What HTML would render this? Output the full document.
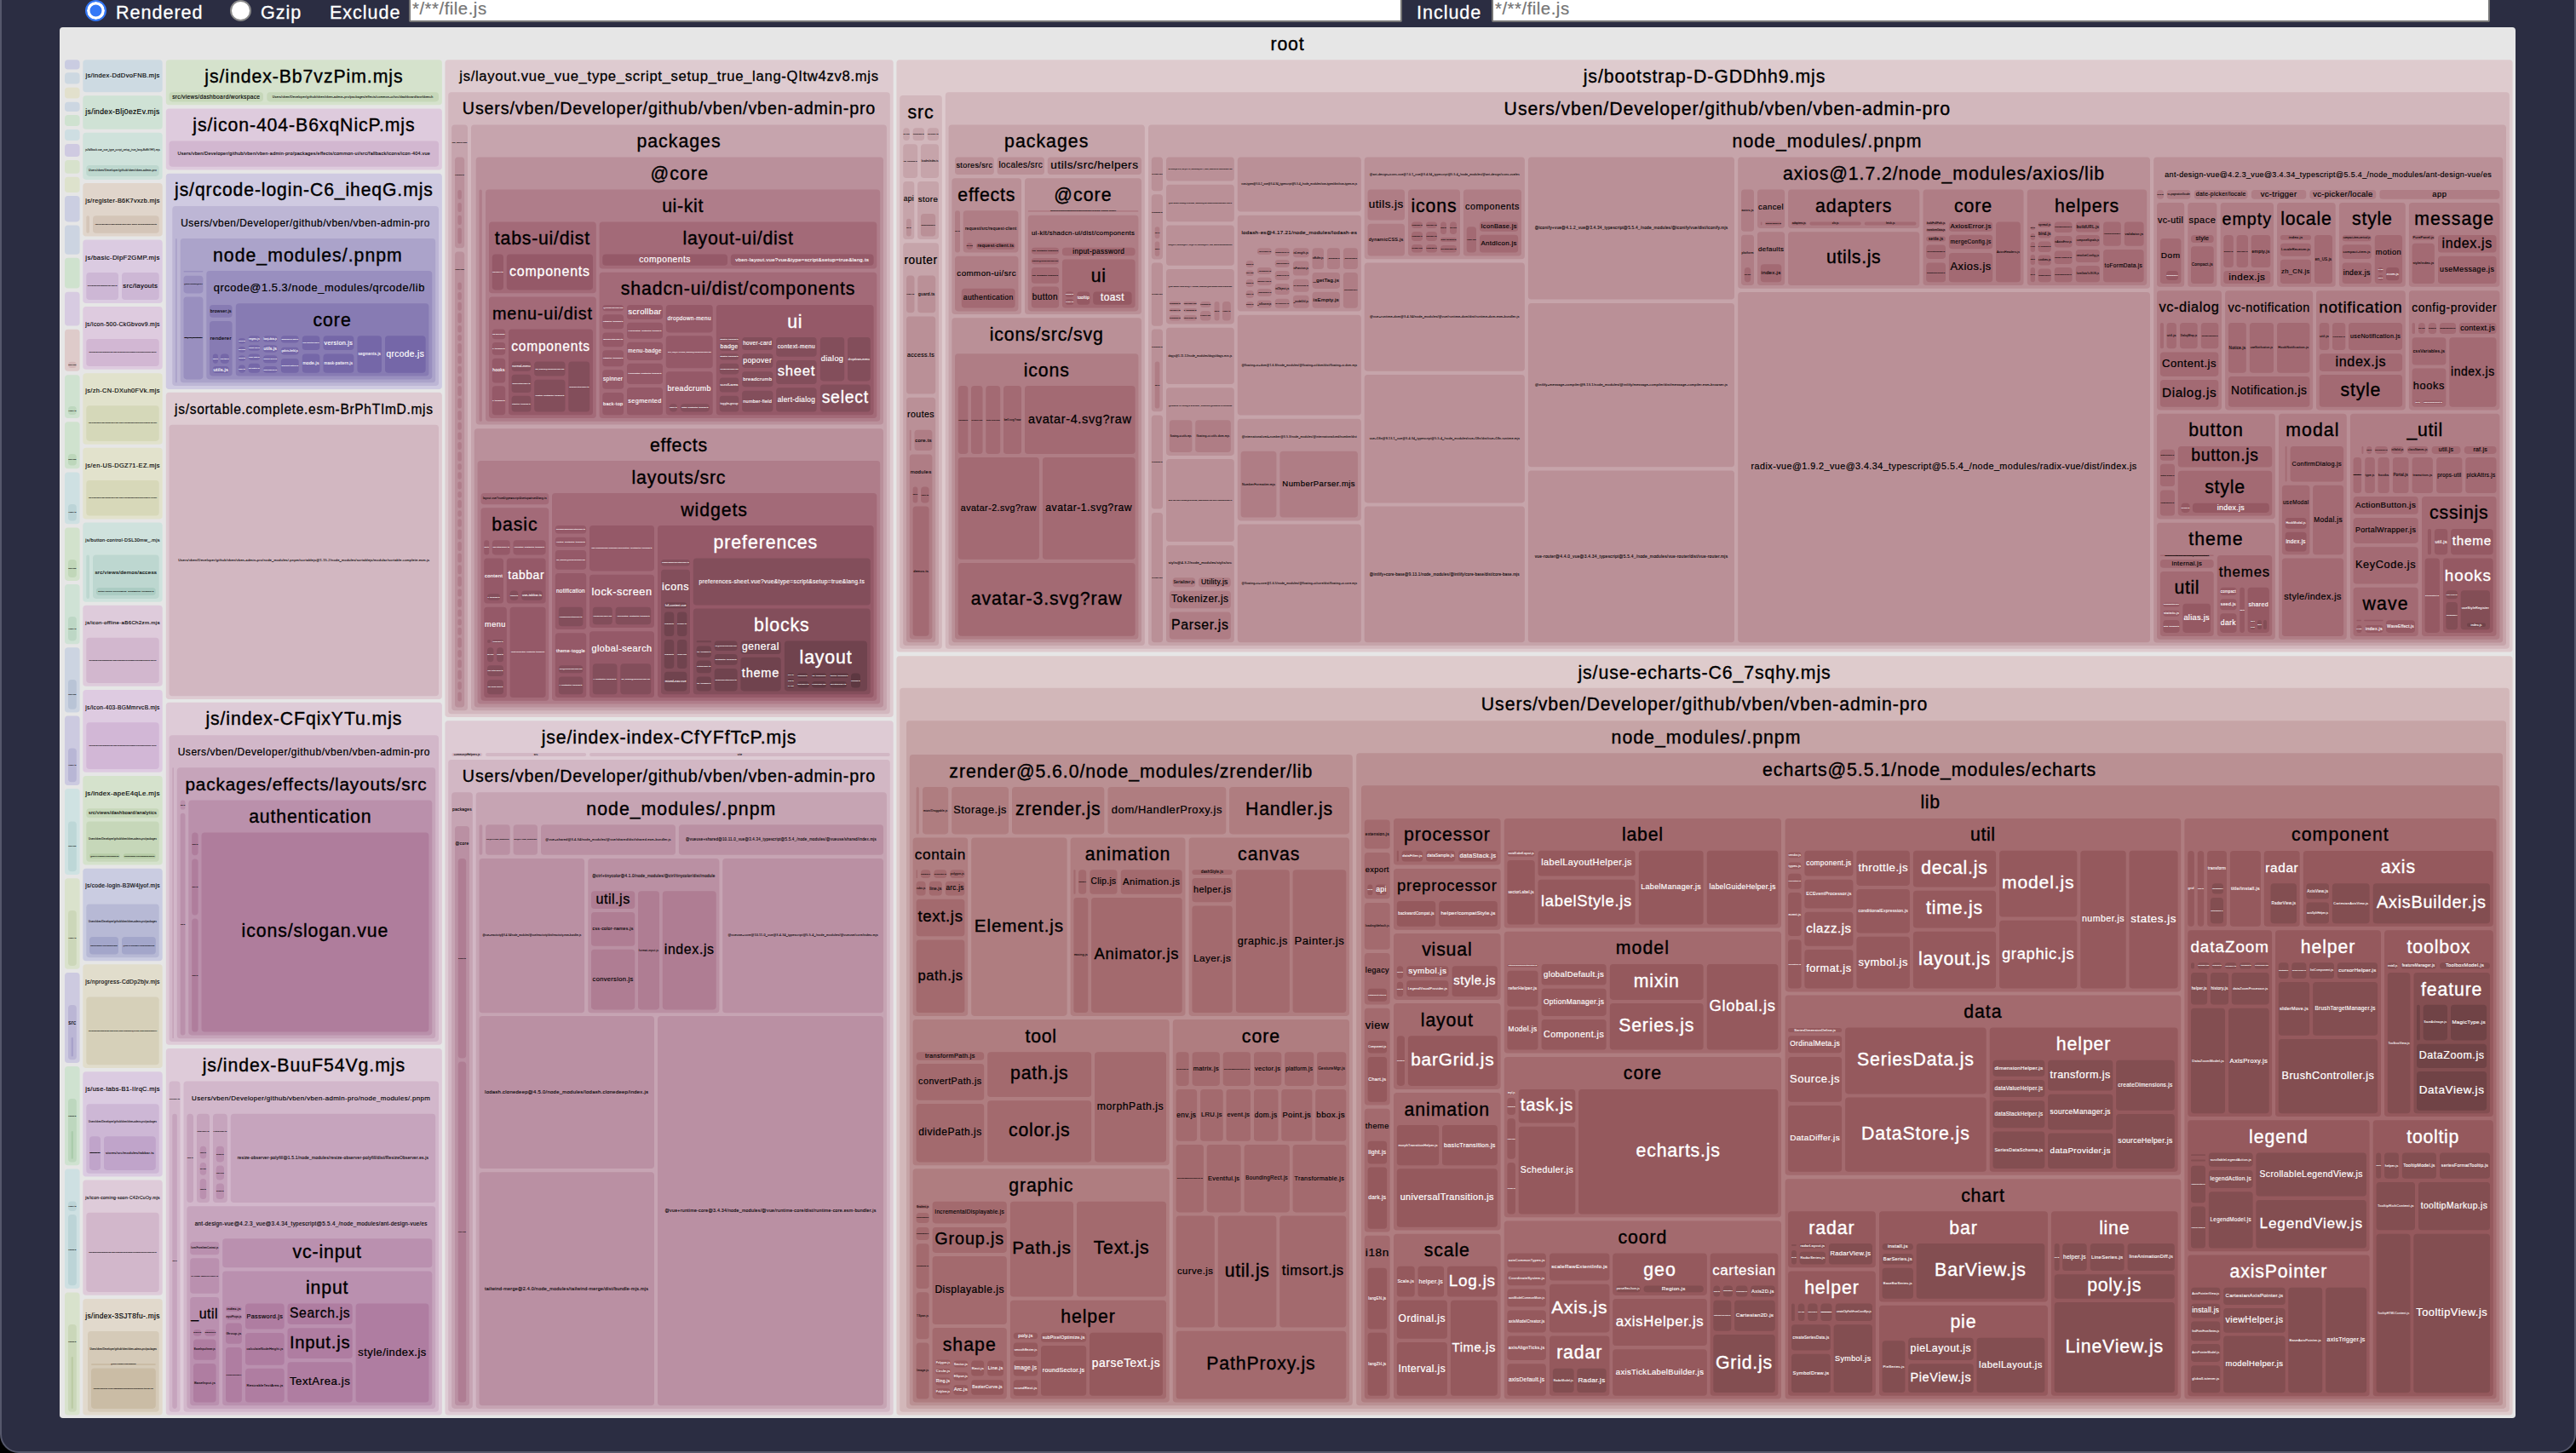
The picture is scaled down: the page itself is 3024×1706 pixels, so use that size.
<!DOCTYPE html>
<html lang="en"><head><meta charset="utf-8"><title>Rollup Visualizer</title>
<style>
html,body{margin:0;padding:0;background:#000;width:3024px;height:1706px;overflow:hidden}
body{position:relative;font-family:"Liberation Sans",sans-serif}
.win{position:absolute;left:0;top:-40px;width:3024px;height:1746px;box-sizing:border-box;border:2px solid #55576b;border-radius:22px;background:#2b2d42}
.hdr{position:absolute;left:0;top:0;width:3024px;height:32px;color:#fff;font-size:21.6px;letter-spacing:.95px;-webkit-text-stroke:.3px #fff}
.hdr span{position:absolute;top:2px;line-height:25px;white-space:nowrap}
.radio{position:absolute;top:0;width:25px;height:25px;border-radius:50%;box-sizing:border-box}
.r1{left:100px;background:#3478f6;border:2px solid #3478f6;box-shadow:inset 0 0 0 3.5px #fff}
.r2{left:270px;background:#fff;border:2px solid #8a8a8a}
.inp{position:absolute;top:-4px;height:30px;box-sizing:border-box;background:#fff;border:2px solid #767676;border-radius:2px;color:#757575;font-size:20.4px;line-height:25px;padding-left:2px;letter-spacing:.5px;-webkit-text-stroke:.2px #757575}
svg{position:absolute;left:0;top:0}
text{stroke-width:.018em;stroke:#000;font-family:"Liberation Sans",sans-serif;text-anchor:middle;dominant-baseline:middle;fill:#000}
text.w{fill:#fff;stroke:#fff}
</style></head><body>
<div class="win"></div>
<div class="hdr">
<div class="radio r1"></div><span style="left:136px">Rendered</span>
<div class="radio r2"></div><span style="left:306px">Gzip</span>
<span style="left:387px">Exclude</span><div class="inp" style="left:480px;width:1166px">*/**/file.js</div>
<span style="left:1663px">Include</span><div class="inp" style="left:1751px;width:1172px">*/**/file.js</div>
</div>
<svg width="3024" height="1706" viewBox="0 0 3024 1706">
<rect x="70" y="32" width="2883" height="1633" rx="3.8" fill="#e6e6e6"/>
<text x="1511.5" y="52.9" font-size="21.28" letter-spacing="0.83">root</text>
<rect x="76" y="70.2" width="17.6" height="11.3" rx="3.8" fill="#cacce1"/>
<text style="stroke-width:0.24px" x="84.8" y="75.8" font-size="0.49" letter-spacing="0.02">js/preferences.vue_vue_type_script_setup_true_lang-CkD92LmP.mjs</text>
<rect x="76" y="85.3" width="17.6" height="13.2" rx="3.8" fill="#cdd8e1"/>
<text style="stroke-width:0.24px" x="84.8" y="91.9" font-size="0.48" letter-spacing="0.02">js/authentication.vue_vue_type_script_setup_true_lang-Dq8sK2Lw.mjs</text>
<rect x="76" y="102.7" width="17.6" height="12.9" rx="3.8" fill="#e2e0cc"/>
<text style="stroke-width:0.24px" x="84.8" y="109.2" font-size="0.55" letter-spacing="0.02">js/index.vue_vue_type_script_setup_true_lang-B1xZq0aM.mjs</text>
<rect x="76" y="119.7" width="17.6" height="11.3" rx="3.8" fill="#ccd6e1"/>
<text style="stroke-width:0.24px" x="84.8" y="125.3" font-size="0.49" letter-spacing="0.02">js/preferences.vue_vue_type_script_setup_true_lang-CkD92LmP.mjs</text>
<rect x="76" y="134.9" width="17.6" height="13.1" rx="3.8" fill="#cfe2d0"/>
<text style="stroke-width:0.24px" x="84.8" y="141.4" font-size="0.48" letter-spacing="0.02">js/authentication.vue_vue_type_script_setup_true_lang-Dq8sK2Lw.mjs</text>
<rect x="76" y="152" width="17.6" height="13" rx="3.8" fill="#cedee2"/>
<text style="stroke-width:0.24px" x="84.8" y="158.5" font-size="0.55" letter-spacing="0.02">js/index.vue_vue_type_script_setup_true_lang-B1xZq0aM.mjs</text>
<rect x="76" y="169" width="17.6" height="15" rx="3.8" fill="#cfcae1"/>
<text style="stroke-width:0.24px" x="84.8" y="176.5" font-size="0.49" letter-spacing="0.02">js/preferences.vue_vue_type_script_setup_true_lang-CkD92LmP.mjs</text>
<rect x="76" y="188" width="17.6" height="15.7" rx="3.8" fill="#d7e2cc"/>
<text style="stroke-width:0.24px" x="84.8" y="195.8" font-size="0.48" letter-spacing="0.02">js/authentication.vue_vue_type_script_setup_true_lang-Dq8sK2Lw.mjs</text>
<rect x="76" y="207.8" width="17.6" height="18.2" rx="3.8" fill="#dde2cc"/>
<text style="stroke-width:0.24px" x="84.8" y="216.9" font-size="0.55" letter-spacing="0.02">js/index.vue_vue_type_script_setup_true_lang-B1xZq0aM.mjs</text>
<rect x="76" y="230" width="17.6" height="30.4" rx="3.8" fill="#cbcee1"/>
<text style="stroke-width:0.24px" x="84.8" y="245.2" font-size="0.49" letter-spacing="0.02">js/preferences.vue_vue_type_script_setup_true_lang-CkD92LmP.mjs</text>
<rect x="76" y="264.5" width="17.6" height="34.2" rx="3.8" fill="#ccd4e1"/>
<text style="stroke-width:0.24px" x="84.8" y="281.6" font-size="0.48" letter-spacing="0.02">js/authentication.vue_vue_type_script_setup_true_lang-Dq8sK2Lw.mjs</text>
<rect x="76" y="302.8" width="17.6" height="35.8" rx="3.8" fill="#cfe2ce"/>
<text style="stroke-width:0.24px" x="84.8" y="320.7" font-size="0.55" letter-spacing="0.02">js/index.vue_vue_type_script_setup_true_lang-B1xZq0aM.mjs</text>
<rect x="76" y="342.7" width="17.6" height="39.9" rx="3.8" fill="#d7cbe1"/>
<text style="stroke-width:0.24px" x="84.8" y="362.6" font-size="0.49" letter-spacing="0.02">js/preferences.vue_vue_type_script_setup_true_lang-CkD92LmP.mjs</text>
<rect x="76" y="386.8" width="17.6" height="49" rx="3.8" fill="#decbca"/>
<text style="stroke-width:0.24px" x="84.8" y="407.7" font-size="0.48" letter-spacing="0.02">js/authentication.vue_vue_type_script_setup_true_lang-Dq8sK2Lw.mjs</text>
<rect x="80" y="424.8" width="9.8" height="7.1" rx="3.5" fill="#d2b7b7"/>
<text style="stroke-width:0.07px" x="84.9" y="428.4" font-size="1.99" letter-spacing="0.08">index.mjs</text>
<rect x="76" y="440.2" width="17.6" height="50.9" rx="3.8" fill="#cfe2d0"/>
<text style="stroke-width:0.24px" x="84.8" y="461.1" font-size="0.55" letter-spacing="0.02">js/index.vue_vue_type_script_setup_true_lang-B1xZq0aM.mjs</text>
<rect x="80" y="477" width="9.8" height="10" rx="3.8" fill="#bdd7be"/>
<text style="stroke-width:0.07px" x="84.9" y="482" font-size="2.26" letter-spacing="0.08">/index.ts</text>
<rect x="76" y="495.2" width="17.6" height="55.1" rx="3.8" fill="#cfe2ce"/>
<text style="stroke-width:0.24px" x="84.8" y="516.1" font-size="0.49" letter-spacing="0.02">js/preferences.vue_vue_type_script_setup_true_lang-CkD92LmP.mjs</text>
<rect x="80" y="533" width="9.8" height="13.5" rx="3.8" fill="#bdd7bb"/>
<text style="stroke-width:0.07px" x="84.9" y="539.8" font-size="1.99" letter-spacing="0.08">index.mjs</text>
<rect x="76" y="554.4" width="17.6" height="60.9" rx="3.8" fill="#cee0e2"/>
<text style="stroke-width:0.24px" x="84.8" y="575.3" font-size="0.48" letter-spacing="0.02">js/authentication.vue_vue_type_script_setup_true_lang-Dq8sK2Lw.mjs</text>
<rect x="80" y="592" width="9.8" height="19.5" rx="3.8" fill="#bcd4d7"/>
<text style="stroke-width:0.07px" x="84.9" y="601.8" font-size="2.26" letter-spacing="0.08">/index.ts</text>
<rect x="76" y="619.4" width="17.6" height="62.5" rx="3.8" fill="#d2e2cc"/>
<text style="stroke-width:0.24px" x="84.8" y="640.3" font-size="0.55" letter-spacing="0.02">js/index.vue_vue_type_script_setup_true_lang-B1xZq0aM.mjs</text>
<rect x="80" y="657" width="9.8" height="21" rx="3.8" fill="#c1d7b9"/>
<text style="stroke-width:0.07px" x="84.9" y="667.5" font-size="1.99" letter-spacing="0.08">index.mjs</text>
<rect x="76" y="686" width="17.6" height="70.2" rx="3.8" fill="#cfe2d5"/>
<text style="stroke-width:0.24px" x="84.8" y="706.9" font-size="0.49" letter-spacing="0.02">js/preferences.vue_vue_type_script_setup_true_lang-CkD92LmP.mjs</text>
<rect x="80" y="724" width="9.8" height="28.4" rx="3.8" fill="#bdd7c5"/>
<text style="stroke-width:0.07px" x="84.9" y="738.2" font-size="2.26" letter-spacing="0.08">/index.ts</text>
<rect x="76" y="760.3" width="17.6" height="76.3" rx="3.8" fill="#ccd4e1"/>
<text style="stroke-width:0.24px" x="84.8" y="781.2" font-size="0.48" letter-spacing="0.02">js/authentication.vue_vue_type_script_setup_true_lang-Dq8sK2Lw.mjs</text>
<rect x="80" y="798" width="9.8" height="34.8" rx="3.8" fill="#b9c4d6"/>
<text style="stroke-width:0.07px" x="84.9" y="815.4" font-size="1.99" letter-spacing="0.08">index.mjs</text>
<rect x="76" y="840.5" width="17.6" height="81.5" rx="3.8" fill="#cccae0"/>
<text style="stroke-width:0.24px" x="84.8" y="861.4" font-size="0.55" letter-spacing="0.02">js/index.vue_vue_type_script_setup_true_lang-B1xZq0aM.mjs</text>
<rect x="80" y="878.5" width="9.8" height="39.7" rx="3.8" fill="#b8b6d5"/>
<text style="stroke-width:0.07px" x="84.9" y="898.4" font-size="2.26" letter-spacing="0.08">/index.ts</text>
<rect x="76" y="926" width="17.6" height="101" rx="3.8" fill="#cfe2e2"/>
<text style="stroke-width:0.24px" x="84.8" y="946.9" font-size="0.49" letter-spacing="0.02">js/preferences.vue_vue_type_script_setup_true_lang-CkD92LmP.mjs</text>
<rect x="80" y="964.4" width="9.8" height="58.8" rx="3.8" fill="#bdd7d7"/>
<text style="stroke-width:0.07px" x="84.9" y="993.8" font-size="1.99" letter-spacing="0.08">index.mjs</text>
<rect x="76" y="1031.2" width="17.6" height="106.6" rx="3.8" fill="#dae2cc"/>
<text style="stroke-width:0.24px" x="84.8" y="1052.1" font-size="0.48" letter-spacing="0.02">js/authentication.vue_vue_type_script_setup_true_lang-Dq8sK2Lw.mjs</text>
<rect x="80" y="1069" width="9.8" height="65" rx="3.8" fill="#ccd7b9"/>
<text style="stroke-width:0.07px" x="84.9" y="1101.5" font-size="2.26" letter-spacing="0.08">/index.ts</text>
<rect x="76" y="1142" width="17.6" height="106" rx="3.8" fill="#cdcae0"/>
<text style="stroke-width:0.24px" x="84.8" y="1162.9" font-size="0.55" letter-spacing="0.02">js/index.vue_vue_type_script_setup_true_lang-B1xZq0aM.mjs</text>
<rect x="80" y="1180" width="9.8" height="64.2" rx="3.8" fill="#bbb6d5"/>
<text x="84.9" y="1200.9" font-size="6.32" letter-spacing="0.25">src</text>
<rect x="83.6" y="1218" width="2.4" height="22.5" rx="1.2" fill="#a8a2ca"/>
<rect x="76" y="1252" width="17.6" height="116.3" rx="3.8" fill="#cfe2d0"/>
<text style="stroke-width:0.24px" x="84.8" y="1272.9" font-size="0.49" letter-spacing="0.02">js/preferences.vue_vue_type_script_setup_true_lang-CkD92LmP.mjs</text>
<rect x="80" y="1290" width="9.8" height="74.5" rx="3.8" fill="#bdd7be"/>
<text style="stroke-width:0.07px" x="84.9" y="1310.9" font-size="2.02" letter-spacing="0.08">e&amp;lang.ts</text>
<rect x="83.6" y="1328" width="2.4" height="32.7" rx="1.2" fill="#abccac"/>
<rect x="76" y="1372.4" width="17.6" height="140.6" rx="3.8" fill="#cee0e2"/>
<text style="stroke-width:0.24px" x="84.8" y="1393.3" font-size="0.48" letter-spacing="0.02">js/authentication.vue_vue_type_script_setup_true_lang-Dq8sK2Lw.mjs</text>
<rect x="80" y="1410.4" width="9.8" height="11.6" rx="3.8" fill="#bcd4d7"/>
<text style="stroke-width:0.07px" x="84.9" y="1416.2" font-size="2.26" letter-spacing="0.08">/index.ts</text>
<rect x="80" y="1426" width="9.8" height="83.2" rx="3.8" fill="#bcd4d7"/>
<text style="stroke-width:0.07px" x="84.9" y="1467.6" font-size="2.02" letter-spacing="0.08">e&amp;lang.ts</text>
<rect x="76" y="1517.4" width="17.6" height="144.1" rx="3.8" fill="#d8e2cc"/>
<text style="stroke-width:0.24px" x="84.8" y="1538.3" font-size="0.55" letter-spacing="0.02">js/index.vue_vue_type_script_setup_true_lang-B1xZq0aM.mjs</text>
<rect x="80" y="1555" width="9.8" height="102.7" rx="3.8" fill="#cad7b9"/>
<text style="stroke-width:0.07px" x="84.9" y="1575.9" font-size="2.02" letter-spacing="0.08">e&amp;lang.ts</text>
<rect x="83.6" y="1593" width="2.4" height="60.9" rx="1.2" fill="#bccca6"/>
<rect x="97.3" y="70.2" width="93.4" height="38" rx="3.8" fill="#cddae2"/>
<text x="144" y="89.2" font-size="7.56" letter-spacing="0.34">js/index-DdDvoFNB.mjs</text>
<rect x="97.3" y="112.3" width="93.4" height="39.4" rx="3.8" fill="#cfe2d5"/>
<text x="144" y="132" font-size="8.57" letter-spacing="0.34">js/index-Blj0ezEv.mjs</text>
<rect x="97.3" y="155.8" width="93.4" height="55.1" rx="3.8" fill="#cfe2db"/>
<text style="stroke-width:0.07px" x="144" y="176.7" font-size="2.83" letter-spacing="0.12">js/fallback.vue_vue_type_script_setup_true_lang-BxBhYHYj.mjs</text>
<rect x="101.3" y="194" width="85.4" height="12.9" rx="3.8" fill="#bdd7ce"/>
<text x="144" y="200.4" font-size="3.24" letter-spacing="0.14">Users/vben/Developer/github/vben/vben-admin-pro</text>
<rect x="97.3" y="215" width="93.4" height="62.5" rx="3.8" fill="#e0d5cb"/>
<text x="144" y="235.9" font-size="7.3" letter-spacing="0.30">js/register-B6K7vxzb.mjs</text>
<rect x="101.3" y="253.3" width="3.7" height="20.4" rx="1.9" fill="#d4c5b8"/>
<rect x="109" y="253.3" width="77.7" height="20.4" rx="3.8" fill="#d4c5b8"/>
<text style="stroke-width:0.07px" x="147.8" y="263.5" font-size="2.2" letter-spacing="0.09">Users/vben/Developer/github/vben/vben-admin-pro/packages/effects</text>
<rect x="97.3" y="281.6" width="93.4" height="74.4" rx="3.8" fill="#dbcbe1"/>
<text x="144" y="302.5" font-size="7.78" letter-spacing="0.34">js/basic-DlpF2GMP.mjs</text>
<rect x="101.3" y="320" width="37.7" height="32" rx="3.8" fill="#cdb7d5"/>
<text style="stroke-width:0.07px" x="120.2" y="336" font-size="1.43" letter-spacing="0.06">Users/vben/Developer/github/vben/vben-admin-pro</text>
<rect x="143" y="320" width="43.7" height="32" rx="3.8" fill="#cdb7d5"/>
<text x="164.8" y="336" font-size="7.86" letter-spacing="0.31">src/layouts</text>
<rect x="97.3" y="360" width="93.4" height="73.8" rx="3.8" fill="#decbdf"/>
<text x="144" y="380.9" font-size="6.88" letter-spacing="0.30">js/icon-500-CkGbvov9.mjs</text>
<rect x="101.3" y="398" width="85.4" height="32" rx="3.8" fill="#d2b7d3"/>
<text style="stroke-width:0.07px" x="144" y="414" font-size="1.48" letter-spacing="0.06">Users/vben/Developer/github/vben/vben-admin-pro/packages/effects/common-ui/src/fallback/icons/icon-500.vue</text>
<rect x="97.3" y="438.3" width="93.4" height="83.4" rx="3.8" fill="#e1e2cc"/>
<text x="144" y="459.2" font-size="7.41" letter-spacing="0.34">js/zh-CN-DXuh0FVk.mjs</text>
<rect x="101.3" y="476.2" width="85.4" height="41.7" rx="3.8" fill="#d5d8b9"/>
<text style="stroke-width:0.07px" x="144" y="497" font-size="1.83" letter-spacing="0.08">Users/vben/Developer/github/vben/vben-admin-pro/packages/locales/src/langs/zh-CN.json</text>
<rect x="97.3" y="525.8" width="93.4" height="83.7" rx="3.8" fill="#e2e2cc"/>
<text x="144" y="546.7" font-size="7.41" letter-spacing="0.34">js/en-US-DGZ71-EZ.mjs</text>
<rect x="101.3" y="564" width="85.4" height="41.6" rx="3.8" fill="#d7d8b9"/>
<text style="stroke-width:0.07px" x="144" y="584.8" font-size="1.83" letter-spacing="0.08">Users/vben/Developer/github/vben/vben-admin-pro/packages/locales/src/langs/en-US.json</text>
<rect x="97.3" y="613.6" width="93.4" height="93.1" rx="3.8" fill="#cfe2dd"/>
<text x="144" y="634.5" font-size="5.56" letter-spacing="0.24">js/button-control-DSL30mw_.mjs</text>
<rect x="101.3" y="651.6" width="3.7" height="51.3" rx="1.9" fill="#bdd7d0"/>
<rect x="109" y="651.6" width="77.7" height="51.3" rx="3.8" fill="#bdd7d0"/>
<text x="147.8" y="672.5" font-size="6.2" letter-spacing="0.27">src/views/demos/access</text>
<rect x="112.9" y="690" width="69.9" height="9" rx="3.8" fill="#abccc3"/>
<text style="stroke-width:0.07px" x="147.9" y="694.5" font-size="2.43" letter-spacing="0.10">button-control.vue?vue&amp;type=script&amp;setup=true&amp;lang.ts</text>
<rect x="97.3" y="710.8" width="93.4" height="95" rx="3.8" fill="#decbdb"/>
<text x="144" y="731.7" font-size="6.21" letter-spacing="0.26">js/icon-offline-aB6Ch2zm.mjs</text>
<rect x="101.3" y="748.8" width="85.4" height="53.2" rx="3.8" fill="#d2b7ce"/>
<text style="stroke-width:0.07px" x="144" y="775.4" font-size="1.45" letter-spacing="0.06">Users/vben/Developer/github/vben/vben-admin-pro/packages/effects/common-ui/src/fallback/icons/icon-offline.vue</text>
<rect x="97.3" y="810" width="93.4" height="96.8" rx="3.8" fill="#decbe1"/>
<text x="144" y="830.9" font-size="6.63" letter-spacing="0.30">js/icon-403-BGMmrvcB.mjs</text>
<rect x="101.3" y="848.2" width="85.4" height="54.8" rx="3.8" fill="#d2b7d6"/>
<text style="stroke-width:0.07px" x="144" y="875.6" font-size="1.48" letter-spacing="0.06">Users/vben/Developer/github/vben/vben-admin-pro/packages/effects/common-ui/src/fallback/icons/icon-403.vue</text>
<rect x="97.3" y="911" width="93.4" height="104.6" rx="3.8" fill="#d5e2cc"/>
<text x="144" y="931.9" font-size="7.94" letter-spacing="0.34">js/index-apeE4qLe.mjs</text>
<rect x="101.3" y="949.2" width="85.4" height="11" rx="3.8" fill="#c6d7b9"/>
<text x="144" y="954.7" font-size="5.53" letter-spacing="0.23">src/views/dashboard/analytics</text>
<rect x="101.3" y="964.4" width="85.4" height="47.4" rx="3.8" fill="#c6d7b9"/>
<text style="stroke-width:0.07px" x="144" y="985.3" font-size="2.7" letter-spacing="0.12">Users/vben/Developer/github/vben/vben-admin-pro/packages</text>
<rect x="105" y="1002.3" width="35.7" height="5.7" rx="2.9" fill="#b6cca6"/>
<text style="stroke-width:0.07px" x="122.8" y="1005.1" font-size="1.75" letter-spacing="0.07">@core/ui-kit/shadcn-ui/dist/components</text>
<rect x="144.8" y="1002.3" width="38" height="5.7" rx="2.9" fill="#b6cca6"/>
<text style="stroke-width:0.07px" x="163.8" y="1005.1" font-size="1.75" letter-spacing="0.07">effects/common-ui/src/dashboard/analysis</text>
<rect x="97.3" y="1019.7" width="93.4" height="108.5" rx="3.8" fill="#cacce1"/>
<text x="144" y="1040.6" font-size="6.66" letter-spacing="0.28">js/code-login-B3W4jyof.mjs</text>
<rect x="101.3" y="1061.5" width="85.4" height="62.8" rx="3.8" fill="#b7b9d5"/>
<text style="stroke-width:0.07px" x="144" y="1082.4" font-size="2.7" letter-spacing="0.12">Users/vben/Developer/github/vben/vben-admin-pro/packages</text>
<rect x="105" y="1100" width="34" height="20.5" rx="3.8" fill="#a3a6ca"/>
<text style="stroke-width:0.07px" x="122" y="1110.2" font-size="1.8" letter-spacing="0.07">effects/common-ui/src/authentication</text>
<rect x="143" y="1100" width="39.8" height="20.5" rx="3.8" fill="#a3a6ca"/>
<text style="stroke-width:0.07px" x="162.9" y="1110.2" font-size="1.95" letter-spacing="0.08">@core/ui-kit/shadcn-ui/dist/components</text>
<rect x="97.3" y="1132.3" width="93.4" height="121.7" rx="3.8" fill="#e1ddcc"/>
<text x="144" y="1153.2" font-size="6.73" letter-spacing="0.29">js/nprogress-CdDp2bjv.mjs</text>
<rect x="101.3" y="1170.4" width="85.4" height="79.8" rx="3.8" fill="#d6d0b9"/>
<text style="stroke-width:0.07px" x="144" y="1210.3" font-size="1.27" letter-spacing="0.06">Users/vben/Developer/github/vben/vben-admin-pro/node_modules/.pnpm/nprogress@0.2.0/node_modules/nprogress/nprogress.js</text>
<rect x="97.3" y="1258.2" width="93.4" height="123.3" rx="3.8" fill="#dbcbe1"/>
<text x="144" y="1279.1" font-size="7.49" letter-spacing="0.30">js/use-tabs-B1-IIrqC.mjs</text>
<rect x="101.3" y="1296.2" width="85.4" height="81.5" rx="3.8" fill="#cdb7d5"/>
<text style="stroke-width:0.07px" x="144" y="1317.1" font-size="2.7" letter-spacing="0.12">Users/vben/Developer/github/vben/vben-admin-pro/packages</text>
<rect x="105" y="1334.2" width="13" height="39.7" rx="3.8" fill="#c0a4ca"/>
<text style="stroke-width:0.24px" x="111.5" y="1354.1" font-size="0.88" letter-spacing="0.03">effects/hooks/src/use-tabs.ts</text>
<rect x="122" y="1334.2" width="60.8" height="39.7" rx="3.8" fill="#c0a4ca"/>
<text x="152.4" y="1354.1" font-size="4.18" letter-spacing="0.17">stores/src/modules/tabbar.ts</text>
<rect x="97.3" y="1385.6" width="93.4" height="135.1" rx="3.8" fill="#decbd9"/>
<text x="144" y="1406.5" font-size="5.11" letter-spacing="0.23">js/icon-coming-soon-C42rCuOy.mjs</text>
<rect x="101.3" y="1423.7" width="85.4" height="93.3" rx="3.8" fill="#d2b7cb"/>
<text style="stroke-width:0.07px" x="144" y="1470.3" font-size="1.37" letter-spacing="0.06">Users/vben/Developer/github/vben/vben-admin-pro/packages/effects/common-ui/src/fallback/icons/icon-coming-soon.vue</text>
<rect x="97.3" y="1524.9" width="93.4" height="136.6" rx="3.8" fill="#e1d9cc"/>
<text x="144" y="1545.8" font-size="8.35" letter-spacing="0.34">js/index-3SJT8fu-.mjs</text>
<rect x="103" y="1562.9" width="83.7" height="94.8" rx="3.8" fill="#d5cab8"/>
<text style="stroke-width:0.07px" x="144.8" y="1583.8" font-size="2.65" letter-spacing="0.12">Users/vben/Developer/github/vben/vben-admin-pro/packages</text>
<rect x="107" y="1601" width="75.8" height="2" rx="1" fill="#cabca5"/>
<text style="stroke-width:0.07px" x="144.9" y="1602" font-size="1.56" letter-spacing="0.06">@core/ui-kit/shadcn-ui/dist/components</text>
<rect x="107" y="1606.6" width="75.8" height="47.3" rx="3.8" fill="#cabca5"/>
<text style="stroke-width:0.07px" x="144.9" y="1630.2" font-size="2.17" letter-spacing="0.09">effects/common-ui/src/dashboard/workbench/workbench-trends.vue</text>
<rect x="194.8" y="70.2" width="324.1" height="53.1" rx="3.8" fill="#d5e2cc"/>
<text x="356.9" y="91.1" font-size="21.28" letter-spacing="0.92">js/index-Bb7vzPim.mjs</text>
<rect x="198.5" y="108.3" width="110.5" height="11.1" rx="3.8" fill="#c6d7b9"/>
<text x="253.8" y="113.8" font-size="6.7" letter-spacing="0.29">src/views/dashboard/workspace</text>
<rect x="313.3" y="108.3" width="201.7" height="11.1" rx="3.8" fill="#c6d7b9"/>
<text x="414.1" y="113.8" font-size="3.66" letter-spacing="0.16">Users/vben/Developer/github/vben/vben-admin-pro/packages/effects/common-ui/src/dashboard/workbench</text>
<rect x="194.8" y="127.4" width="324.1" height="72.2" rx="3.8" fill="#decbdd"/>
<text x="356.9" y="148.3" font-size="21.28" letter-spacing="0.90">js/icon-404-B6xqNicP.mjs</text>
<rect x="198.5" y="165.4" width="316.5" height="30.4" rx="3.8" fill="#d2b7d0"/>
<text x="356.8" y="180.6" font-size="5.5" letter-spacing="0.23">Users/vben/Developer/github/vben/vben-admin-pro/packages/effects/common-ui/src/fallback/icons/icon-404.vue</text>
<rect x="194.8" y="203.7" width="324.1" height="253.3" rx="3.8" fill="#cfcae1"/>
<text x="356.9" y="224.6" font-size="21.15" letter-spacing="0.90">js/qrcode-login-C6_iheqG.mjs</text>
<rect x="202.3" y="241.9" width="312.7" height="211.1" rx="3.8" fill="#bdb6d5"/>
<text x="358.6" y="262.8" font-size="11.88" letter-spacing="0.51">Users/vben/Developer/github/vben/vben-admin-pro</text>
<rect x="205.9" y="280" width="1.9" height="169.2" rx="1" fill="#aba3ca"/>
<rect x="211.7" y="280" width="299.5" height="169.2" rx="3.8" fill="#aba3ca"/>
<text x="361.4" y="300.9" font-size="21.28" letter-spacing="1.02">node_modules/.pnpm</text>
<rect x="215.5" y="318" width="22.9" height="1.5" rx="0.8" fill="#998fbf"/>
<text style="stroke-width:0.24px" x="226.9" y="318.8" font-size="0.39" letter-spacing="0.02">packages/effects/layouts/src/widgets/preferences/blocks/layout/content.vue?vue&amp;type=script&amp;setup=true&amp;lang.ts</text>
<rect x="215.5" y="323.8" width="22.9" height="20.6" rx="3.8" fill="#998fbf"/>
<text style="stroke-width:0.07px" x="226.9" y="334.1" font-size="1.38" letter-spacing="0.06">@vueuse+integrations@10.11.0</text>
<rect x="215.5" y="348.5" width="22.9" height="96.9" rx="3.8" fill="#998fbf"/>
<text style="stroke-width:0.24px" x="226.9" y="396.9" font-size="0.87" letter-spacing="0.03">dijkstrajs@1.0.3/node_modules/dijkstrajs/dijkstra.js</text>
<rect x="242.3" y="318" width="265" height="127.4" rx="3.8" fill="#998fbf"/>
<text x="374.8" y="338.9" font-size="12.83" letter-spacing="0.57">qrcode@1.5.3/node_modules/qrcode/lib</text>
<rect x="246" y="358" width="26.6" height="14.8" rx="3.8" fill="#877bb3"/>
<text x="259.3" y="365.4" font-size="5.08" letter-spacing="0.21">browser.js</text>
<rect x="246" y="377" width="26.6" height="64.6" rx="3.8" fill="#877bb3"/>
<text x="259.3" y="397.9" font-size="6.05" letter-spacing="0.26">renderer</text>
<rect x="249.8" y="415.5" width="6.2" height="11.2" rx="3.1" fill="#7567a8"/>
<text class="w" style="stroke-width:0.07px" x="252.9" y="421.1" font-size="1.96" letter-spacing="0.08">ang.ts</text>
<rect x="258.8" y="415.5" width="10" height="11.2" rx="3.8" fill="#7567a8"/>
<text class="w" style="stroke-width:0.07px" x="263.8" y="421.1" font-size="2.01" letter-spacing="0.08">svg-tag.js</text>
<rect x="249.8" y="430" width="19" height="8" rx="3.8" fill="#7567a8"/>
<text class="w" x="259.3" y="434" font-size="5.88" letter-spacing="0.18">utils.js</text>
<rect x="276.8" y="356.2" width="226.6" height="85.4" rx="3.8" fill="#877bb3"/>
<text x="390.1" y="377.1" font-size="21.28" letter-spacing="0.93">core</text>
<rect x="280" y="397" width="8" height="6.5" rx="3.2" fill="#7567a8"/>
<text class="w" style="stroke-width:0.07px" x="284" y="400.2" font-size="2.33" letter-spacing="0.09">lang.ts</text>
<rect x="280" y="407" width="8" height="6.7" rx="3.3" fill="#7567a8"/>
<text class="w" style="stroke-width:0.07px" x="284" y="410.4" font-size="2" letter-spacing="0.09">dex.mjs</text>
<rect x="280" y="417.5" width="8" height="6.5" rx="3.2" fill="#7567a8"/>
<text class="w" style="stroke-width:0.07px" x="284" y="420.8" font-size="2.33" letter-spacing="0.09">lang.ts</text>
<rect x="280" y="428.5" width="8" height="9.2" rx="3.8" fill="#7567a8"/>
<text class="w" style="stroke-width:0.07px" x="284" y="433.1" font-size="2.13" letter-spacing="0.09">ndex.ts</text>
<rect x="291.6" y="394.3" width="13.6" height="7.3" rx="3.7" fill="#7567a8"/>
<text class="w" x="298.4" y="398" font-size="3.34" letter-spacing="0.13">regex.js</text>
<rect x="291.6" y="405.3" width="13.6" height="6.5" rx="3.2" fill="#7567a8"/>
<text class="w" style="stroke-width:0.07px" x="298.4" y="408.6" font-size="2.02" letter-spacing="0.08">format-info.js</text>
<rect x="291.6" y="415.5" width="13.6" height="7.5" rx="3.8" fill="#7567a8"/>
<text class="w" style="stroke-width:0.07px" x="298.4" y="419.2" font-size="2.19" letter-spacing="0.08">kanji-data.js</text>
<rect x="291.6" y="426.7" width="13.6" height="11" rx="3.8" fill="#7567a8"/>
<text class="w" style="stroke-width:0.07px" x="298.4" y="432.2" font-size="2.29" letter-spacing="0.08">bit-matrix.js</text>
<rect x="309" y="394.3" width="16.6" height="7.3" rx="3.7" fill="#7567a8"/>
<text class="w" style="stroke-width:0.07px" x="317.3" y="398" font-size="2.67" letter-spacing="0.10">kanji-data.js</text>
<rect x="309" y="405.3" width="16.6" height="8.4" rx="3.8" fill="#7567a8"/>
<text class="w" x="317.3" y="409.5" font-size="5.14" letter-spacing="0.16">utils.js</text>
<rect x="309" y="417.2" width="16.6" height="9.1" rx="3.8" fill="#7567a8"/>
<text class="w" style="stroke-width:0.07px" x="317.3" y="421.8" font-size="2.47" letter-spacing="0.09">galois-field.js</text>
<rect x="309" y="430" width="16.6" height="7.7" rx="3.8" fill="#7567a8"/>
<text class="w" style="stroke-width:0.07px" x="317.3" y="433.9" font-size="2.47" letter-spacing="0.10">polynomial.js</text>
<rect x="329.8" y="394.3" width="20.9" height="8.2" rx="3.8" fill="#7567a8"/>
<text class="w" style="stroke-width:0.07px" x="340.2" y="398.4" font-size="1.94" letter-spacing="0.08">alphanumeric-data.js</text>
<rect x="329.8" y="407.7" width="20.9" height="8.8" rx="3.8" fill="#7567a8"/>
<text class="w" style="stroke-width:0.07px" x="340.2" y="412.1" font-size="3.11" letter-spacing="0.11">galois-field.js</text>
<rect x="329.8" y="421" width="20.9" height="16.7" rx="3.8" fill="#7567a8"/>
<text class="w" style="stroke-width:0.07px" x="340.2" y="429.4" font-size="2.05" letter-spacing="0.08">alignment-pattern.js</text>
<rect x="354.8" y="394.3" width="20.6" height="16.7" rx="3.8" fill="#7567a8"/>
<text class="w" style="stroke-width:0.07px" x="365.1" y="402.6" font-size="1.71" letter-spacing="0.07">error-correction-code.js</text>
<rect x="354.8" y="415.5" width="20.6" height="22.2" rx="3.8" fill="#7567a8"/>
<text class="w" x="365.1" y="426.6" font-size="5.06" letter-spacing="0.23">mode.js</text>
<rect x="379.5" y="394.3" width="35.9" height="16.7" rx="3.8" fill="#7567a8"/>
<text class="w" x="397.4" y="402.6" font-size="7.31" letter-spacing="0.28">version.js</text>
<rect x="379.5" y="415.5" width="35.9" height="22.2" rx="3.8" fill="#7567a8"/>
<text class="w" x="397.4" y="426.6" font-size="4.51" letter-spacing="0.19">mask-pattern.js</text>
<rect x="419.5" y="394.3" width="28.5" height="43.4" rx="3.8" fill="#7567a8"/>
<text class="w" x="433.8" y="416" font-size="4.59" letter-spacing="0.20">segments.js</text>
<rect x="452" y="394.3" width="47.6" height="43.4" rx="3.8" fill="#7567a8"/>
<text class="w" x="475.8" y="416" font-size="10.08" letter-spacing="0.41">qrcode.js</text>
<rect x="194.8" y="460.8" width="324.1" height="360.2" rx="3.8" fill="#decbd2"/>
<text x="356.9" y="481.7" font-size="15.57" letter-spacing="0.68">js/sortable.complete.esm-BrPhTImD.mjs</text>
<rect x="198.5" y="498.8" width="316.5" height="318.5" rx="3.8" fill="#d2b7c1"/>
<text x="356.8" y="658" font-size="4.03" letter-spacing="0.17">Users/vben/Developer/github/vben/vben-admin-pro/node_modules/.pnpm/sortablejs@1.15.2/node_modules/sortablejs/modular/sortable.complete.esm.js</text>
<rect x="194.8" y="824.8" width="324.1" height="402" rx="3.8" fill="#decbd7"/>
<text x="356.9" y="845.7" font-size="21.28" letter-spacing="0.91">js/index-CFqixYTu.mjs</text>
<rect x="198.5" y="863.3" width="316.5" height="359.7" rx="3.8" fill="#d2b7c9"/>
<text x="356.8" y="884.2" font-size="12.03" letter-spacing="0.52">Users/vben/Developer/github/vben/vben-admin-pro</text>
<rect x="202.3" y="901.3" width="1.7" height="317.9" rx="0.8" fill="#c6a4ba"/>
<rect x="207.8" y="901.3" width="303.4" height="317.9" rx="3.8" fill="#c6a4ba"/>
<text x="359.5" y="922.2" font-size="20.79" letter-spacing="0.84">packages/effects/layouts/src</text>
<rect x="211.7" y="939.5" width="5.8" height="11.1" rx="2.9" fill="#ba90ab"/>
<text style="stroke-width:0.07px" x="214.6" y="945" font-size="1.87" letter-spacing="0.07">dex.ts</text>
<rect x="211.7" y="954.7" width="5.8" height="260.7" rx="2.9" fill="#ba90ab"/>
<text style="stroke-width:0.07px" x="214.6" y="1085.1" font-size="1.83" letter-spacing="0.07">ang.ts</text>
<rect x="221.3" y="939.5" width="286" height="275.9" rx="3.8" fill="#ba90ab"/>
<text x="364.3" y="960.4" font-size="21.28" letter-spacing="0.85">authentication</text>
<rect x="225.2" y="977.6" width="7.4" height="26.7" rx="3.7" fill="#af7d9c"/>
<text style="stroke-width:0.07px" x="228.9" y="991" font-size="2.16" letter-spacing="0.08">lang.ts</text>
<rect x="225.2" y="1008.4" width="7.4" height="66.1" rx="3.7" fill="#af7d9c"/>
<text style="stroke-width:0.07px" x="228.9" y="1041.5" font-size="1.97" letter-spacing="0.08">ndex.ts</text>
<rect x="225.2" y="1078.6" width="7.4" height="133" rx="3.7" fill="#af7d9c"/>
<text style="stroke-width:0.07px" x="228.9" y="1145.1" font-size="2.16" letter-spacing="0.08">lang.ts</text>
<rect x="236.5" y="977.6" width="266.9" height="234" rx="3.8" fill="#af7d9c"/>
<text x="369.9" y="1094.6" font-size="21.28" letter-spacing="0.89">icons/slogan.vue</text>
<rect x="194.8" y="1231.1" width="324.1" height="430.4" rx="3.8" fill="#decbd9"/>
<text x="356.9" y="1252" font-size="21.28" letter-spacing="0.94">js/index-BuuF54Vg.mjs</text>
<rect x="198.5" y="1269.5" width="13" height="388.2" rx="3.8" fill="#d2b7cb"/>
<text style="stroke-width:0.07px" x="205" y="1290.4" font-size="2.39" letter-spacing="0.08">ils/index.ts</text>
<rect x="202.3" y="1307.7" width="5.5" height="346.2" rx="2.8" fill="#c6a4bd"/>
<text style="stroke-width:0.07px" x="205.1" y="1480.8" font-size="1.74" letter-spacing="0.07">ang.ts</text>
<rect x="215.5" y="1269.5" width="299.5" height="388.2" rx="3.8" fill="#d2b7cb"/>
<text x="365.2" y="1290.4" font-size="7.92" letter-spacing="0.35">Users/vben/Developer/github/vben/vben-admin-pro/node_modules/.pnpm</text>
<rect x="219.4" y="1307.7" width="7.6" height="104.3" rx="3.8" fill="#c6a4bd"/>
<text style="stroke-width:0.07px" x="223.2" y="1359.8" font-size="2.22" letter-spacing="0.08">lang.ts</text>
<rect x="231" y="1307.7" width="15" height="104.3" rx="3.8" fill="#c6a4bd"/>
<text style="stroke-width:0.07px" x="238.5" y="1328.6" font-size="2.34" letter-spacing="0.08">utils/index.ts</text>
<rect x="234.7" y="1345.8" width="7.5" height="14.8" rx="3.8" fill="#ba90af"/>
<text style="stroke-width:0.07px" x="238.4" y="1353.2" font-size="2.19" letter-spacing="0.08">lang.ts</text>
<rect x="234.7" y="1365" width="7.5" height="14.8" rx="3.8" fill="#ba90af"/>
<text style="stroke-width:0.07px" x="238.4" y="1372.4" font-size="1.87" letter-spacing="0.08">dex.mjs</text>
<rect x="234.7" y="1383.9" width="7.5" height="24.1" rx="3.8" fill="#ba90af"/>
<text style="stroke-width:0.07px" x="238.4" y="1396" font-size="2.19" letter-spacing="0.08">lang.ts</text>
<rect x="250" y="1307.7" width="16.8" height="104.3" rx="3.8" fill="#c6a4bd"/>
<text style="stroke-width:0.07px" x="258.4" y="1328.6" font-size="2.3" letter-spacing="0.08">c/utils/index.ts</text>
<rect x="253.7" y="1345.8" width="9.3" height="18.6" rx="3.8" fill="#ba90af"/>
<text style="stroke-width:0.07px" x="258.4" y="1355.1" font-size="2.21" letter-spacing="0.09">&amp;lang.ts</text>
<rect x="253.7" y="1368.6" width="9.3" height="16.8" rx="3.8" fill="#ba90af"/>
<text style="stroke-width:0.07px" x="258.4" y="1377" font-size="2" letter-spacing="0.09">ndex.mjs</text>
<rect x="253.7" y="1389.5" width="9.3" height="18.5" rx="3.8" fill="#ba90af"/>
<text style="stroke-width:0.07px" x="258.4" y="1398.8" font-size="2.21" letter-spacing="0.09">&amp;lang.ts</text>
<rect x="270.8" y="1307.7" width="240.4" height="104.3" rx="3.8" fill="#c6a4bd"/>
<text x="391" y="1359.8" font-size="4.93" letter-spacing="0.20">resize-observer-polyfill@1.5.1/node_modules/resize-observer-polyfill/dist/ResizeObserver.es.js</text>
<rect x="219.4" y="1416.2" width="291.8" height="237.7" rx="3.8" fill="#c6a4bd"/>
<text x="365.3" y="1437.1" font-size="6.35" letter-spacing="0.28">ant-design-vue@4.2.3_vue@3.4.34_typescript@5.5.4_/node_modules/ant-design-vue/es</text>
<rect x="223.2" y="1458" width="34.1" height="15.2" rx="3.8" fill="#ba90af"/>
<text style="stroke-width:0.07px" x="240.2" y="1465.6" font-size="2.66" letter-spacing="0.11">form/FormItemContext.js</text>
<rect x="223.2" y="1477.2" width="34.1" height="41.6" rx="3.8" fill="#ba90af"/>
<text style="stroke-width:0.07px" x="240.2" y="1498" font-size="2.46" letter-spacing="0.10">vc-resize-observer/index.js</text>
<rect x="223.2" y="1523" width="34.1" height="127.2" rx="3.8" fill="#ba90af"/>
<text x="240.2" y="1543.9" font-size="15.98" letter-spacing="0.53">_util</text>
<rect x="227" y="1561" width="9.4" height="7.8" rx="3.8" fill="#af7da1"/>
<text style="stroke-width:0.07px" x="231.7" y="1564.9" font-size="2.24" letter-spacing="0.09">&amp;lang.ts</text>
<rect x="240.3" y="1561" width="13.3" height="7.8" rx="3.8" fill="#af7da1"/>
<text style="stroke-width:0.07px" x="246.9" y="1564.9" font-size="2.04" letter-spacing="0.07">statusUtils.js</text>
<rect x="227" y="1572.6" width="26.6" height="24.2" rx="3.8" fill="#af7da1"/>
<text style="stroke-width:0.07px" x="240.3" y="1584.7" font-size="2.96" letter-spacing="0.12">BaseInputInner.js</text>
<rect x="227" y="1601" width="26.6" height="45.5" rx="3.8" fill="#af7da1"/>
<text x="240.3" y="1623.8" font-size="4.15" letter-spacing="0.17">BaseInput.js</text>
<rect x="261.2" y="1454.3" width="246.1" height="34" rx="3.8" fill="#ba90af"/>
<text x="384.2" y="1471.3" font-size="21.28" letter-spacing="0.84">vc-input</text>
<rect x="261.2" y="1492.5" width="246.1" height="157.7" rx="3.8" fill="#ba90af"/>
<text x="384.2" y="1513.4" font-size="21.28" letter-spacing="0.83">input</text>
<rect x="265" y="1534.2" width="18.9" height="5.6" rx="2.8" fill="#af7da1"/>
<text x="274.4" y="1537" font-size="4.38" letter-spacing="0.17">index.js</text>
<rect x="265" y="1543.8" width="18.9" height="5.6" rx="2.8" fill="#af7da1"/>
<text style="stroke-width:0.07px" x="274.4" y="1546.6" font-size="2.81" letter-spacing="0.11">inputProps.js</text>
<rect x="265" y="1553.6" width="18.9" height="24.1" rx="3.8" fill="#af7da1"/>
<text x="274.4" y="1565.7" font-size="4.3" letter-spacing="0.18">Group.js</text>
<rect x="265" y="1582" width="18.9" height="64.5" rx="3.8" fill="#af7da1"/>
<text style="stroke-width:0.07px" x="274.4" y="1614.2" font-size="1.47" letter-spacing="0.06">ClearableLabeledInput.js</text>
<rect x="288" y="1530.6" width="45.7" height="30" rx="3.8" fill="#af7da1"/>
<text x="310.9" y="1545.6" font-size="7.29" letter-spacing="0.32">Password.js</text>
<rect x="288" y="1564.9" width="45.7" height="37.8" rx="3.8" fill="#af7da1"/>
<text x="310.9" y="1583.8" font-size="3.84" letter-spacing="0.16">calculateNodeHeight.js</text>
<rect x="288" y="1606.8" width="45.7" height="39.7" rx="3.8" fill="#af7da1"/>
<text x="310.9" y="1626.7" font-size="4.21" letter-spacing="0.18">ResizableTextArea.js</text>
<rect x="337.5" y="1530.6" width="76.2" height="24.3" rx="3.8" fill="#af7da1"/>
<text x="375.6" y="1542.8" font-size="15.71" letter-spacing="0.66">Search.js</text>
<rect x="337.5" y="1559.2" width="76.2" height="35.9" rx="3.8" fill="#af7da1"/>
<text x="375.6" y="1577.2" font-size="20.32" letter-spacing="0.74">Input.js</text>
<rect x="337.5" y="1599.3" width="76.2" height="47.2" rx="3.8" fill="#af7da1"/>
<text x="375.6" y="1622.9" font-size="13.24" letter-spacing="0.54">TextArea.js</text>
<rect x="417.6" y="1530.6" width="85.8" height="115.9" rx="3.8" fill="#af7da1"/>
<text x="460.5" y="1588.5" font-size="12.88" letter-spacing="0.47">style/index.js</text>
<rect x="522.4" y="70.2" width="526.3" height="771.8" rx="3.8" fill="#decbd0"/>
<text x="785.5" y="91.1" font-size="16.64" letter-spacing="0.70">js/layout.vue_vue_type_script_setup_true_lang-QItw4zv8.mjs</text>
<rect x="526.2" y="108.2" width="518.6" height="730" rx="3.8" fill="#d2b7be"/>
<text x="785.5" y="129.1" font-size="19.7" letter-spacing="0.85">Users/vben/Developer/github/vben/vben-admin-pro</text>
<rect x="530.2" y="146.4" width="18.8" height="687.9" rx="3.8" fill="#c6a4ad"/>
<text style="stroke-width:0.07px" x="539.6" y="167.3" font-size="1.68" letter-spacing="0.08">node_modules/.pnpm</text>
<rect x="534" y="184.5" width="11.2" height="106.7" rx="3.8" fill="#ba909b"/>
<text style="stroke-width:0.07px" x="539.6" y="205.4" font-size="2.04" letter-spacing="0.09">ue&amp;lang.ts</text>
<rect x="537.4" y="223" width="4.4" height="11" rx="2.2" fill="#af7d8a"/>
<rect x="537.4" y="237.9" width="4.4" height="11.1" rx="2.2" fill="#af7d8a"/>
<rect x="537.4" y="252.7" width="4.4" height="11.2" rx="2.2" fill="#af7d8a"/>
<rect x="537.4" y="267.6" width="4.4" height="18.6" rx="2.2" fill="#af7d8a"/>
<rect x="534" y="295.4" width="11.2" height="535.1" rx="3.8" fill="#ba909b"/>
<text style="stroke-width:0.07px" x="539.6" y="316.3" font-size="2.14" letter-spacing="0.09">/index.mjs</text>
<rect x="537.4" y="331.5" width="4.4" height="9" rx="2.2" fill="#af7d8a"/>
<rect x="537.4" y="343.1" width="4.4" height="9" rx="2.2" fill="#af7d8a"/>
<rect x="537.4" y="354.7" width="4.4" height="10" rx="2.2" fill="#af7d8a"/>
<rect x="537.4" y="367.3" width="4.4" height="12" rx="2.2" fill="#af7d8a"/>
<rect x="537.4" y="381.9" width="4.4" height="8.5" rx="2.2" fill="#af7d8a"/>
<rect x="537.4" y="393" width="4.4" height="7.5" rx="2.2" fill="#af7d8a"/>
<rect x="537.4" y="403.1" width="4.4" height="12" rx="2.2" fill="#af7d8a"/>
<rect x="537.4" y="417.7" width="4.4" height="9.5" rx="2.2" fill="#af7d8a"/>
<rect x="537.4" y="429.8" width="4.4" height="9" rx="2.2" fill="#af7d8a"/>
<rect x="537.4" y="441.4" width="4.4" height="9" rx="2.2" fill="#af7d8a"/>
<rect x="537.4" y="453" width="4.4" height="12" rx="2.2" fill="#af7d8a"/>
<rect x="537.4" y="467.6" width="4.4" height="12" rx="2.2" fill="#af7d8a"/>
<rect x="537.4" y="482.2" width="4.4" height="11" rx="2.2" fill="#af7d8a"/>
<rect x="537.4" y="495.8" width="4.4" height="9" rx="2.2" fill="#af7d8a"/>
<rect x="537.4" y="507.4" width="4.4" height="9" rx="2.2" fill="#af7d8a"/>
<rect x="537.4" y="519" width="4.4" height="9" rx="2.2" fill="#af7d8a"/>
<rect x="537.4" y="530.6" width="4.4" height="11" rx="2.2" fill="#af7d8a"/>
<rect x="537.4" y="544.2" width="4.4" height="7.5" rx="2.2" fill="#af7d8a"/>
<rect x="537.4" y="554.3" width="4.4" height="8.5" rx="2.2" fill="#af7d8a"/>
<rect x="537.4" y="565.4" width="4.4" height="9" rx="2.2" fill="#af7d8a"/>
<rect x="537.4" y="577" width="4.4" height="7.5" rx="2.2" fill="#af7d8a"/>
<rect x="537.4" y="587.1" width="4.4" height="9.5" rx="2.2" fill="#af7d8a"/>
<rect x="537.4" y="599.2" width="4.4" height="7.5" rx="2.2" fill="#af7d8a"/>
<rect x="537.4" y="609.3" width="4.4" height="9.5" rx="2.2" fill="#af7d8a"/>
<rect x="537.4" y="621.4" width="4.4" height="12" rx="2.2" fill="#af7d8a"/>
<rect x="537.4" y="636" width="4.4" height="11" rx="2.2" fill="#af7d8a"/>
<rect x="537.4" y="649.6" width="4.4" height="11" rx="2.2" fill="#af7d8a"/>
<rect x="537.4" y="663.2" width="4.4" height="11" rx="2.2" fill="#af7d8a"/>
<rect x="537.4" y="676.8" width="4.4" height="12" rx="2.2" fill="#af7d8a"/>
<rect x="537.4" y="691.4" width="4.4" height="9" rx="2.2" fill="#af7d8a"/>
<rect x="537.4" y="703" width="4.4" height="10" rx="2.2" fill="#af7d8a"/>
<rect x="537.4" y="715.6" width="4.4" height="8.5" rx="2.2" fill="#af7d8a"/>
<rect x="537.4" y="726.7" width="4.4" height="7.5" rx="2.2" fill="#af7d8a"/>
<rect x="537.4" y="736.8" width="4.4" height="9" rx="2.2" fill="#af7d8a"/>
<rect x="537.4" y="748.4" width="4.4" height="12" rx="2.2" fill="#af7d8a"/>
<rect x="537.4" y="763" width="4.4" height="9" rx="2.2" fill="#af7d8a"/>
<rect x="537.4" y="774.6" width="4.4" height="9.5" rx="2.2" fill="#af7d8a"/>
<rect x="537.4" y="786.7" width="4.4" height="11" rx="2.2" fill="#af7d8a"/>
<rect x="537.4" y="800.3" width="4.4" height="9.5" rx="2.2" fill="#af7d8a"/>
<rect x="537.4" y="812.4" width="4.4" height="11" rx="2.2" fill="#af7d8a"/>
<rect x="553" y="146.4" width="487.9" height="687.9" rx="3.8" fill="#c6a4ad"/>
<text x="797" y="167.3" font-size="21.28" letter-spacing="1.02">packages</text>
<rect x="558.7" y="184.5" width="478.3" height="314.1" rx="3.8" fill="#ba909b"/>
<text x="797.9" y="205.4" font-size="21.28" letter-spacing="1.13">@core</text>
<rect x="562.5" y="222.6" width="3.3" height="272.2" rx="1.6" fill="#af7d8a"/>
<rect x="570" y="222.6" width="463.2" height="272.2" rx="3.8" fill="#af7d8a"/>
<text x="801.6" y="243.5" font-size="21.28" letter-spacing="0.67">ui-kit</text>
<rect x="574" y="260.6" width="125.8" height="83.6" rx="3.8" fill="#a36a78"/>
<text x="636.9" y="281.5" font-size="21.28" letter-spacing="0.77">tabs-ui/dist</text>
<rect x="577.8" y="298.6" width="13.2" height="41.8" rx="3.8" fill="#955968"/>
<text class="w" style="stroke-width:0.07px" x="584.4" y="319.5" font-size="2.43" letter-spacing="0.09">ils/index.ts</text>
<rect x="594.8" y="298.6" width="101.2" height="41.8" rx="3.8" fill="#955968"/>
<text class="w" x="645.4" y="319.5" font-size="15.97" letter-spacing="0.78">components</text>
<rect x="703.6" y="260.6" width="325.7" height="55" rx="3.8" fill="#a36a78"/>
<text x="866.5" y="281.5" font-size="21.28" letter-spacing="0.77">layout-ui/dist</text>
<rect x="707.3" y="298.6" width="146.7" height="13.1" rx="3.8" fill="#955968"/>
<text class="w" x="780.6" y="305.1" font-size="10.24" letter-spacing="0.50">components</text>
<rect x="857.8" y="298.6" width="167.8" height="13.1" rx="3.8" fill="#955968"/>
<text class="w" x="941.7" y="305.1" font-size="6.06" letter-spacing="0.26">vben-layout.vue?vue&amp;type=script&amp;setup=true&amp;lang.ts</text>
<rect x="574" y="348.4" width="125.8" height="142.6" rx="3.8" fill="#a36a78"/>
<text x="636.9" y="369.3" font-size="19.85" letter-spacing="0.81">menu-ui/dist</text>
<rect x="577.8" y="386.5" width="15.4" height="11.7" rx="3.8" fill="#955968"/>
<text class="w" style="stroke-width:0.07px" x="585.5" y="392.4" font-size="1.58" letter-spacing="0.07">sub-menu-provider</text>
<rect x="577.8" y="402" width="15.4" height="14.8" rx="3.8" fill="#955968"/>
<text class="w" style="stroke-width:0.07px" x="585.5" y="409.4" font-size="2.04" letter-spacing="0.09">p=true&amp;lang.ts</text>
<rect x="577.8" y="420.8" width="15.4" height="28.7" rx="3.8" fill="#955968"/>
<text class="w" x="585.5" y="435.1" font-size="4.96" letter-spacing="0.24">hooks</text>
<rect x="577.8" y="453.3" width="15.4" height="34" rx="3.8" fill="#955968"/>
<text class="w" style="stroke-width:0.07px" x="585.5" y="470.3" font-size="2.04" letter-spacing="0.09">p=true&amp;lang.ts</text>
<rect x="597" y="386.5" width="99" height="100.8" rx="3.8" fill="#955968"/>
<text class="w" x="646.5" y="407.4" font-size="15.62" letter-spacing="0.77">components</text>
<rect x="600.6" y="424.6" width="22.8" height="11.2" rx="3.8" fill="#834e5b"/>
<text class="w" x="612" y="430.2" font-size="3.33" letter-spacing="0.16">normal-menu</text>
<rect x="600.6" y="439.8" width="22.8" height="21.2" rx="3.8" fill="#834e5b"/>
<text class="w" style="stroke-width:0.07px" x="612" y="450.4" font-size="2.3" letter-spacing="0.08">ed/src/utils/index.ts</text>
<rect x="600.6" y="464.8" width="22.8" height="18.7" rx="3.8" fill="#834e5b"/>
<text class="w" style="stroke-width:0.07px" x="612" y="474.1" font-size="1.99" letter-spacing="0.08">pt&amp;setup=true&amp;lang.ts</text>
<rect x="627.2" y="424.6" width="36.3" height="16.9" rx="3.8" fill="#834e5b"/>
<text class="w" style="stroke-width:0.07px" x="645.4" y="433.1" font-size="1.81" letter-spacing="0.08">ode_modules/@vueuse/core/index.mjs</text>
<rect x="627.2" y="445.7" width="36.3" height="37.8" rx="3.8" fill="#834e5b"/>
<text class="w" style="stroke-width:0.07px" x="645.4" y="464.6" font-size="1.93" letter-spacing="0.08">vue&amp;type=script&amp;setup=true&amp;lang.ts</text>
<rect x="667.3" y="424.6" width="24.9" height="58.9" rx="3.8" fill="#834e5b"/>
<text class="w" style="stroke-width:0.07px" x="679.8" y="454.1" font-size="2.28" letter-spacing="0.08">ared/src/utils/index.ts</text>
<rect x="703.6" y="319.8" width="325.7" height="171.2" rx="3.8" fill="#a36a78"/>
<text x="866.5" y="340.7" font-size="21.28" letter-spacing="0.91">shadcn-ui/dist/components</text>
<rect x="707.3" y="358" width="24.8" height="7.2" rx="3.6" fill="#955968"/>
<text class="w" style="stroke-width:0.07px" x="719.7" y="361.6" font-size="1.9" letter-spacing="0.08">/@vueuse/core/index.mjs</text>
<rect x="707.3" y="369.2" width="24.8" height="17" rx="3.8" fill="#955968"/>
<text class="w" style="stroke-width:0.07px" x="719.7" y="377.7" font-size="2.05" letter-spacing="0.08">ript&amp;setup=true&amp;lang.ts</text>
<rect x="707.3" y="390.4" width="24.8" height="16.9" rx="3.8" fill="#955968"/>
<text class="w" style="stroke-width:0.07px" x="719.7" y="398.9" font-size="2.27" letter-spacing="0.08">ared/src/utils/index.ts</text>
<rect x="707.3" y="411.3" width="24.8" height="19" rx="3.8" fill="#955968"/>
<text class="w" style="stroke-width:0.07px" x="719.7" y="420.8" font-size="2.05" letter-spacing="0.08">ript&amp;setup=true&amp;lang.ts</text>
<rect x="707.3" y="434.2" width="24.8" height="22.6" rx="3.8" fill="#955968"/>
<text class="w" x="719.7" y="445.5" font-size="6.5" letter-spacing="0.27">spinner</text>
<rect x="707.3" y="461" width="24.8" height="26.3" rx="3.8" fill="#955968"/>
<text class="w" x="719.7" y="474.1" font-size="5.56" letter-spacing="0.24">back-top</text>
<rect x="736" y="358" width="42" height="17" rx="3.8" fill="#955968"/>
<text class="w" x="757" y="366.5" font-size="9.55" letter-spacing="0.36">scrollbar</text>
<rect x="736" y="378.8" width="42" height="19" rx="3.8" fill="#955968"/>
<text class="w" style="stroke-width:0.07px" x="757" y="388.3" font-size="1.88" letter-spacing="0.08">n.vue?vue&amp;type=script&amp;setup=true&amp;lang.ts</text>
<rect x="736" y="401.8" width="42" height="21.2" rx="3.8" fill="#955968"/>
<text class="w" x="757" y="412.4" font-size="6.43" letter-spacing="0.32">menu-badge</text>
<rect x="736" y="426.8" width="42" height="24.2" rx="3.8" fill="#955968"/>
<text class="w" style="stroke-width:0.07px" x="757" y="438.9" font-size="1.91" letter-spacing="0.08">t.vue?vue&amp;type=script&amp;setup=true&amp;lang.ts</text>
<rect x="736" y="454.9" width="42" height="32.4" rx="3.8" fill="#955968"/>
<text class="w" x="757" y="471.1" font-size="7.3" letter-spacing="0.36">segmented</text>
<rect x="781.8" y="358" width="54.9" height="32.4" rx="3.8" fill="#955968"/>
<text class="w" x="809.2" y="374.2" font-size="6.53" letter-spacing="0.33">dropdown-menu</text>
<rect x="781.8" y="394.2" width="54.9" height="38" rx="3.8" fill="#955968"/>
<text class="w" style="stroke-width:0.07px" x="809.2" y="413.2" font-size="1.8" letter-spacing="0.08">.11.0_vue@3.4.34/node_modules/@vueuse/core/index.mjs</text>
<rect x="781.8" y="436.2" width="54.9" height="51.1" rx="3.8" fill="#955968"/>
<text class="w" x="809.2" y="457.1" font-size="8.84" letter-spacing="0.42">breadcrumb</text>
<rect x="785.8" y="474.2" width="9.2" height="9.2" rx="3.8" fill="#834e5b"/>
<text class="w" style="stroke-width:0.07px" x="790.4" y="478.8" font-size="2.29" letter-spacing="0.09">index.ts</text>
<rect x="799" y="474.2" width="33.8" height="9.2" rx="3.8" fill="#834e5b"/>
<text class="w" style="stroke-width:0.07px" x="815.9" y="478.8" font-size="1.92" letter-spacing="0.08">e&amp;type=script&amp;setup=true&amp;lang.ts</text>
<rect x="840.8" y="358" width="184.8" height="129.3" rx="3.8" fill="#955968"/>
<text class="w" x="933.2" y="378.9" font-size="21.28" letter-spacing="0.75">ui</text>
<rect x="844.7" y="396" width="22.6" height="4" rx="2" fill="#834e5b"/>
<text class="w" style="stroke-width:0.07px" x="856" y="398" font-size="1.97" letter-spacing="0.08">pt&amp;setup=true&amp;lang.ts</text>
<rect x="844.7" y="401.5" width="22.6" height="10.5" rx="3.8" fill="#834e5b"/>
<text class="w" x="856" y="406.8" font-size="6.99" letter-spacing="0.35">badge</text>
<rect x="844.7" y="415.2" width="22.6" height="7.3" rx="3.7" fill="#834e5b"/>
<text class="w" style="stroke-width:0.07px" x="856" y="418.9" font-size="1.97" letter-spacing="0.08">pt&amp;setup=true&amp;lang.ts</text>
<rect x="844.7" y="426.8" width="22.6" height="12.6" rx="3.8" fill="#834e5b"/>
<text class="w" style="stroke-width:0.07px" x="856" y="433.1" font-size="1.95" letter-spacing="0.08">vueuse/core/index.mjs</text>
<rect x="844.7" y="443.6" width="22.6" height="16.9" rx="3.8" fill="#834e5b"/>
<text class="w" x="856" y="452.1" font-size="4.16" letter-spacing="0.16">scroll-area</text>
<rect x="844.7" y="464.8" width="22.6" height="18.7" rx="3.8" fill="#834e5b"/>
<text class="w" x="856" y="474.1" font-size="3.46" letter-spacing="0.15">toggle-group</text>
<rect x="871.1" y="396" width="36.3" height="15" rx="3.8" fill="#834e5b"/>
<text class="w" x="889.2" y="403.5" font-size="6.53" letter-spacing="0.28">hover-card</text>
<rect x="871.1" y="415.2" width="36.3" height="16.8" rx="3.8" fill="#834e5b"/>
<text class="w" x="889.2" y="423.6" font-size="8.63" letter-spacing="0.40">popover</text>
<rect x="871.1" y="436.2" width="36.3" height="18" rx="3.8" fill="#834e5b"/>
<text class="w" x="889.2" y="445.2" font-size="5.85" letter-spacing="0.28">breadcrumb</text>
<rect x="871.1" y="458.8" width="36.3" height="24.7" rx="3.8" fill="#834e5b"/>
<text class="w" x="889.2" y="471.1" font-size="5.61" letter-spacing="0.23">number-field</text>
<rect x="911.2" y="396" width="47.4" height="22.8" rx="3.8" fill="#834e5b"/>
<text class="w" x="934.9" y="407.4" font-size="6.73" letter-spacing="0.31">context-menu</text>
<rect x="911.2" y="423" width="47.4" height="28" rx="3.8" fill="#834e5b"/>
<text class="w" x="934.9" y="437" font-size="16.66" letter-spacing="0.73">sheet</text>
<rect x="911.2" y="455.2" width="47.4" height="28.3" rx="3.8" fill="#834e5b"/>
<text class="w" x="934.9" y="469.4" font-size="8.24" letter-spacing="0.31">alert-dialog</text>
<rect x="962.8" y="396" width="28.4" height="51.4" rx="3.8" fill="#834e5b"/>
<text class="w" x="977" y="421.7" font-size="9.15" letter-spacing="0.37">dialog</text>
<rect x="995" y="396" width="26.8" height="51.4" rx="3.8" fill="#834e5b"/>
<text class="w" style="stroke-width:0.07px" x="1008.4" y="421.7" font-size="3.19" letter-spacing="0.16">dropdown-menu</text>
<rect x="962.8" y="451.6" width="59" height="31.9" rx="3.8" fill="#834e5b"/>
<text class="w" x="992.3" y="467.6" font-size="19.41" letter-spacing="0.76">select</text>
<rect x="556.8" y="503.2" width="480.2" height="327.3" rx="3.8" fill="#ba909b"/>
<text x="796.9" y="524.1" font-size="21.28" letter-spacing="0.80">effects</text>
<rect x="560.6" y="541" width="472.6" height="285.6" rx="3.8" fill="#af7d8a"/>
<text x="796.9" y="561.9" font-size="21.28" letter-spacing="0.83">layouts/src</text>
<rect x="564.5" y="579" width="79.8" height="13.3" rx="3.8" fill="#a36a78"/>
<text x="604.4" y="585.6" font-size="3.22" letter-spacing="0.14">layout.vue?vue&amp;type=script&amp;setup=true&amp;lang.ts</text>
<rect x="564.5" y="596.3" width="79.8" height="226.5" rx="3.8" fill="#a36a78"/>
<text x="604.4" y="617.2" font-size="21.28" letter-spacing="0.89">basic</text>
<rect x="568.2" y="634.3" width="6" height="17.1" rx="3" fill="#955968"/>
<text class="w" style="stroke-width:0.07px" x="571.2" y="642.8" font-size="1.89" letter-spacing="0.08">ang.ts</text>
<rect x="577.8" y="634.3" width="20.9" height="17.1" rx="3.8" fill="#955968"/>
<text class="w" style="stroke-width:0.07px" x="588.2" y="642.8" font-size="2.43" letter-spacing="0.09">/src/utils/index.ts</text>
<rect x="602.5" y="634.3" width="38.1" height="17.1" rx="3.8" fill="#955968"/>
<text class="w" style="stroke-width:0.07px" x="621.5" y="642.8" font-size="1.89" letter-spacing="0.08">e?vue&amp;type=script&amp;setup=true&amp;lang.ts</text>
<rect x="568.2" y="655.5" width="22.8" height="53" rx="3.8" fill="#955968"/>
<text class="w" x="579.6" y="676.4" font-size="5.97" letter-spacing="0.25">content</text>
<rect x="572" y="697.3" width="15.2" height="7.4" rx="3.7" fill="#834e5b"/>
<text class="w" style="stroke-width:0.07px" x="579.6" y="701" font-size="2.02" letter-spacing="0.08">p=true&amp;lang.ts</text>
<rect x="594.8" y="655.5" width="45.8" height="53" rx="3.8" fill="#955968"/>
<text class="w" x="617.7" y="676.4" font-size="13.88" letter-spacing="0.59">tabbar</text>
<rect x="598.6" y="693.5" width="9.7" height="11.2" rx="3.8" fill="#834e5b"/>
<text class="w" style="stroke-width:0.07px" x="603.5" y="699.1" font-size="2" letter-spacing="0.08">e&amp;lang.ts</text>
<rect x="612.2" y="693.5" width="24.6" height="11.2" rx="3.8" fill="#834e5b"/>
<text class="w" x="624.5" y="699.1" font-size="3.66" letter-spacing="0.15">use-tabbar.ts</text>
<rect x="568.2" y="712.7" width="26.6" height="106.3" rx="3.8" fill="#955968"/>
<text class="w" x="581.5" y="733.6" font-size="9.14" letter-spacing="0.51">menu</text>
<rect x="572" y="751" width="4" height="4" rx="2" fill="#834e5b"/>
<rect x="578" y="751" width="13" height="4" rx="2" fill="#834e5b"/>
<text class="w" style="stroke-width:0.07px" x="584.5" y="753" font-size="2.09" letter-spacing="0.08">true&amp;lang.ts</text>
<rect x="572" y="760.2" width="7.4" height="17" rx="3.7" fill="#834e5b"/>
<text class="w" style="stroke-width:0.07px" x="575.7" y="768.7" font-size="1.85" letter-spacing="0.08">dex.mjs</text>
<rect x="583.2" y="760.2" width="7.8" height="17" rx="3.8" fill="#834e5b"/>
<text class="w" style="stroke-width:0.07px" x="587.1" y="768.7" font-size="2.28" letter-spacing="0.09">lang.ts</text>
<rect x="572" y="781.3" width="19" height="12.7" rx="3.8" fill="#834e5b"/>
<text class="w" style="stroke-width:0.07px" x="581.5" y="787.6" font-size="2.03" letter-spacing="0.09">use-extra-menu.ts</text>
<rect x="572" y="798.2" width="19" height="17" rx="3.8" fill="#834e5b"/>
<text class="w" style="stroke-width:0.07px" x="581.5" y="806.7" font-size="1.92" letter-spacing="0.09">use-mixed-menu.ts</text>
<rect x="598.6" y="712.7" width="42" height="106.3" rx="3.8" fill="#955968"/>
<text class="w" style="stroke-width:0.07px" x="619.6" y="765.9" font-size="1.7" letter-spacing="0.07">layout.vue?vue&amp;type=script&amp;setup=true&amp;lang.ts</text>
<rect x="648" y="579" width="381.3" height="243.8" rx="3.8" fill="#a36a78"/>
<text x="838.6" y="599.9" font-size="21.28" letter-spacing="0.93">widgets</text>
<rect x="651.8" y="617" width="36.4" height="9.5" rx="3.8" fill="#955968"/>
<text class="w" style="stroke-width:0.07px" x="670" y="621.8" font-size="2.14" letter-spacing="0.08">ore/base/shared/src/utils/index.ts</text>
<rect x="651.8" y="630.8" width="36.4" height="11.2" rx="3.8" fill="#955968"/>
<text class="w" style="stroke-width:0.07px" x="670" y="636.4" font-size="1.93" letter-spacing="0.08">vue&amp;type=script&amp;setup=true&amp;lang.ts</text>
<rect x="651.8" y="646" width="36.4" height="22.8" rx="3.8" fill="#955968"/>
<text class="w" style="stroke-width:0.07px" x="670" y="657.4" font-size="1.81" letter-spacing="0.08">ode_modules/@vueuse/core/index.mjs</text>
<rect x="651.8" y="673" width="36.4" height="66" rx="3.8" fill="#955968"/>
<text class="w" x="670" y="693.9" font-size="6.54" letter-spacing="0.23">notification</text>
<rect x="655.8" y="712.7" width="28.6" height="22.5" rx="3.8" fill="#834e5b"/>
<text class="w" style="stroke-width:0.07px" x="670.1" y="724" font-size="2.18" letter-spacing="0.08">e/shared/src/utils/index.ts</text>
<rect x="651.8" y="743.2" width="36.4" height="75.8" rx="3.8" fill="#955968"/>
<text class="w" x="670" y="764.1" font-size="5.36" letter-spacing="0.23">theme-toggle</text>
<rect x="655.8" y="781.2" width="28.6" height="9" rx="3.8" fill="#834e5b"/>
<text class="w" style="stroke-width:0.07px" x="670.1" y="785.7" font-size="1.88" letter-spacing="0.08">ules/@vueuse/core/index.mjs</text>
<rect x="655.8" y="794.4" width="28.6" height="20.8" rx="3.8" fill="#834e5b"/>
<text class="w" style="stroke-width:0.07px" x="670.1" y="804.8" font-size="1.96" letter-spacing="0.08">e=script&amp;setup=true&amp;lang.ts</text>
<rect x="692" y="617" width="76" height="53.4" rx="3.8" fill="#955968"/>
<text class="w" style="stroke-width:0.07px" x="730" y="643.7" font-size="2.03" letter-spacing="0.09">user-dropdown/user-dropdown.vue?vue&amp;type=script&amp;setup=true&amp;lang.ts</text>
<rect x="692" y="674.7" width="76" height="62.3" rx="3.8" fill="#955968"/>
<text class="w" x="730" y="695.6" font-size="12.78" letter-spacing="0.53">lock-screen</text>
<rect x="695.8" y="712.7" width="23" height="20.5" rx="3.8" fill="#834e5b"/>
<text class="w" style="stroke-width:0.07px" x="707.3" y="723" font-size="1.99" letter-spacing="0.08">vueuse/core/index.mjs</text>
<rect x="722.6" y="712.7" width="41.6" height="20.5" rx="3.8" fill="#834e5b"/>
<text class="w" style="stroke-width:0.07px" x="743.4" y="723" font-size="1.92" letter-spacing="0.08">.vue?vue&amp;type=script&amp;setup=true&amp;lang.ts</text>
<rect x="692" y="741.2" width="76" height="77.8" rx="3.8" fill="#955968"/>
<text class="w" x="730" y="762.1" font-size="10.88" letter-spacing="0.45">global-search</text>
<rect x="695.8" y="779.2" width="28.7" height="36" rx="3.8" fill="#834e5b"/>
<text class="w" style="stroke-width:0.07px" x="710.1" y="797.2" font-size="1.96" letter-spacing="0.08">e=script&amp;setup=true&amp;lang.ts</text>
<rect x="728.3" y="779.2" width="35.9" height="36" rx="3.8" fill="#834e5b"/>
<text class="w" style="stroke-width:0.07px" x="746.2" y="797.2" font-size="1.79" letter-spacing="0.08">ode_modules/@vueuse/core/index.mjs</text>
<rect x="772" y="617" width="253.6" height="202" rx="3.8" fill="#955968"/>
<text class="w" x="898.8" y="637.9" font-size="21.28" letter-spacing="0.92">preferences</text>
<rect x="776" y="657" width="34" height="7.5" rx="3.8" fill="#834e5b"/>
<text class="w" style="stroke-width:0.07px" x="793" y="660.8" font-size="2.13" letter-spacing="0.08">e/base/shared/src/utils/index.ts</text>
<rect x="776" y="668.8" width="34" height="146.4" rx="3.8" fill="#834e5b"/>
<text class="w" x="793" y="689.7" font-size="12.52" letter-spacing="0.53">icons</text>
<rect x="779.8" y="707.2" width="26.6" height="7" rx="3.5" fill="#70434e"/>
<text class="w" x="793.1" y="710.7" font-size="3.37" letter-spacing="0.13">full-content.vue</text>
<rect x="779.8" y="718.4" width="11.4" height="28.6" rx="3.8" fill="#70434e"/>
<text class="w" style="stroke-width:0.07px" x="785.5" y="732.7" font-size="2.07" letter-spacing="0.09">ue&amp;lang.ts</text>
<rect x="795" y="718.4" width="11.4" height="28.6" rx="3.8" fill="#70434e"/>
<text class="w" style="stroke-width:0.07px" x="800.7" y="732.7" font-size="2.32" letter-spacing="0.09">s/index.ts</text>
<rect x="779.8" y="751.1" width="11.4" height="33.9" rx="3.8" fill="#70434e"/>
<text class="w" style="stroke-width:0.07px" x="785.5" y="768" font-size="2.07" letter-spacing="0.09">ue&amp;lang.ts</text>
<rect x="795" y="751.1" width="11.4" height="33.9" rx="3.8" fill="#70434e"/>
<text class="w" style="stroke-width:0.07px" x="800.7" y="768" font-size="2.18" letter-spacing="0.09">/index.mjs</text>
<rect x="779.8" y="788.8" width="26.6" height="22.6" rx="3.8" fill="#70434e"/>
<text class="w" x="793.1" y="800.1" font-size="3.56" letter-spacing="0.16">mixed-nav.vue</text>
<rect x="813.8" y="655.5" width="208" height="55.1" rx="3.8" fill="#834e5b"/>
<text class="w" x="917.8" y="683" font-size="6.7" letter-spacing="0.29">preferences-sheet.vue?vue&amp;type=script&amp;setup=true&amp;lang.ts</text>
<rect x="813.8" y="714.6" width="208" height="100.6" rx="3.8" fill="#834e5b"/>
<text class="w" x="917.8" y="735.5" font-size="21.28" letter-spacing="0.90">blocks</text>
<rect x="817.6" y="752.2" width="17.4" height="2.1" rx="1" fill="#70434e"/>
<text class="w" style="stroke-width:0.24px" x="826.3" y="753.2" font-size="0.33" letter-spacing="0.02">node_modules/.pnpm/@vueuse+core@10.11.0_vue@3.4.34/node_modules/@vueuse/core/index.mjs</text>
<rect x="817.6" y="758.5" width="17.4" height="13.3" rx="3.8" fill="#70434e"/>
<text class="w" style="stroke-width:0.07px" x="826.3" y="765.1" font-size="2.05" letter-spacing="0.08">tup=true&amp;lang.ts</text>
<rect x="817.6" y="775.4" width="17.4" height="14.8" rx="3.8" fill="#70434e"/>
<text class="w" style="stroke-width:0.07px" x="826.3" y="782.8" font-size="2.38" letter-spacing="0.08">c/utils/index.ts</text>
<rect x="817.6" y="794.4" width="17.4" height="17" rx="3.8" fill="#70434e"/>
<text class="w" style="stroke-width:0.07px" x="826.3" y="802.9" font-size="2.05" letter-spacing="0.08">tup=true&amp;lang.ts</text>
<rect x="838.7" y="752.6" width="26.9" height="11.3" rx="3.8" fill="#70434e"/>
<text class="w" style="stroke-width:0.07px" x="852.2" y="758.2" font-size="1.88" letter-spacing="0.08">es/@vueuse/core/index.mjs</text>
<rect x="838.7" y="768" width="26.9" height="12.7" rx="3.8" fill="#70434e"/>
<text class="w" style="stroke-width:0.07px" x="852.2" y="774.4" font-size="2.02" letter-spacing="0.08">script&amp;setup=true&amp;lang.ts</text>
<rect x="838.7" y="784.9" width="26.9" height="26.5" rx="3.8" fill="#70434e"/>
<text class="w" style="stroke-width:0.07px" x="852.2" y="798.1" font-size="2.21" letter-spacing="0.08">shared/src/utils/index.ts</text>
<rect x="869.4" y="752.6" width="47.3" height="15.4" rx="3.8" fill="#70434e"/>
<text class="w" x="893" y="760.3" font-size="12.04" letter-spacing="0.52">general</text>
<rect x="869.4" y="771.8" width="47.3" height="39.6" rx="3.8" fill="#70434e"/>
<text class="w" x="893" y="791.6" font-size="14.63" letter-spacing="0.73">theme</text>
<rect x="920.9" y="752.6" width="97.1" height="58.8" rx="3.8" fill="#70434e"/>
<text class="w" x="969.5" y="773.5" font-size="21.28" letter-spacing="0.85">layout</text>
<rect x="924.8" y="790.6" width="7.2" height="3.4" rx="1.7" fill="#5d3841"/>
<text class="w" style="stroke-width:0.07px" x="928.4" y="792.3" font-size="2.32" letter-spacing="0.09">dex.ts</text>
<rect x="924.8" y="797" width="7.2" height="4" rx="2" fill="#5d3841"/>
<text class="w" style="stroke-width:0.07px" x="928.4" y="799" font-size="2.27" letter-spacing="0.09">ang.ts</text>
<rect x="924.8" y="804" width="7.2" height="3.5" rx="1.8" fill="#5d3841"/>
<text class="w" style="stroke-width:0.07px" x="928.4" y="805.8" font-size="2.14" letter-spacing="0.09">ex.mjs</text>
<rect x="936" y="790.6" width="12" height="5.4" rx="2.7" fill="#5d3841"/>
<text class="w" style="stroke-width:0.07px" x="942" y="793.3" font-size="2.04" letter-spacing="0.08">rue&amp;lang.ts</text>
<rect x="936" y="800" width="14" height="7.5" rx="3.8" fill="#5d3841"/>
<text class="w" style="stroke-width:0.07px" x="943" y="803.8" font-size="2.43" letter-spacing="0.08">tils/index.ts</text>
<rect x="953" y="790.6" width="17" height="5.4" rx="2.7" fill="#5d3841"/>
<text class="w" style="stroke-width:0.07px" x="961.5" y="793.3" font-size="2" letter-spacing="0.08">tup=true&amp;lang.ts</text>
<rect x="953" y="800" width="17" height="7.5" rx="3.8" fill="#5d3841"/>
<text class="w" style="stroke-width:0.07px" x="961.5" y="803.8" font-size="2.01" letter-spacing="0.08">e/core/index.mjs</text>
<rect x="974" y="790.6" width="22" height="5.4" rx="2.7" fill="#5d3841"/>
<text class="w" style="stroke-width:0.07px" x="985" y="793.3" font-size="2.03" letter-spacing="0.09">t&amp;setup=true&amp;lang.ts</text>
<rect x="974" y="800" width="20" height="7.5" rx="3.8" fill="#5d3841"/>
<text class="w" style="stroke-width:0.07px" x="984" y="803.8" font-size="2.33" letter-spacing="0.08">/src/utils/index.ts</text>
<rect x="999" y="790.6" width="11" height="16.9" rx="3.8" fill="#5d3841"/>
<text class="w" style="stroke-width:0.07px" x="1004.5" y="799" font-size="2" letter-spacing="0.09">ue&amp;lang.ts</text>
<rect x="522.4" y="846.2" width="526.3" height="815.3" rx="3.8" fill="#decbd4"/>
<text x="785.5" y="867.1" font-size="21.28" letter-spacing="0.88">jse/index-index-CfYFfTcP.mjs</text>
<rect x="530.2" y="884" width="36.1" height="4" rx="2" fill="#d2b7c4"/>
<text style="stroke-width:0.07px" x="548.2" y="886" font-size="3.13" letter-spacing="0.14">commonjsHelpers.js</text>
<rect x="570" y="884" width="118.2" height="4" rx="2" fill="#d2b7c4"/>
<text style="stroke-width:0.07px" x="629.1" y="886" font-size="3.13" letter-spacing="0.13">src</text>
<rect x="692" y="884" width="352.8" height="4" rx="2" fill="#d2b7c4"/>
<text style="stroke-width:0.07px" x="868.4" y="886" font-size="3.13" letter-spacing="0.11">vite</text>
<rect x="526.2" y="892" width="518.6" height="765.7" rx="3.8" fill="#d2b7c4"/>
<text x="785.5" y="912.9" font-size="19.7" letter-spacing="0.85">Users/vben/Developer/github/vben/vben-admin-pro</text>
<rect x="530.2" y="930.2" width="24.6" height="723.7" rx="3.8" fill="#c6a4b3"/>
<text x="542.5" y="951.1" font-size="4.94" letter-spacing="0.24">packages</text>
<rect x="534" y="969.9" width="17" height="680.3" rx="3.8" fill="#ba90a3"/>
<text x="542.5" y="990.8" font-size="4.94" letter-spacing="0.26">@core</text>
<rect x="537.8" y="1007.9" width="9.4" height="234.6" rx="3.8" fill="#af7d93"/>
<text style="stroke-width:0.07px" x="542.5" y="1125.2" font-size="2.24" letter-spacing="0.09">&amp;lang.ts</text>
<rect x="537.8" y="1246.4" width="9.4" height="400.1" rx="3.8" fill="#af7d93"/>
<text style="stroke-width:0.07px" x="542.5" y="1446.5" font-size="2.02" letter-spacing="0.09">ndex.mjs</text>
<rect x="558.7" y="930.2" width="482.2" height="723.7" rx="3.8" fill="#c6a4b3"/>
<text x="799.8" y="951.1" font-size="21.28" letter-spacing="1.02">node_modules/.pnpm</text>
<rect x="562.5" y="968.2" width="3.8" height="35.5" rx="1.9" fill="#ba90a3"/>
<rect x="570.1" y="968.2" width="28.6" height="35.5" rx="3.8" fill="#ba90a3"/>
<text style="stroke-width:0.07px" x="584.4" y="986" font-size="1.78" letter-spacing="0.08">clsx@2.1.1/node_modules/clsx</text>
<rect x="602.6" y="968.2" width="28.4" height="35.5" rx="3.8" fill="#ba90a3"/>
<text style="stroke-width:0.07px" x="616.8" y="986" font-size="1.71" letter-spacing="0.08">defu@6.1.4/node_modules/defu</text>
<rect x="635" y="968.2" width="158" height="35.5" rx="3.8" fill="#ba90a3"/>
<text x="714" y="986" font-size="3.87" letter-spacing="0.17">@vue+shared@3.4.34/node_modules/@vue/shared/dist/shared.esm-bundler.js</text>
<rect x="796.9" y="968.2" width="240.1" height="35.5" rx="3.8" fill="#ba90a3"/>
<text x="917" y="986" font-size="4.49" letter-spacing="0.21">@vueuse+shared@10.11.0_vue@3.4.34_typescript@5.5.4_/node_modules/@vueuse/shared/index.mjs</text>
<rect x="562.5" y="1007.9" width="123.6" height="181.3" rx="3.8" fill="#ba90a3"/>
<text style="stroke-width:0.07px" x="624.3" y="1098.5" font-size="2.82" letter-spacing="0.12">@vue+reactivity@3.4.34/node_modules/@vue/reactivity/dist/reactivity.esm-bundler.js</text>
<rect x="690.3" y="1007.9" width="154.1" height="181.3" rx="3.8" fill="#ba90a3"/>
<text x="767.3" y="1028.8" font-size="4.61" letter-spacing="0.19">@ctrl+tinycolor@4.1.0/node_modules/@ctrl/tinycolor/dist/module</text>
<rect x="694" y="1046.2" width="51.3" height="20.8" rx="3.8" fill="#af7d93"/>
<text x="719.6" y="1056.6" font-size="16.26" letter-spacing="0.48">util.js</text>
<rect x="694" y="1070.9" width="51.3" height="39.8" rx="3.8" fill="#af7d93"/>
<text x="719.6" y="1090.8" font-size="5.29" letter-spacing="0.22">css-color-names.js</text>
<rect x="694" y="1114.7" width="51.3" height="70.7" rx="3.8" fill="#af7d93"/>
<text x="719.6" y="1150.1" font-size="7.56" letter-spacing="0.31">conversion.js</text>
<rect x="749" y="1046.2" width="25" height="139.2" rx="3.8" fill="#af7d93"/>
<text x="761.5" y="1115.8" font-size="3.39" letter-spacing="0.13">format-input.js</text>
<rect x="777.8" y="1046.2" width="62.9" height="139.2" rx="3.8" fill="#af7d93"/>
<text x="809.2" y="1115.8" font-size="15.95" letter-spacing="0.61">index.js</text>
<rect x="848.2" y="1007.9" width="188.8" height="181.3" rx="3.8" fill="#ba90a3"/>
<text x="942.6" y="1098.5" font-size="3.71" letter-spacing="0.17">@vueuse+core@10.11.0_vue@3.4.34_typescript@5.5.4_/node_modules/@vueuse/core/index.mjs</text>
<rect x="562.5" y="1193" width="205.5" height="179" rx="3.8" fill="#ba90a3"/>
<text x="665.2" y="1282.5" font-size="5.95" letter-spacing="0.26">lodash.clonedeep@4.5.0/node_modules/lodash.clonedeep/index.js</text>
<rect x="562.5" y="1376.2" width="205.5" height="274" rx="3.8" fill="#ba90a3"/>
<text x="665.2" y="1513.2" font-size="5.49" letter-spacing="0.23">tailwind-merge@2.4.0/node_modules/tailwind-merge/dist/bundle-mjs.mjs</text>
<rect x="772" y="1193" width="265" height="457.2" rx="3.8" fill="#ba90a3"/>
<text x="904.5" y="1421.6" font-size="5.33" letter-spacing="0.23">@vue+runtime-core@3.4.34/node_modules/@vue/runtime-core/dist/runtime-core.esm-bundler.js</text>
<rect x="1052.4" y="70.2" width="1897.2" height="695.4" rx="3.8" fill="#decbce"/>
<text x="2001" y="91.1" font-size="21.28" letter-spacing="0.94">js/bootstrap-D-GDDhh9.mjs</text>
<rect x="1056.2" y="112" width="49.6" height="649.8" rx="3.8" fill="#d2b7bc"/>
<text x="1081" y="132.9" font-size="21.28" letter-spacing="0.85">src</text>
<rect x="1060.2" y="150.2" width="7.6" height="14.8" rx="3.8" fill="#c6a4aa"/>
<text style="stroke-width:0.07px" x="1064" y="157.6" font-size="1.9" letter-spacing="0.08">dex.mjs</text>
<rect x="1071.6" y="150.2" width="13.5" height="14.8" rx="3.8" fill="#c6a4aa"/>
<text style="stroke-width:0.07px" x="1078.3" y="157.6" font-size="2.17" letter-spacing="0.09">true&amp;lang.ts</text>
<rect x="1088.7" y="150.2" width="13.3" height="14.8" rx="3.8" fill="#c6a4aa"/>
<text style="stroke-width:0.07px" x="1095.3" y="157.6" font-size="2.45" letter-spacing="0.09">ils/index.ts</text>
<rect x="1060.2" y="169.2" width="16.9" height="39.8" rx="3.8" fill="#c6a4aa"/>
<text style="stroke-width:0.07px" x="1068.7" y="189.1" font-size="1.99" letter-spacing="0.08">tup=true&amp;lang.ts</text>
<rect x="1080.9" y="169.2" width="21.1" height="39.8" rx="3.8" fill="#c6a4aa"/>
<text style="stroke-width:0.07px" x="1091.5" y="189.1" font-size="2.65" letter-spacing="0.10">locales/index.ts</text>
<rect x="1060.2" y="213.1" width="13.1" height="68" rx="3.8" fill="#c6a4aa"/>
<text x="1066.8" y="234" font-size="8.44" letter-spacing="0.34">api</text>
<rect x="1064" y="256.8" width="5.7" height="20.7" rx="2.9" fill="#ba9097"/>
<text style="stroke-width:0.07px" x="1066.8" y="267.1" font-size="1.84" letter-spacing="0.07">dex.ts</text>
<rect x="1077.1" y="213.1" width="24.9" height="68" rx="3.8" fill="#c6a4aa"/>
<text x="1089.5" y="234" font-size="9.63" letter-spacing="0.39">store</text>
<rect x="1080.9" y="251.1" width="17.3" height="26.4" rx="3.8" fill="#ba9097"/>
<text style="stroke-width:0.07px" x="1089.6" y="264.3" font-size="1.81" letter-spacing="0.08">modules/access.ts</text>
<rect x="1060.2" y="285.3" width="41.8" height="472.7" rx="3.8" fill="#c6a4aa"/>
<text x="1081.1" y="306.2" font-size="13.75" letter-spacing="0.54">router</text>
<rect x="1064" y="323.5" width="9.5" height="43.7" rx="3.8" fill="#ba9097"/>
<text style="stroke-width:0.07px" x="1068.8" y="345.4" font-size="2.37" letter-spacing="0.09">index.ts</text>
<rect x="1077.3" y="323.5" width="20.9" height="43.7" rx="3.8" fill="#ba9097"/>
<text x="1087.8" y="345.4" font-size="4.97" letter-spacing="0.20">guard.ts</text>
<rect x="1064" y="371.4" width="34.2" height="91.2" rx="3.8" fill="#ba9097"/>
<text x="1081.1" y="417" font-size="7.05" letter-spacing="0.29">access.ts</text>
<rect x="1064" y="466.8" width="34.2" height="287.5" rx="3.8" fill="#ba9097"/>
<text x="1081.1" y="487.7" font-size="10.58" letter-spacing="0.44">routes</text>
<rect x="1067.8" y="504.8" width="1.8" height="24.3" rx="0.9" fill="#af7d85"/>
<rect x="1073.5" y="504.8" width="20.9" height="24.3" rx="3.8" fill="#af7d85"/>
<text x="1084" y="517" font-size="5.99" letter-spacing="0.23">core.ts</text>
<rect x="1067.8" y="533.4" width="26.6" height="217.1" rx="3.8" fill="#af7d85"/>
<text x="1081.1" y="554.3" font-size="6.05" letter-spacing="0.29">modules</text>
<rect x="1071.6" y="571.5" width="5.7" height="19" rx="2.9" fill="#a36a73"/>
<text style="stroke-width:0.07px" x="1074.4" y="581" font-size="1.8" letter-spacing="0.07">ang.ts</text>
<rect x="1081.1" y="571.5" width="9.5" height="19" rx="3.8" fill="#a36a73"/>
<text style="stroke-width:0.07px" x="1085.8" y="581" font-size="2.53" letter-spacing="0.10">vben.ts</text>
<rect x="1071.6" y="594.5" width="19" height="152.3" rx="3.8" fill="#a36a73"/>
<text x="1081.1" y="670.6" font-size="4.03" letter-spacing="0.18">demos.ts</text>
<rect x="1109.8" y="108.2" width="1836" height="653.6" rx="3.8" fill="#d2b7bc"/>
<text x="2027.8" y="129.1" font-size="21.28" letter-spacing="0.92">Users/vben/Developer/github/vben/vben-admin-pro</text>
<rect x="1113.6" y="146.4" width="230.2" height="611.6" rx="3.8" fill="#c6a4aa"/>
<text x="1228.7" y="167.3" font-size="21.28" letter-spacing="1.02">packages</text>
<rect x="1121" y="184.5" width="45.8" height="20.6" rx="3.8" fill="#ba9097"/>
<text x="1143.9" y="194.8" font-size="9.08" letter-spacing="0.35">stores/src</text>
<rect x="1170.7" y="184.5" width="55.3" height="20.6" rx="3.8" fill="#ba9097"/>
<text x="1198.3" y="194.8" font-size="10.06" letter-spacing="0.39">locales/src</text>
<rect x="1229.8" y="184.5" width="110.2" height="20.6" rx="3.8" fill="#ba9097"/>
<text x="1284.9" y="194.8" font-size="13.64" letter-spacing="0.50">utils/src/helpers</text>
<rect x="1117.4" y="209.3" width="81.6" height="159.7" rx="3.8" fill="#ba9097"/>
<text x="1158.2" y="230.2" font-size="21.28" letter-spacing="0.80">effects</text>
<rect x="1121" y="247.3" width="6" height="49.2" rx="3" fill="#af7d85"/>
<text style="stroke-width:0.07px" x="1124" y="271.9" font-size="1.93" letter-spacing="0.08">dex.ts</text>
<rect x="1130.7" y="247.3" width="64.7" height="49.2" rx="3.8" fill="#af7d85"/>
<text x="1163.1" y="268.2" font-size="4.95" letter-spacing="0.19">request/src/request-client</text>
<rect x="1134.5" y="285" width="7.5" height="7.8" rx="3.8" fill="#a36a73"/>
<text style="stroke-width:0.07px" x="1138.2" y="288.9" font-size="1.87" letter-spacing="0.08">dex.mjs</text>
<rect x="1146" y="285" width="45.6" height="7.8" rx="3.8" fill="#a36a73"/>
<text x="1168.8" y="288.9" font-size="5.55" letter-spacing="0.21">request-client.ts</text>
<rect x="1121" y="300.7" width="74.4" height="64.7" rx="3.8" fill="#af7d85"/>
<text x="1158.2" y="321.6" font-size="9.75" letter-spacing="0.44">common-ui/src</text>
<rect x="1128.8" y="338.8" width="62.8" height="22.8" rx="3.8" fill="#a36a73"/>
<text x="1160.2" y="350.2" font-size="8.67" letter-spacing="0.35">authentication</text>
<rect x="1203" y="209.3" width="137" height="159.7" rx="3.8" fill="#ba9097"/>
<text x="1271.5" y="230.2" font-size="21.28" letter-spacing="1.13">@core</text>
<rect x="1206.8" y="247" width="129.6" height="1.8" rx="0.9" fill="#af7d85"/>
<text style="stroke-width:0.07px" x="1271.6" y="247.9" font-size="1.41" letter-spacing="0.06">packages/effects/layouts/src/widgets/preferences/blocks/layout/content.vue?vue&amp;type=script&amp;setup=true&amp;lang.ts</text>
<rect x="1206.8" y="252.8" width="129.6" height="112.6" rx="3.8" fill="#af7d85"/>
<text x="1271.6" y="273.7" font-size="7.8" letter-spacing="0.31">ui-kit/shadcn-ui/dist/components</text>
<rect x="1210.8" y="290.8" width="32.3" height="7.8" rx="3.8" fill="#a36a73"/>
<text style="stroke-width:0.07px" x="1226.9" y="294.7" font-size="2" letter-spacing="0.08">type=script&amp;setup=true&amp;lang.ts</text>
<rect x="1210.8" y="302.9" width="32.3" height="7.3" rx="3.7" fill="#a36a73"/>
<text style="stroke-width:0.07px" x="1226.9" y="306.5" font-size="1.85" letter-spacing="0.08">modules/@vueuse/core/index.mjs</text>
<rect x="1210.8" y="314" width="32.3" height="18.8" rx="3.8" fill="#a36a73"/>
<text style="stroke-width:0.07px" x="1226.9" y="323.4" font-size="2" letter-spacing="0.08">type=script&amp;setup=true&amp;lang.ts</text>
<rect x="1210.8" y="336.6" width="32.3" height="25" rx="3.8" fill="#a36a73"/>
<text x="1226.9" y="349.1" font-size="9.99" letter-spacing="0.42">button</text>
<rect x="1246.9" y="290.8" width="85.7" height="9.5" rx="3.8" fill="#a36a73"/>
<text x="1289.8" y="295.6" font-size="8.25" letter-spacing="0.36">input-password</text>
<rect x="1246.9" y="304.5" width="85.7" height="57.1" rx="3.8" fill="#a36a73"/>
<text x="1289.8" y="325.4" font-size="21.28" letter-spacing="0.75">ui</text>
<rect x="1250.7" y="342.6" width="9.7" height="6.4" rx="3.2" fill="#955963"/>
<text class="w" style="stroke-width:0.07px" x="1255.6" y="345.8" font-size="2" letter-spacing="0.08">e&amp;lang.ts</text>
<rect x="1250.7" y="351" width="9.7" height="6.8" rx="3.4" fill="#955963"/>
<text class="w" style="stroke-width:0.07px" x="1255.6" y="354.4" font-size="2.24" letter-spacing="0.08">/index.ts</text>
<rect x="1264.2" y="342.6" width="15.2" height="15.2" rx="3.8" fill="#955963"/>
<text class="w" x="1271.8" y="350.2" font-size="4.9" letter-spacing="0.17">tooltip</text>
<rect x="1283.2" y="342.6" width="45.4" height="15.2" rx="3.8" fill="#955963"/>
<text class="w" x="1305.9" y="350.2" font-size="11.88" letter-spacing="0.46">toast</text>
<rect x="1117.4" y="373.3" width="222.6" height="381" rx="3.8" fill="#ba9097"/>
<text x="1228.7" y="394.2" font-size="21.28" letter-spacing="0.85">icons/src/svg</text>
<rect x="1121" y="415.2" width="215.4" height="335.3" rx="3.8" fill="#af7d85"/>
<text x="1228.7" y="436.1" font-size="21.28" letter-spacing="0.89">icons</text>
<rect x="1124.8" y="453.1" width="11.6" height="79.9" rx="3.8" fill="#a36a73"/>
<text style="stroke-width:0.07px" x="1130.6" y="493.1" font-size="1.97" letter-spacing="0.08">rue&amp;lang.ts</text>
<rect x="1140" y="453.1" width="13.5" height="79.9" rx="3.8" fill="#a36a73"/>
<text style="stroke-width:0.07px" x="1146.8" y="493.1" font-size="2.15" letter-spacing="0.09">re/index.mjs</text>
<rect x="1157.3" y="453.1" width="16.9" height="79.9" rx="3.8" fill="#a36a73"/>
<text style="stroke-width:0.07px" x="1165.8" y="493.1" font-size="2.33" letter-spacing="0.09">turtle.svg?raw</text>
<rect x="1178" y="453.1" width="21" height="79.9" rx="3.8" fill="#a36a73"/>
<text x="1188.5" y="493.1" font-size="3.25" letter-spacing="0.14">bell.svg?raw</text>
<rect x="1203" y="453.1" width="129.6" height="79.9" rx="3.8" fill="#a36a73"/>
<text x="1267.8" y="493.1" font-size="14.52" letter-spacing="0.63">avatar-4.svg?raw</text>
<rect x="1124.8" y="537" width="95.1" height="119.8" rx="3.8" fill="#a36a73"/>
<text x="1172.3" y="596.9" font-size="10.66" letter-spacing="0.46">avatar-2.svg?raw</text>
<rect x="1223.9" y="537" width="108.7" height="119.8" rx="3.8" fill="#a36a73"/>
<text x="1278.2" y="596.9" font-size="12.18" letter-spacing="0.53">avatar-1.svg?raw</text>
<rect x="1124.8" y="661" width="207.8" height="85.8" rx="3.8" fill="#a36a73"/>
<text x="1228.7" y="703.9" font-size="21.28" letter-spacing="0.92">avatar-3.svg?raw</text>
<rect x="1348" y="146.4" width="1594" height="611.6" rx="3.8" fill="#c6a4aa"/>
<text x="2145" y="167.3" font-size="21.28" letter-spacing="1.02">node_modules/.pnpm</text>
<rect x="1351.8" y="184.5" width="13.2" height="39.8" rx="3.8" fill="#ba9097"/>
<text style="stroke-width:0.07px" x="1358.4" y="204.4" font-size="2.1" letter-spacing="0.09">re/index.mjs</text>
<rect x="1351.8" y="228.3" width="13.2" height="76.2" rx="3.8" fill="#ba9097"/>
<text style="stroke-width:0.07px" x="1358.4" y="249.2" font-size="2.13" letter-spacing="0.09">true&amp;lang.ts</text>
<rect x="1355.7" y="266.3" width="5.6" height="13.7" rx="2.8" fill="#af7d85"/>
<text style="stroke-width:0.07px" x="1358.5" y="273.1" font-size="1.8" letter-spacing="0.07">dex.ts</text>
<rect x="1355.7" y="283.5" width="5.6" height="17.2" rx="2.8" fill="#af7d85"/>
<text style="stroke-width:0.07px" x="1358.5" y="292.1" font-size="1.77" letter-spacing="0.07">ang.ts</text>
<rect x="1351.8" y="308.6" width="13.2" height="74.2" rx="3.8" fill="#ba9097"/>
<text style="stroke-width:0.07px" x="1358.4" y="345.7" font-size="2.1" letter-spacing="0.09">re/index.mjs</text>
<rect x="1351.8" y="386.6" width="13.2" height="96.7" rx="3.8" fill="#ba9097"/>
<text style="stroke-width:0.07px" x="1358.4" y="407.5" font-size="2.13" letter-spacing="0.09">true&amp;lang.ts</text>
<rect x="1355.7" y="424.6" width="5.6" height="54.9" rx="2.8" fill="#af7d85"/>
<text style="stroke-width:0.07px" x="1358.5" y="452.1" font-size="1.8" letter-spacing="0.07">dex.ts</text>
<rect x="1351.8" y="487.5" width="13.2" height="110.1" rx="3.8" fill="#ba9097"/>
<text style="stroke-width:0.07px" x="1358.4" y="542.5" font-size="2.13" letter-spacing="0.09">true&amp;lang.ts</text>
<rect x="1351.8" y="601.9" width="13.2" height="152.4" rx="3.8" fill="#ba9097"/>
<text style="stroke-width:0.07px" x="1358.4" y="678.1" font-size="2.1" letter-spacing="0.09">re/index.mjs</text>
<rect x="1369" y="184.5" width="79.8" height="28" rx="3.8" fill="#ba9097"/>
<text style="stroke-width:0.07px" x="1408.9" y="198.5" font-size="1.74" letter-spacing="0.08">vue-demi@0.14.8_vue@3.4.34_typescript@5.5.4_/node_modules/vue-demi/lib/index.mjs</text>
<rect x="1369" y="216.7" width="79.8" height="43.5" rx="3.8" fill="#ba9097"/>
<text style="stroke-width:0.07px" x="1408.9" y="238.4" font-size="1.93" letter-spacing="0.08">@ant-design+colors@6.0.0/node_modules/@ant-design/colors/dist/index.esm.js</text>
<rect x="1369" y="264.4" width="79.8" height="47.3" rx="3.8" fill="#ba9097"/>
<text style="stroke-width:0.07px" x="1408.9" y="288" font-size="1.58" letter-spacing="0.07">pinia@2.1.7_typescript@5.5.4_vue@3.4.34_typescript@5.5.4_/node_modules/pinia/dist/pinia.mjs</text>
<rect x="1369" y="316" width="79.8" height="64.4" rx="3.8" fill="#ba9097"/>
<text style="stroke-width:0.07px" x="1408.9" y="336.9" font-size="2" letter-spacing="0.09">@ant-design+icons-svg@4.4.2/node_modules/@ant-design/icons-svg/es/asn</text>
<rect x="1372.8" y="354" width="13.2" height="4.5" rx="2.2" fill="#af7d85"/>
<text style="stroke-width:0.07px" x="1379.4" y="356.2" font-size="2.13" letter-spacing="0.09">true&amp;lang.ts</text>
<rect x="1372.8" y="362" width="13.2" height="4.5" rx="2.2" fill="#af7d85"/>
<text style="stroke-width:0.07px" x="1379.4" y="364.2" font-size="2.43" letter-spacing="0.09">ils/index.ts</text>
<rect x="1372.8" y="370" width="13.2" height="6.5" rx="3.2" fill="#af7d85"/>
<text style="stroke-width:0.07px" x="1379.4" y="373.2" font-size="2.13" letter-spacing="0.09">true&amp;lang.ts</text>
<rect x="1389.5" y="354" width="15.5" height="4.5" rx="2.2" fill="#af7d85"/>
<text style="stroke-width:0.07px" x="1397.2" y="356.2" font-size="2.07" letter-spacing="0.09">core/index.mjs</text>
<rect x="1389.5" y="362" width="15.5" height="4.5" rx="2.2" fill="#af7d85"/>
<text style="stroke-width:0.07px" x="1397.2" y="364.2" font-size="2.06" letter-spacing="0.09">p=true&amp;lang.ts</text>
<rect x="1389.5" y="370" width="15.5" height="6.5" rx="3.2" fill="#af7d85"/>
<text style="stroke-width:0.07px" x="1397.2" y="373.2" font-size="2.42" letter-spacing="0.09">utils/index.ts</text>
<rect x="1409" y="354" width="12.5" height="7" rx="3.5" fill="#af7d85"/>
<text style="stroke-width:0.07px" x="1415.2" y="357.5" font-size="2.12" letter-spacing="0.09">rue&amp;lang.ts</text>
<rect x="1409" y="365" width="12.5" height="11.5" rx="3.8" fill="#af7d85"/>
<text style="stroke-width:0.07px" x="1415.2" y="370.8" font-size="2.12" letter-spacing="0.09">e/index.mjs</text>
<rect x="1425.5" y="354" width="6" height="22.5" rx="3" fill="#af7d85"/>
<text style="stroke-width:0.07px" x="1428.5" y="365.2" font-size="1.89" letter-spacing="0.08">ang.ts</text>
<rect x="1435" y="354" width="9.8" height="22.5" rx="3.8" fill="#af7d85"/>
<text style="stroke-width:0.07px" x="1439.9" y="365.2" font-size="2.26" letter-spacing="0.08">/index.ts</text>
<rect x="1369" y="384.8" width="79.8" height="66.2" rx="3.8" fill="#ba9097"/>
<text style="stroke-width:0.07px" x="1408.9" y="417.9" font-size="3.18" letter-spacing="0.14">dayjs@1.11.12/node_modules/dayjs/dayjs.min.js</text>
<rect x="1369" y="455.2" width="79.8" height="79.7" rx="3.8" fill="#ba9097"/>
<text style="stroke-width:0.07px" x="1408.9" y="476.1" font-size="2.51" letter-spacing="0.10">@floating-ui+utils@0.2.5/node_modules/@floating-ui/utils/dist</text>
<rect x="1372.8" y="493.2" width="26.6" height="37.8" rx="3.8" fill="#af7d85"/>
<text style="stroke-width:0.07px" x="1386.1" y="512.1" font-size="2.78" letter-spacing="0.10">floating-ui.utils.mjs</text>
<rect x="1403.2" y="493.2" width="41.6" height="37.8" rx="3.8" fill="#af7d85"/>
<text x="1424" y="512.1" font-size="3.42" letter-spacing="0.13">floating-ui.utils.dom.mjs</text>
<rect x="1369" y="539" width="79.8" height="97" rx="3.8" fill="#ba9097"/>
<text style="stroke-width:0.07px" x="1408.9" y="587.5" font-size="1.8" letter-spacing="0.07">scroll-into-view-if-needed@2.2.31/node_modules/scroll-into-view-if-needed/es/index.js</text>
<rect x="1369" y="640.3" width="79.8" height="114" rx="3.8" fill="#ba9097"/>
<text x="1408.9" y="661.2" font-size="4.18" letter-spacing="0.17">stylis@4.3.2/node_modules/stylis/src</text>
<rect x="1376.6" y="678.3" width="26.6" height="11" rx="3.8" fill="#af7d85"/>
<text x="1389.9" y="683.8" font-size="4.47" letter-spacing="0.16">Serializer.js</text>
<rect x="1407" y="678.3" width="37.8" height="11" rx="3.8" fill="#af7d85"/>
<text x="1425.9" y="683.8" font-size="8.6" letter-spacing="0.26">Utility.js</text>
<rect x="1372.8" y="693.7" width="72" height="20.5" rx="3.8" fill="#af7d85"/>
<text x="1408.8" y="704" font-size="11.85" letter-spacing="0.46">Tokenizer.js</text>
<rect x="1372.8" y="718.4" width="72" height="32.1" rx="3.8" fill="#af7d85"/>
<text x="1408.8" y="734.5" font-size="15.91" letter-spacing="0.62">Parser.js</text>
<rect x="1452.8" y="184.5" width="145" height="64.1" rx="3.8" fill="#ba9097"/>
<text style="stroke-width:0.07px" x="1525.3" y="216.6" font-size="2.96" letter-spacing="0.13">vue-types@3.0.2_vue@3.4.34_typescript@5.5.4_/node_modules/vue-types/dist/vue-types.m.js</text>
<rect x="1452.8" y="252.8" width="145" height="112.8" rx="3.8" fill="#ba9097"/>
<text x="1525.3" y="273.7" font-size="6.19" letter-spacing="0.28">lodash-es@4.17.21/node_modules/lodash-es</text>
<rect x="1462.7" y="306" width="9.1" height="8" rx="3.8" fill="#af7d85"/>
<text style="stroke-width:0.07px" x="1467.2" y="310" font-size="2.16" letter-spacing="0.09">&amp;lang.ts</text>
<rect x="1462.7" y="317.5" width="9.1" height="6.5" rx="3.2" fill="#af7d85"/>
<text style="stroke-width:0.07px" x="1467.2" y="320.8" font-size="1.95" letter-spacing="0.09">ndex.mjs</text>
<rect x="1462.7" y="328" width="9.1" height="9" rx="3.8" fill="#af7d85"/>
<text style="stroke-width:0.07px" x="1467.2" y="332.5" font-size="2.16" letter-spacing="0.09">&amp;lang.ts</text>
<rect x="1462.7" y="341" width="9.1" height="9" rx="3.8" fill="#af7d85"/>
<text style="stroke-width:0.07px" x="1467.2" y="345.5" font-size="2.27" letter-spacing="0.09">index.ts</text>
<rect x="1462.7" y="354" width="9.1" height="7.8" rx="3.8" fill="#af7d85"/>
<text style="stroke-width:0.07px" x="1467.2" y="357.9" font-size="2.16" letter-spacing="0.09">&amp;lang.ts</text>
<rect x="1475.8" y="291.2" width="17" height="7.8" rx="3.8" fill="#af7d85"/>
<text style="stroke-width:0.07px" x="1484.3" y="295.1" font-size="2.48" letter-spacing="0.10">_isKeyable.js</text>
<rect x="1475.8" y="314" width="17" height="7.9" rx="3.8" fill="#af7d85"/>
<text style="stroke-width:0.07px" x="1484.3" y="317.9" font-size="2.53" letter-spacing="0.11">_isMasked.js</text>
<rect x="1475.8" y="325.8" width="17" height="9.2" rx="3.8" fill="#af7d85"/>
<text style="stroke-width:0.07px" x="1484.3" y="330.4" font-size="2.16" letter-spacing="0.09">isTypedArray.js</text>
<rect x="1475.8" y="338.9" width="17" height="9.1" rx="3.8" fill="#af7d85"/>
<text style="stroke-width:0.07px" x="1484.3" y="343.4" font-size="1.99" letter-spacing="0.08">_baseIsNative.js</text>
<rect x="1475.8" y="352.6" width="17" height="9.2" rx="3.8" fill="#af7d85"/>
<text style="stroke-width:0.07px" x="1484.3" y="357.2" font-size="2.63" letter-spacing="0.11">_toSource.js</text>
<rect x="1496.7" y="291.2" width="17" height="9.8" rx="3.8" fill="#af7d85"/>
<text style="stroke-width:0.07px" x="1505.2" y="296.1" font-size="2.27" letter-spacing="0.09">isObjectLike.js</text>
<rect x="1496.7" y="304.9" width="17" height="9.1" rx="3.8" fill="#af7d85"/>
<text style="stroke-width:0.07px" x="1505.2" y="309.4" font-size="2.1" letter-spacing="0.09">_baseGetTag.js</text>
<rect x="1496.7" y="318" width="17" height="11" rx="3.8" fill="#af7d85"/>
<text style="stroke-width:0.07px" x="1505.2" y="323.5" font-size="2.46" letter-spacing="0.11">_baseKeys.js</text>
<rect x="1496.7" y="333" width="17" height="13" rx="3.8" fill="#af7d85"/>
<text style="stroke-width:0.07px" x="1505.2" y="339.5" font-size="3.17" letter-spacing="0.12">isObject.js</text>
<rect x="1496.7" y="350.7" width="17" height="11.1" rx="3.8" fill="#af7d85"/>
<text style="stroke-width:0.07px" x="1505.2" y="356.2" font-size="2.46" letter-spacing="0.09">isArrayLike.js</text>
<rect x="1517.9" y="291.2" width="18.7" height="11.1" rx="3.8" fill="#af7d85"/>
<text x="1527.2" y="296.8" font-size="3.36" letter-spacing="0.13">isLength.js</text>
<rect x="1517.9" y="306.6" width="18.7" height="17" rx="3.8" fill="#af7d85"/>
<text style="stroke-width:0.07px" x="1527.2" y="315.1" font-size="2.89" letter-spacing="0.11">isFunction.js</text>
<rect x="1517.9" y="327.8" width="18.7" height="15" rx="3.8" fill="#af7d85"/>
<text style="stroke-width:0.07px" x="1527.2" y="335.3" font-size="2.45" letter-spacing="0.10">isArguments.js</text>
<rect x="1517.9" y="346.7" width="18.7" height="15.1" rx="3.8" fill="#af7d85"/>
<text style="stroke-width:0.07px" x="1527.2" y="354.2" font-size="3.08" letter-spacing="0.12">_nodeUtil.js</text>
<rect x="1540.5" y="291.2" width="13.5" height="24.8" rx="3.8" fill="#af7d85"/>
<text style="stroke-width:0.07px" x="1547.2" y="303.6" font-size="2.69" letter-spacing="0.09">isBuffer.js</text>
<rect x="1557.9" y="291.2" width="15.1" height="24.8" rx="3.8" fill="#af7d85"/>
<text style="stroke-width:0.07px" x="1565.5" y="303.6" font-size="1.98" letter-spacing="0.09">_getRawTag.js</text>
<rect x="1576.9" y="291.2" width="17" height="24.8" rx="3.8" fill="#af7d85"/>
<text style="stroke-width:0.07px" x="1585.4" y="303.6" font-size="2.1" letter-spacing="0.09">_baseGetTag.js</text>
<rect x="1540.5" y="319.9" width="32.5" height="19" rx="3.8" fill="#af7d85"/>
<text x="1556.8" y="329.4" font-size="6.13" letter-spacing="0.25">_getTag.js</text>
<rect x="1540.5" y="342.8" width="32.5" height="19" rx="3.8" fill="#af7d85"/>
<text x="1556.8" y="352.3" font-size="6.23" letter-spacing="0.25">isEmpty.js</text>
<rect x="1576.9" y="319.9" width="17" height="41.9" rx="3.8" fill="#af7d85"/>
<text style="stroke-width:0.07px" x="1585.4" y="340.9" font-size="1.53" letter-spacing="0.07">_baseIsTypedArray.js</text>
<rect x="1452.8" y="369.7" width="145" height="117.8" rx="3.8" fill="#ba9097"/>
<text x="1525.3" y="428.6" font-size="3.43" letter-spacing="0.15">@floating-ui+dom@1.6.8/node_modules/@floating-ui/dom/dist/floating-ui.dom.mjs</text>
<rect x="1452.8" y="491.8" width="145" height="119.6" rx="3.8" fill="#ba9097"/>
<text x="1525.3" y="512.7" font-size="3.42" letter-spacing="0.15">@internationalized+number@3.5.3/node_modules/@internationalized/number/dist</text>
<rect x="1456.6" y="529.8" width="41.8" height="77.8" rx="3.8" fill="#af7d85"/>
<text x="1477.5" y="568.7" font-size="3.72" letter-spacing="0.17">NumberFormatter.mjs</text>
<rect x="1502.4" y="529.8" width="91.5" height="77.8" rx="3.8" fill="#af7d85"/>
<text x="1548.2" y="568.7" font-size="9.5" letter-spacing="0.44">NumberParser.mjs</text>
<rect x="1452.8" y="615.4" width="145" height="138.9" rx="3.8" fill="#ba9097"/>
<text x="1525.3" y="684.8" font-size="3.43" letter-spacing="0.14">@floating-ui+core@1.6.5/node_modules/@floating-ui/core/dist/floating-ui.core.mjs</text>
<rect x="1601.7" y="184.5" width="188.2" height="119.8" rx="3.8" fill="#ba9097"/>
<text x="1695.8" y="205.4" font-size="3.44" letter-spacing="0.15">@ant-design+icons-vue@7.0.1_vue@3.4.34_typescript@5.5.4_/node_modules/@ant-design/icons-vue/es</text>
<rect x="1605.5" y="222.6" width="43.5" height="35.9" rx="3.8" fill="#af7d85"/>
<text x="1627.2" y="240.6" font-size="13.46" letter-spacing="0.42">utils.js</text>
<rect x="1605.5" y="262.7" width="43.5" height="37.8" rx="3.8" fill="#af7d85"/>
<text x="1627.2" y="281.6" font-size="5.52" letter-spacing="0.26">dynamicCSS.js</text>
<rect x="1653" y="222.6" width="61" height="77.9" rx="3.8" fill="#af7d85"/>
<text x="1683.5" y="243.5" font-size="21.28" letter-spacing="0.89">icons</text>
<rect x="1657" y="260.6" width="13" height="7.4" rx="3.7" fill="#a36a73"/>
<text style="stroke-width:0.07px" x="1663.5" y="264.3" font-size="2.09" letter-spacing="0.08">true&amp;lang.ts</text>
<rect x="1674" y="260.6" width="13" height="7.4" rx="3.7" fill="#a36a73"/>
<text style="stroke-width:0.07px" x="1680.5" y="264.3" font-size="2.39" letter-spacing="0.08">ils/index.ts</text>
<rect x="1691" y="260.6" width="7" height="14.4" rx="3.5" fill="#a36a73"/>
<text style="stroke-width:0.07px" x="1694.5" y="267.8" font-size="2.21" letter-spacing="0.09">ang.ts</text>
<rect x="1702" y="260.6" width="8" height="14.4" rx="3.8" fill="#a36a73"/>
<text style="stroke-width:0.07px" x="1706" y="267.8" font-size="2" letter-spacing="0.09">dex.mjs</text>
<rect x="1657" y="272" width="13" height="11" rx="3.8" fill="#a36a73"/>
<text style="stroke-width:0.07px" x="1663.5" y="277.5" font-size="2.09" letter-spacing="0.08">true&amp;lang.ts</text>
<rect x="1674" y="272" width="13" height="11" rx="3.8" fill="#a36a73"/>
<text style="stroke-width:0.07px" x="1680.5" y="277.5" font-size="2.39" letter-spacing="0.08">ils/index.ts</text>
<rect x="1691" y="279" width="19" height="5" rx="2.5" fill="#a36a73"/>
<text style="stroke-width:0.07px" x="1700.5" y="281.5" font-size="1.95" letter-spacing="0.08">setup=true&amp;lang.ts</text>
<rect x="1657" y="287" width="13" height="9.6" rx="3.8" fill="#a36a73"/>
<text style="stroke-width:0.07px" x="1663.5" y="291.8" font-size="2.07" letter-spacing="0.08">re/index.mjs</text>
<rect x="1674" y="287" width="13" height="9.6" rx="3.8" fill="#a36a73"/>
<text style="stroke-width:0.07px" x="1680.5" y="291.8" font-size="2.09" letter-spacing="0.08">true&amp;lang.ts</text>
<rect x="1691" y="288" width="19" height="8.6" rx="3.8" fill="#a36a73"/>
<text style="stroke-width:0.07px" x="1700.5" y="292.3" font-size="2.3" letter-spacing="0.08">src/utils/index.ts</text>
<rect x="1717.9" y="222.6" width="68.1" height="77.9" rx="3.8" fill="#af7d85"/>
<text x="1752" y="243.5" font-size="10.75" letter-spacing="0.53">components</text>
<rect x="1721.7" y="266.3" width="11.3" height="30.3" rx="3.8" fill="#a36a73"/>
<text style="stroke-width:0.07px" x="1727.3" y="281.5" font-size="2.16" letter-spacing="0.09">/index.mjs</text>
<rect x="1736.9" y="260.6" width="45.3" height="11.2" rx="3.8" fill="#a36a73"/>
<text x="1759.6" y="266.2" font-size="7.53" letter-spacing="0.32">IconBase.js</text>
<rect x="1736.9" y="275.8" width="45.3" height="20.8" rx="3.8" fill="#a36a73"/>
<text x="1759.6" y="286.2" font-size="7.87" letter-spacing="0.32">AntdIcon.js</text>
<rect x="1601.7" y="308.4" width="188.2" height="127.4" rx="3.8" fill="#ba9097"/>
<text x="1695.8" y="372.1" font-size="3.78" letter-spacing="0.17">@vue+runtime-dom@3.4.34/node_modules/@vue/runtime-dom/dist/runtime-dom.esm-bundler.js</text>
<rect x="1601.7" y="440" width="188.2" height="150.4" rx="3.8" fill="#ba9097"/>
<text x="1695.8" y="515.2" font-size="3.63" letter-spacing="0.16">vue-i18n@9.13.1_vue@3.4.34_typescript@5.5.4_/node_modules/vue-i18n/dist/vue-i18n.runtime.mjs</text>
<rect x="1601.7" y="594.5" width="188.2" height="159.8" rx="3.8" fill="#ba9097"/>
<text x="1695.8" y="674.4" font-size="4.54" letter-spacing="0.19">@intlify+core-base@9.13.1/node_modules/@intlify/core-base/dist/core-base.mjs</text>
<rect x="1793.9" y="184.5" width="242.1" height="167" rx="3.8" fill="#ba9097"/>
<text x="1915" y="268" font-size="4.79" letter-spacing="0.21">@iconify+vue@4.1.2_vue@3.4.34_typescript@5.5.4_/node_modules/@iconify/vue/dist/iconify.mjs</text>
<rect x="1793.9" y="356" width="242.1" height="192.2" rx="3.8" fill="#ba9097"/>
<text x="1915" y="452.1" font-size="4.01" letter-spacing="0.17">@intlify+message-compiler@9.13.1/node_modules/@intlify/message-compiler/dist/message-compiler.esm-browser.js</text>
<rect x="1793.9" y="552.6" width="242.1" height="201.7" rx="3.8" fill="#ba9097"/>
<text x="1915" y="653.5" font-size="4.9" letter-spacing="0.21">vue-router@4.4.0_vue@3.4.34_typescript@5.5.4_/node_modules/vue-router/dist/vue-router.mjs</text>
<rect x="2040.2" y="184.5" width="483.8" height="154.3" rx="3.8" fill="#ba9097"/>
<text x="2282.1" y="205.4" font-size="21.28" letter-spacing="0.92">axios@1.7.2/node_modules/axios/lib</text>
<rect x="2044" y="222.6" width="15" height="49.2" rx="3.8" fill="#af7d85"/>
<text x="2051.5" y="247.2" font-size="3.87" letter-spacing="0.15">axios.js</text>
<rect x="2044" y="275.8" width="15" height="59.2" rx="3.8" fill="#af7d85"/>
<text x="2051.5" y="296.7" font-size="3.57" letter-spacing="0.15">platform</text>
<rect x="2047.8" y="313.9" width="7.4" height="17.3" rx="3.7" fill="#a36a73"/>
<text style="stroke-width:0.07px" x="2051.5" y="322.5" font-size="1.85" letter-spacing="0.08">dex.mjs</text>
<rect x="2063" y="222.6" width="32.1" height="45.4" rx="3.8" fill="#af7d85"/>
<text x="2079.1" y="243.5" font-size="9.55" letter-spacing="0.41">cancel</text>
<rect x="2066.8" y="260.6" width="1.7" height="3.8" rx="0.8" fill="#a36a73"/>
<rect x="2072" y="260.6" width="19.3" height="3.8" rx="1.9" fill="#a36a73"/>
<text style="stroke-width:0.07px" x="2081.7" y="262.5" font-size="2.45" letter-spacing="0.11">CancelToken.js</text>
<rect x="2063" y="272.2" width="32.1" height="62.8" rx="3.8" fill="#af7d85"/>
<text x="2079.1" y="293.1" font-size="7.88" letter-spacing="0.31">defaults</text>
<rect x="2066.8" y="310.2" width="24.5" height="21" rx="3.8" fill="#a36a73"/>
<text x="2079.1" y="320.7" font-size="6.21" letter-spacing="0.24">index.js</text>
<rect x="2099.1" y="222.6" width="154.2" height="45.4" rx="3.8" fill="#af7d85"/>
<text x="2176.2" y="243.5" font-size="21.28" letter-spacing="0.93">adapters</text>
<rect x="2102.9" y="260.6" width="17.8" height="3.8" rx="1.9" fill="#a36a73"/>
<text style="stroke-width:0.07px" x="2111.8" y="262.5" font-size="2.97" letter-spacing="0.12">adapters.js</text>
<rect x="2124.4" y="260.6" width="60.3" height="3.8" rx="1.9" fill="#a36a73"/>
<text style="stroke-width:0.07px" x="2154.6" y="262.5" font-size="2.97" letter-spacing="0.10">xhr.js</text>
<rect x="2188.8" y="260.6" width="60.7" height="3.8" rx="1.9" fill="#a36a73"/>
<text style="stroke-width:0.07px" x="2219.2" y="262.5" font-size="2.97" letter-spacing="0.11">fetch.js</text>
<rect x="2099.1" y="272.2" width="154.2" height="62.8" rx="3.8" fill="#af7d85"/>
<text x="2176.2" y="303.6" font-size="21.28" letter-spacing="0.67">utils.js</text>
<rect x="2257.5" y="222.6" width="118" height="112.4" rx="3.8" fill="#af7d85"/>
<text x="2316.5" y="243.5" font-size="21.28" letter-spacing="0.93">core</text>
<rect x="2261.2" y="260.6" width="22.8" height="3.8" rx="1.9" fill="#a36a73"/>
<text style="stroke-width:0.07px" x="2272.6" y="262.5" font-size="2.89" letter-spacing="0.11">buildFullPath.js</text>
<rect x="2261.2" y="268.6" width="22.8" height="4" rx="2" fill="#a36a73"/>
<text style="stroke-width:0.07px" x="2272.6" y="270.6" font-size="2.67" letter-spacing="0.11">transformData.js</text>
<rect x="2261.2" y="277.5" width="22.8" height="5.9" rx="2.9" fill="#a36a73"/>
<text x="2272.6" y="280.4" font-size="4.61" letter-spacing="0.16">settle.js</text>
<rect x="2261.2" y="287.6" width="22.8" height="16.3" rx="3.8" fill="#a36a73"/>
<text style="stroke-width:0.07px" x="2272.6" y="295.8" font-size="2.03" letter-spacing="0.08">InterceptorManager.js</text>
<rect x="2261.2" y="308.6" width="22.8" height="22.6" rx="3.8" fill="#a36a73"/>
<text style="stroke-width:0.07px" x="2272.6" y="319.9" font-size="2.32" letter-spacing="0.10">dispatchRequest.js</text>
<rect x="2287.9" y="260.6" width="51.3" height="11.2" rx="3.8" fill="#a36a73"/>
<text x="2313.6" y="266.2" font-size="7.86" letter-spacing="0.31">AxiosError.js</text>
<rect x="2287.9" y="275.8" width="51.3" height="16.5" rx="3.8" fill="#a36a73"/>
<text x="2313.6" y="284.1" font-size="6.56" letter-spacing="0.28">mergeConfig.js</text>
<rect x="2287.9" y="297" width="51.3" height="34.2" rx="3.8" fill="#a36a73"/>
<text x="2313.6" y="314.1" font-size="12.8" letter-spacing="0.50">Axios.js</text>
<rect x="2343" y="260.6" width="28.8" height="70.6" rx="3.8" fill="#a36a73"/>
<text x="2357.4" y="295.9" font-size="3.43" letter-spacing="0.15">AxiosHeaders.js</text>
<rect x="2379.8" y="222.6" width="140.4" height="112.4" rx="3.8" fill="#af7d85"/>
<text x="2450" y="243.5" font-size="21.28" letter-spacing="0.90">helpers</text>
<rect x="2383.6" y="266" width="5.4" height="4" rx="2" fill="#a36a73"/>
<text style="stroke-width:0.07px" x="2386.3" y="268" font-size="1.74" letter-spacing="0.07">dex.ts</text>
<rect x="2383.6" y="274" width="5.4" height="8" rx="2.7" fill="#a36a73"/>
<text style="stroke-width:0.07px" x="2386.3" y="278" font-size="1.7" letter-spacing="0.07">ang.ts</text>
<rect x="2383.6" y="284" width="5.4" height="12" rx="2.7" fill="#a36a73"/>
<text style="stroke-width:0.07px" x="2386.3" y="290" font-size="1.61" letter-spacing="0.07">ex.mjs</text>
<rect x="2383.6" y="299" width="5.4" height="12" rx="2.7" fill="#a36a73"/>
<text style="stroke-width:0.07px" x="2386.3" y="305" font-size="1.7" letter-spacing="0.07">ang.ts</text>
<rect x="2383.6" y="314" width="5.4" height="17.2" rx="2.7" fill="#a36a73"/>
<text style="stroke-width:0.07px" x="2386.3" y="322.6" font-size="1.74" letter-spacing="0.07">dex.ts</text>
<rect x="2392.6" y="260.6" width="15.2" height="6.4" rx="3.2" fill="#a36a73"/>
<text x="2400.2" y="263.8" font-size="3.22" letter-spacing="0.13">spread.js</text>
<rect x="2392.6" y="271" width="15.2" height="8.5" rx="3.8" fill="#a36a73"/>
<text x="2400.2" y="275.2" font-size="4.52" letter-spacing="0.17">bind.js</text>
<rect x="2392.6" y="283.5" width="15.2" height="12.5" rx="3.8" fill="#a36a73"/>
<text style="stroke-width:0.07px" x="2400.2" y="289.8" font-size="2.02" letter-spacing="0.08">p=true&amp;lang.ts</text>
<rect x="2392.6" y="299.5" width="15.2" height="12" rx="3.8" fill="#a36a73"/>
<text style="stroke-width:0.07px" x="2400.2" y="305.5" font-size="2.98" letter-spacing="0.12">cookies.js</text>
<rect x="2392.6" y="315.5" width="15.2" height="15.7" rx="3.8" fill="#a36a73"/>
<text style="stroke-width:0.07px" x="2400.2" y="323.4" font-size="1.79" letter-spacing="0.08">combineURLs.js</text>
<rect x="2411.7" y="260.6" width="20.9" height="12.4" rx="3.8" fill="#a36a73"/>
<text style="stroke-width:0.07px" x="2422.1" y="266.8" font-size="1.78" letter-spacing="0.09">toURLEncodedForm.js</text>
<rect x="2411.7" y="277" width="20.9" height="13.5" rx="3.8" fill="#a36a73"/>
<text style="stroke-width:0.07px" x="2422.1" y="283.8" font-size="2.84" letter-spacing="0.11">isAxiosError.js</text>
<rect x="2411.7" y="294.5" width="20.9" height="15.5" rx="3.8" fill="#a36a73"/>
<text style="stroke-width:0.07px" x="2422.1" y="302.2" font-size="2.47" letter-spacing="0.11">parseHeaders.js</text>
<rect x="2411.7" y="314" width="20.9" height="17.2" rx="3.8" fill="#a36a73"/>
<text style="stroke-width:0.07px" x="2422.1" y="322.6" font-size="2" letter-spacing="0.09">isURLSameOrigin.js</text>
<rect x="2436.8" y="260.6" width="28.1" height="11.9" rx="3.8" fill="#a36a73"/>
<text x="2450.9" y="266.6" font-size="4.72" letter-spacing="0.20">buildURL.js</text>
<rect x="2436.8" y="276" width="28.1" height="13" rx="3.8" fill="#a36a73"/>
<text style="stroke-width:0.07px" x="2450.9" y="282.5" font-size="2.9" letter-spacing="0.13">composeSignals.js</text>
<rect x="2436.8" y="293" width="28.1" height="15" rx="3.8" fill="#a36a73"/>
<text x="2450.9" y="300.5" font-size="3.4" letter-spacing="0.14">resolveConfig.js</text>
<rect x="2436.8" y="312" width="28.1" height="19.2" rx="3.8" fill="#a36a73"/>
<text style="stroke-width:0.07px" x="2450.9" y="321.6" font-size="2.73" letter-spacing="0.13">formDataToJSON.js</text>
<rect x="2469.1" y="260.6" width="20.7" height="28.1" rx="3.8" fill="#a36a73"/>
<text style="stroke-width:0.07px" x="2479.4" y="274.6" font-size="1.48" letter-spacing="0.07">AxiosURLSearchParams.js</text>
<rect x="2493.8" y="260.6" width="22.8" height="28.1" rx="3.8" fill="#a36a73"/>
<text x="2505.2" y="274.6" font-size="4.15" letter-spacing="0.15">validator.js</text>
<rect x="2469.1" y="293" width="47.5" height="38.2" rx="3.8" fill="#a36a73"/>
<text x="2492.8" y="312.1" font-size="6.5" letter-spacing="0.28">toFormData.js</text>
<rect x="2040.2" y="343" width="483.8" height="411.3" rx="3.8" fill="#ba9097"/>
<text x="2282.1" y="548.6" font-size="10.75" letter-spacing="0.46">radix-vue@1.9.2_vue@3.4.34_typescript@5.5.4_/node_modules/radix-vue/dist/index.js</text>
<rect x="2528.2" y="184.5" width="410" height="570" rx="3.8" fill="#ba9097"/>
<text x="2733.2" y="205.4" font-size="8.92" letter-spacing="0.40">ant-design-vue@4.2.3_vue@3.4.34_typescript@5.5.4_/node_modules/ant-design-vue/es</text>
<rect x="2532" y="223" width="8" height="10.8" rx="3.8" fill="#af7d85"/>
<text style="stroke-width:0.07px" x="2536" y="228.4" font-size="2.33" letter-spacing="0.09">lang.ts</text>
<rect x="2543.7" y="223" width="27.8" height="10.8" rx="3.8" fill="#af7d85"/>
<text style="stroke-width:0.07px" x="2557.6" y="228.4" font-size="2.7" letter-spacing="0.11">vc-pagination/locale</text>
<rect x="2575.8" y="223" width="62.8" height="10.8" rx="3.8" fill="#af7d85"/>
<text x="2607.2" y="228.4" font-size="6.89" letter-spacing="0.27">date-picker/locale</text>
<rect x="2642.9" y="223" width="64.4" height="10.8" rx="3.8" fill="#af7d85"/>
<text x="2675.1" y="228.4" font-size="9.38" letter-spacing="0.35">vc-trigger</text>
<rect x="2711.4" y="223" width="77.9" height="10.8" rx="3.8" fill="#af7d85"/>
<text x="2750.4" y="228.4" font-size="9.38" letter-spacing="0.36">vc-picker/locale</text>
<rect x="2793.4" y="223" width="141" height="10.8" rx="3.8" fill="#af7d85"/>
<text x="2863.9" y="228.4" font-size="9.38" letter-spacing="0.47">app</text>
<rect x="2532" y="237.9" width="32.2" height="98.8" rx="3.8" fill="#af7d85"/>
<text x="2548.1" y="258.8" font-size="10.6" letter-spacing="0.36">vc-util</text>
<rect x="2535.9" y="279.9" width="24.5" height="53.1" rx="3.8" fill="#a36a73"/>
<text x="2548.2" y="300.8" font-size="9.97" letter-spacing="0.63">Dom</text>
<rect x="2543" y="318" width="14" height="11" rx="3.8" fill="#955963"/>
<text class="w" style="stroke-width:0.07px" x="2550" y="323.5" font-size="1.78" letter-spacing="0.08">dynamicCSS.js</text>
<rect x="2568.3" y="237.9" width="34.1" height="98.8" rx="3.8" fill="#af7d85"/>
<text x="2585.4" y="258.8" font-size="10.98" letter-spacing="0.53">space</text>
<rect x="2572" y="276.1" width="26.7" height="9" rx="3.8" fill="#a36a73"/>
<text x="2585.3" y="280.6" font-size="7.04" letter-spacing="0.26">style</text>
<rect x="2572" y="289.2" width="26.7" height="43.8" rx="3.8" fill="#a36a73"/>
<text x="2585.3" y="311.1" font-size="4.59" letter-spacing="0.21">Compact.js</text>
<rect x="2606.6" y="237.9" width="62.4" height="98.8" rx="3.8" fill="#af7d85"/>
<text x="2637.8" y="258.8" font-size="19.7" letter-spacing="0.97">empty</text>
<rect x="2610.3" y="276.1" width="11.5" height="37.9" rx="3.8" fill="#a36a73"/>
<text style="stroke-width:0.07px" x="2616.1" y="295.1" font-size="2.54" letter-spacing="0.10">simple.js</text>
<rect x="2625.6" y="276.1" width="13.4" height="37.9" rx="3.8" fill="#a36a73"/>
<text style="stroke-width:0.07px" x="2632.3" y="295.1" font-size="2.01" letter-spacing="0.07">style/index.js</text>
<rect x="2642.7" y="276.1" width="22.6" height="37.9" rx="3.8" fill="#a36a73"/>
<text x="2654" y="295.1" font-size="5.32" letter-spacing="0.22">empty.js</text>
<rect x="2610.3" y="318.1" width="55" height="14.9" rx="3.8" fill="#a36a73"/>
<text x="2637.8" y="325.6" font-size="11.65" letter-spacing="0.44">index.js</text>
<rect x="2673.1" y="237.9" width="68.6" height="98.8" rx="3.8" fill="#af7d85"/>
<text x="2707.4" y="258.8" font-size="21.28" letter-spacing="0.83">locale</text>
<rect x="2676.9" y="276.1" width="36.1" height="5.6" rx="2.8" fill="#a36a73"/>
<text x="2694.9" y="278.9" font-size="4.38" letter-spacing="0.17">index.js</text>
<rect x="2676.9" y="285.8" width="36.1" height="14.9" rx="3.8" fill="#a36a73"/>
<text x="2694.9" y="293.2" font-size="3.96" letter-spacing="0.16">LocaleReceiver.js</text>
<rect x="2676.9" y="304.7" width="36.1" height="28.3" rx="3.8" fill="#a36a73"/>
<text x="2694.9" y="318.9" font-size="7.65" letter-spacing="0.35">zh_CN.js</text>
<rect x="2717" y="276.1" width="21" height="56.9" rx="3.8" fill="#a36a73"/>
<text x="2727.5" y="304.6" font-size="4.45" letter-spacing="0.20">en_US.js</text>
<rect x="2745.9" y="237.9" width="77.9" height="98.8" rx="3.8" fill="#af7d85"/>
<text x="2784.9" y="258.8" font-size="21.28" letter-spacing="0.79">style</text>
<rect x="2749.6" y="276.1" width="34.1" height="7.1" rx="3.5" fill="#a36a73"/>
<text style="stroke-width:0.07px" x="2766.6" y="279.6" font-size="2.79" letter-spacing="0.11">compact-item-vertical.js</text>
<rect x="2749.6" y="287.3" width="34.1" height="16.8" rx="3.8" fill="#a36a73"/>
<text x="2766.6" y="295.7" font-size="4.19" letter-spacing="0.18">compact-item.js</text>
<rect x="2749.6" y="308.4" width="34.1" height="24.6" rx="3.8" fill="#a36a73"/>
<text x="2766.6" y="320.7" font-size="8.65" letter-spacing="0.33">index.js</text>
<rect x="2787.8" y="276.1" width="32.3" height="56.9" rx="3.8" fill="#a36a73"/>
<text x="2803.9" y="297" font-size="9.25" letter-spacing="0.42">motion</text>
<rect x="2791.6" y="314" width="6" height="6" rx="3" fill="#955963"/>
<text class="w" style="stroke-width:0.07px" x="2794.6" y="317" font-size="1.79" letter-spacing="0.08">ex.mjs</text>
<rect x="2791.6" y="323" width="6" height="6.2" rx="3" fill="#955963"/>
<text class="w" style="stroke-width:0.07px" x="2794.6" y="326.1" font-size="1.89" letter-spacing="0.08">ang.ts</text>
<rect x="2801" y="314" width="15.3" height="15.2" rx="3.8" fill="#955963"/>
<text class="w" x="2808.7" y="321.6" font-size="3.82" letter-spacing="0.17">zoom.js</text>
<rect x="2827.9" y="237.9" width="106.5" height="98.8" rx="3.8" fill="#af7d85"/>
<text x="2881.2" y="258.8" font-size="21.28" letter-spacing="1.11">message</text>
<rect x="2831.6" y="276.1" width="26.3" height="5.6" rx="2.8" fill="#a36a73"/>
<text x="2844.8" y="278.9" font-size="3.99" letter-spacing="0.17">PurePanel.js</text>
<rect x="2831.6" y="285.8" width="26.3" height="47.2" rx="3.8" fill="#a36a73"/>
<text x="2844.8" y="309.4" font-size="3.95" letter-spacing="0.15">style/index.js</text>
<rect x="2862" y="276.1" width="68.5" height="20.5" rx="3.8" fill="#a36a73"/>
<text x="2896.2" y="286.4" font-size="16.03" letter-spacing="0.61">index.js</text>
<rect x="2862" y="300.7" width="68.5" height="32.3" rx="3.8" fill="#a36a73"/>
<text x="2896.2" y="316.9" font-size="8.83" letter-spacing="0.41">useMessage.js</text>
<rect x="2532" y="341.2" width="76" height="140.2" rx="3.8" fill="#af7d85"/>
<text x="2570" y="362.1" font-size="16.32" letter-spacing="0.65">vc-dialog</text>
<rect x="2535.9" y="379" width="4.1" height="30.3" rx="2" fill="#a36a73"/>
<rect x="2543.5" y="379" width="11.4" height="30.3" rx="3.8" fill="#a36a73"/>
<text x="2549.2" y="394.1" font-size="4.3" letter-spacing="0.13">util.js</text>
<rect x="2559" y="379" width="20.7" height="30.3" rx="3.8" fill="#a36a73"/>
<text style="stroke-width:0.07px" x="2569.3" y="394.1" font-size="2.87" letter-spacing="0.12">DialogWrap.js</text>
<rect x="2583.8" y="379" width="20.5" height="30.3" rx="3.8" fill="#a36a73"/>
<text style="stroke-width:0.07px" x="2594.1" y="394.1" font-size="1.98" letter-spacing="0.08">IDialogPropTypes.js</text>
<rect x="2535.9" y="413.4" width="68.4" height="28.5" rx="3.8" fill="#a36a73"/>
<text x="2570.1" y="427.6" font-size="13.06" letter-spacing="0.53">Content.js</text>
<rect x="2535.9" y="446" width="68.4" height="31.7" rx="3.8" fill="#a36a73"/>
<text x="2570.1" y="461.9" font-size="15.33" letter-spacing="0.59">Dialog.js</text>
<rect x="2612.1" y="341.2" width="103" height="140.2" rx="3.8" fill="#af7d85"/>
<text x="2663.6" y="362.1" font-size="14.48" letter-spacing="0.53">vc-notification</text>
<rect x="2615.9" y="379" width="20.9" height="58.8" rx="3.8" fill="#a36a73"/>
<text x="2626.4" y="408.4" font-size="4.69" letter-spacing="0.18">Notice.js</text>
<rect x="2640.9" y="379" width="28.1" height="58.8" rx="3.8" fill="#a36a73"/>
<text style="stroke-width:0.07px" x="2654.9" y="408.4" font-size="3.2" letter-spacing="0.12">useNotification.js</text>
<rect x="2673.1" y="379" width="38.3" height="58.8" rx="3.8" fill="#a36a73"/>
<text x="2692.2" y="408.4" font-size="3.98" letter-spacing="0.16">HookNotification.js</text>
<rect x="2615.9" y="441.9" width="95.5" height="35.8" rx="3.8" fill="#a36a73"/>
<text x="2663.7" y="459.8" font-size="13.8" letter-spacing="0.49">Notification.js</text>
<rect x="2719" y="341.2" width="104.8" height="140.2" rx="3.8" fill="#af7d85"/>
<text x="2771.4" y="362.1" font-size="18.84" letter-spacing="0.68">notification</text>
<rect x="2722.7" y="379" width="11.6" height="32.1" rx="3.8" fill="#a36a73"/>
<text x="2728.5" y="395.1" font-size="4.38" letter-spacing="0.13">util.js</text>
<rect x="2738" y="379" width="15.3" height="32.1" rx="3.8" fill="#a36a73"/>
<text style="stroke-width:0.07px" x="2745.7" y="395.1" font-size="2.32" letter-spacing="0.10">PurePanel.js</text>
<rect x="2757" y="379" width="63.1" height="32.1" rx="3.8" fill="#a36a73"/>
<text x="2788.6" y="395.1" font-size="7.18" letter-spacing="0.27">useNotification.js</text>
<rect x="2722.7" y="415.2" width="97.4" height="20.7" rx="3.8" fill="#a36a73"/>
<text x="2771.4" y="425.5" font-size="16.18" letter-spacing="0.62">index.js</text>
<rect x="2722.7" y="440" width="97.4" height="37.7" rx="3.8" fill="#a36a73"/>
<text x="2771.4" y="458.9" font-size="21.28" letter-spacing="0.79">style</text>
<rect x="2827.9" y="341.2" width="106.5" height="140.2" rx="3.8" fill="#af7d85"/>
<text x="2881.2" y="362.1" font-size="13.84" letter-spacing="0.55">config-provider</text>
<rect x="2831.6" y="379" width="3.4" height="13.1" rx="1.7" fill="#a36a73"/>
<rect x="2839" y="379" width="7.8" height="13.1" rx="3.8" fill="#a36a73"/>
<text style="stroke-width:0.07px" x="2842.9" y="385.6" font-size="1.95" letter-spacing="0.09">dex.mjs</text>
<rect x="2850.8" y="379" width="9.3" height="13.1" rx="3.8" fill="#a36a73"/>
<text style="stroke-width:0.07px" x="2855.4" y="385.6" font-size="2.21" letter-spacing="0.09">&amp;lang.ts</text>
<rect x="2863.9" y="379" width="19.2" height="13.1" rx="3.8" fill="#a36a73"/>
<text style="stroke-width:0.07px" x="2873.5" y="385.6" font-size="1.98" letter-spacing="0.08">DisabledContext.js</text>
<rect x="2886.8" y="379" width="43.7" height="13.1" rx="3.8" fill="#a36a73"/>
<text x="2908.7" y="385.6" font-size="8.89" letter-spacing="0.34">context.js</text>
<rect x="2831.6" y="396.2" width="39.8" height="32.3" rx="3.8" fill="#a36a73"/>
<text x="2851.5" y="412.4" font-size="5.19" letter-spacing="0.21">cssVariables.js</text>
<rect x="2831.6" y="432.6" width="39.8" height="45.1" rx="3.8" fill="#a36a73"/>
<text x="2851.5" y="453.5" font-size="12.82" letter-spacing="0.62">hooks</text>
<rect x="2835.4" y="470.6" width="5.6" height="3.3" rx="1.6" fill="#955963"/>
<text class="w" style="stroke-width:0.07px" x="2838.2" y="472.2" font-size="1.8" letter-spacing="0.07">dex.ts</text>
<rect x="2844.5" y="470.6" width="23.1" height="3.3" rx="1.6" fill="#955963"/>
<text class="w" style="stroke-width:0.07px" x="2856.1" y="472.2" font-size="2.52" letter-spacing="0.10">useConfigInject.js</text>
<rect x="2875.3" y="396.2" width="55.2" height="81.5" rx="3.8" fill="#a36a73"/>
<text x="2902.9" y="436.9" font-size="13.99" letter-spacing="0.53">index.js</text>
<rect x="2532" y="485.7" width="138.9" height="123.7" rx="3.8" fill="#af7d85"/>
<text x="2601.4" y="506.6" font-size="21.28" letter-spacing="0.89">button</text>
<rect x="2535.9" y="527.7" width="17.1" height="13" rx="3.8" fill="#a36a73"/>
<text style="stroke-width:0.07px" x="2544.4" y="534.2" font-size="2.28" letter-spacing="0.09">buttonTypes.js</text>
<rect x="2535.9" y="544.8" width="17.1" height="26.3" rx="3.8" fill="#a36a73"/>
<text style="stroke-width:0.07px" x="2544.4" y="558" font-size="2.2" letter-spacing="0.09">button-group.js</text>
<rect x="2535.9" y="575.4" width="17.1" height="30.2" rx="3.8" fill="#a36a73"/>
<text style="stroke-width:0.07px" x="2544.4" y="590.5" font-size="2.28" letter-spacing="0.09">LoadingIcon.js</text>
<rect x="2556.8" y="523.9" width="110.4" height="24.7" rx="3.8" fill="#a36a73"/>
<text x="2612" y="536.2" font-size="19.31" letter-spacing="0.73">button.js</text>
<rect x="2556.8" y="552.7" width="110.4" height="52.9" rx="3.8" fill="#a36a73"/>
<text x="2612" y="573.6" font-size="21.28" letter-spacing="0.79">style</text>
<rect x="2560.5" y="590.7" width="10.1" height="11.2" rx="3.8" fill="#955963"/>
<text class="w" style="stroke-width:0.07px" x="2565.6" y="596.3" font-size="2.44" letter-spacing="0.10">group.js</text>
<rect x="2573.9" y="590.7" width="89.9" height="11.2" rx="3.8" fill="#955963"/>
<text class="w" x="2618.9" y="596.3" font-size="8.76" letter-spacing="0.33">index.js</text>
<rect x="2532" y="613.7" width="138.9" height="137" rx="3.8" fill="#af7d85"/>
<text x="2601.4" y="634.6" font-size="21.28" letter-spacing="1.06">theme</text>
<rect x="2535.9" y="651.6" width="62.8" height="1.4" rx="0.7" fill="#a36a73"/>
<text style="stroke-width:0.24px" x="2567.3" y="652.3" font-size="1.09" letter-spacing="0.05">Users/vben/Developer/github/vben/vben-admin-pro/packages/@core/base/shared/src/utils/index.ts</text>
<rect x="2535.9" y="657.1" width="62.8" height="9.7" rx="3.8" fill="#a36a73"/>
<text x="2567.3" y="662" font-size="7.58" letter-spacing="0.27">internal.js</text>
<rect x="2535.9" y="670.9" width="62.8" height="76.1" rx="3.8" fill="#a36a73"/>
<text x="2567.3" y="691.8" font-size="21.28" letter-spacing="0.61">util</text>
<rect x="2539.4" y="707.8" width="19.2" height="4.7" rx="2.4" fill="#955963"/>
<text class="w" style="stroke-width:0.07px" x="2549" y="710.1" font-size="1.33" letter-spacing="0.06">genComponentStyleHook.js</text>
<rect x="2539.4" y="716.8" width="19.2" height="6.9" rx="3.5" fill="#955963"/>
<text class="w" x="2549" y="720.2" font-size="3.81" letter-spacing="0.12">statistic.js</text>
<rect x="2539.4" y="728" width="19.2" height="14.9" rx="3.8" fill="#955963"/>
<text class="w" style="stroke-width:0.07px" x="2549" y="735.5" font-size="1.97" letter-spacing="0.08">setup=true&amp;lang.ts</text>
<rect x="2562.4" y="708.8" width="32.6" height="34.1" rx="3.8" fill="#955963"/>
<text class="w" x="2578.7" y="725.8" font-size="9.17" letter-spacing="0.32">alias.js</text>
<rect x="2602.8" y="651.9" width="64.4" height="95.1" rx="3.8" fill="#a36a73"/>
<text x="2635" y="672.8" font-size="16.88" letter-spacing="0.83">themes</text>
<rect x="2606.2" y="689.7" width="19.4" height="9.4" rx="3.8" fill="#955963"/>
<text class="w" x="2615.9" y="694.4" font-size="4.41" letter-spacing="0.21">compact</text>
<rect x="2606.2" y="703.2" width="19.4" height="13" rx="3.8" fill="#955963"/>
<text class="w" x="2615.9" y="709.7" font-size="5.26" letter-spacing="0.21">seed.js</text>
<rect x="2606.2" y="720.3" width="19.4" height="22.6" rx="3.8" fill="#955963"/>
<text class="w" x="2615.9" y="731.6" font-size="8.57" letter-spacing="0.38">dark</text>
<rect x="2629.3" y="689.7" width="5.6" height="53.2" rx="2.8" fill="#955963"/>
<text class="w" style="stroke-width:0.07px" x="2632.1" y="716.3" font-size="1.77" letter-spacing="0.07">ang.ts</text>
<rect x="2638.6" y="689.7" width="25.2" height="53.2" rx="3.8" fill="#955963"/>
<text class="w" x="2651.2" y="710.6" font-size="7.08" letter-spacing="0.32">shared</text>
<rect x="2642" y="728" width="5" height="3" rx="1.5" fill="#834e56"/>
<text class="w" style="stroke-width:0.07px" x="2644.5" y="729.5" font-size="1.58" letter-spacing="0.06">ang.ts</text>
<rect x="2642" y="735" width="5" height="4" rx="2" fill="#834e56"/>
<text class="w" style="stroke-width:0.07px" x="2644.5" y="737" font-size="1.49" letter-spacing="0.06">ex.mjs</text>
<rect x="2650" y="728" width="5" height="11" rx="2.5" fill="#834e56"/>
<text class="w" style="stroke-width:0.07px" x="2652.5" y="733.5" font-size="1.58" letter-spacing="0.06">ang.ts</text>
<rect x="2657" y="728" width="4" height="11" rx="2" fill="#834e56"/>
<rect x="2675" y="485.7" width="79.8" height="265" rx="3.8" fill="#af7d85"/>
<text x="2714.9" y="506.6" font-size="21.28" letter-spacing="1.04">modal</text>
<rect x="2682.7" y="523.9" width="1.8" height="41.6" rx="0.9" fill="#a36a73"/>
<rect x="2688.6" y="523.9" width="62.5" height="41.6" rx="3.8" fill="#a36a73"/>
<text x="2719.8" y="544.7" font-size="7.32" letter-spacing="0.30">ConfirmDialog.js</text>
<rect x="2678.9" y="569.8" width="32.5" height="81.5" rx="3.8" fill="#a36a73"/>
<text x="2695.2" y="590.7" font-size="6.44" letter-spacing="0.31">useModal</text>
<rect x="2682.6" y="608" width="25" height="12.7" rx="3.8" fill="#955963"/>
<text class="w" x="2695.1" y="614.4" font-size="3.55" letter-spacing="0.16">HookModal.js</text>
<rect x="2682.6" y="624.8" width="25" height="22.8" rx="3.8" fill="#955963"/>
<text class="w" x="2695.1" y="636.2" font-size="6.34" letter-spacing="0.24">index.js</text>
<rect x="2715.1" y="569.8" width="36" height="81.5" rx="3.8" fill="#a36a73"/>
<text x="2733.1" y="610.5" font-size="8.31" letter-spacing="0.35">Modal.js</text>
<rect x="2678.9" y="655.6" width="72.2" height="91.4" rx="3.8" fill="#a36a73"/>
<text x="2715" y="701.3" font-size="10.84" letter-spacing="0.40">style/index.js</text>
<rect x="2758.9" y="485.7" width="175.5" height="265" rx="3.8" fill="#af7d85"/>
<text x="2846.7" y="506.6" font-size="21.28" letter-spacing="0.70">_util</text>
<rect x="2772.5" y="523.9" width="1.9" height="9" rx="1" fill="#a36a73"/>
<rect x="2778.2" y="523.9" width="6.1" height="9" rx="3.1" fill="#a36a73"/>
<text style="stroke-width:0.07px" x="2781.2" y="528.4" font-size="1.92" letter-spacing="0.08">ang.ts</text>
<rect x="2787.8" y="523.9" width="15.1" height="9" rx="3.8" fill="#a36a73"/>
<text style="stroke-width:0.07px" x="2795.4" y="528.4" font-size="1.93" letter-spacing="0.08">styleChecker.js</text>
<rect x="2807" y="523.9" width="14.9" height="9" rx="3.8" fill="#a36a73"/>
<text x="2814.4" y="528.4" font-size="3.31" letter-spacing="0.12">isValid.js</text>
<rect x="2826" y="523.9" width="24.3" height="9" rx="3.8" fill="#a36a73"/>
<text x="2838.2" y="528.4" font-size="3.24" letter-spacing="0.14">classNames.js</text>
<rect x="2854.6" y="523.9" width="33.9" height="9" rx="3.8" fill="#a36a73"/>
<text x="2871.6" y="528.4" font-size="7.04" letter-spacing="0.21">util.js</text>
<rect x="2892.8" y="523.9" width="37.7" height="9" rx="3.8" fill="#a36a73"/>
<text x="2911.7" y="528.4" font-size="7.04" letter-spacing="0.23">raf.js</text>
<rect x="2762.6" y="537" width="9.5" height="42" rx="3.8" fill="#a36a73"/>
<text style="stroke-width:0.24px" x="2767.3" y="558" font-size="1.13" letter-spacing="0.05">createContext.js</text>
<rect x="2776.2" y="537" width="11.6" height="42" rx="3.8" fill="#a36a73"/>
<text x="2782" y="558" font-size="3.45" letter-spacing="0.13">type.js</text>
<rect x="2791.5" y="537" width="13.3" height="42" rx="3.8" fill="#a36a73"/>
<text x="2798.2" y="558" font-size="4.28" letter-spacing="0.21">hooks</text>
<rect x="2808.9" y="537" width="18.6" height="42" rx="3.8" fill="#a36a73"/>
<text x="2818.2" y="558" font-size="4.43" letter-spacing="0.16">Portal.js</text>
<rect x="2831.6" y="537" width="24.3" height="42" rx="3.8" fill="#a36a73"/>
<text x="2843.8" y="558" font-size="4.13" letter-spacing="0.14">transition.js</text>
<rect x="2860.2" y="537" width="30.2" height="42" rx="3.8" fill="#a36a73"/>
<text x="2875.3" y="558" font-size="6.31" letter-spacing="0.23">props-util</text>
<rect x="2894.3" y="537" width="36.2" height="42" rx="3.8" fill="#a36a73"/>
<text x="2912.4" y="558" font-size="6.44" letter-spacing="0.23">pickAttrs.js</text>
<rect x="2762.6" y="582.9" width="76.1" height="20.9" rx="3.8" fill="#a36a73"/>
<text x="2800.6" y="593.3" font-size="9.81" letter-spacing="0.39">ActionButton.js</text>
<rect x="2762.6" y="608" width="76.1" height="29.9" rx="3.8" fill="#a36a73"/>
<text x="2800.6" y="623" font-size="8.87" letter-spacing="0.37">PortalWrapper.js</text>
<rect x="2762.6" y="642.2" width="76.1" height="43.3" rx="3.8" fill="#a36a73"/>
<text x="2800.6" y="663.9" font-size="12.79" letter-spacing="0.59">KeyCode.js</text>
<rect x="2762.6" y="689.7" width="76.1" height="57.3" rx="3.8" fill="#a36a73"/>
<text x="2800.6" y="710.6" font-size="21.28" letter-spacing="1.12">wave</text>
<rect x="2766.4" y="727.7" width="5.6" height="1.5" rx="0.8" fill="#955963"/>
<rect x="2775.2" y="727.7" width="22.5" height="1.5" rx="0.8" fill="#955963"/>
<text class="w" style="stroke-width:0.24px" x="2786.4" y="728.5" font-size="0.59" letter-spacing="0.03">components/preferences-button.vue?vue&amp;type=script&amp;setup=true&amp;lang.ts</text>
<rect x="2766.4" y="733.9" width="6.1" height="9" rx="3" fill="#955963"/>
<text class="w" style="stroke-width:0.07px" x="2769.4" y="738.4" font-size="1.81" letter-spacing="0.08">ex.mjs</text>
<rect x="2776.2" y="733.9" width="21.5" height="9" rx="3.8" fill="#955963"/>
<text class="w" x="2786.9" y="738.4" font-size="5.45" letter-spacing="0.21">index.js</text>
<rect x="2801" y="728.3" width="34" height="14.6" rx="3.8" fill="#955963"/>
<text class="w" x="2818" y="735.6" font-size="4.82" letter-spacing="0.20">WaveEffect.js</text>
<rect x="2843" y="582.9" width="87.5" height="164.1" rx="3.8" fill="#a36a73"/>
<text x="2886.8" y="603.8" font-size="21.28" letter-spacing="0.82">cssinjs</text>
<rect x="2849.9" y="621.1" width="4.1" height="30.2" rx="2" fill="#955963"/>
<rect x="2857.9" y="621.1" width="15.3" height="30.2" rx="3.8" fill="#955963"/>
<text class="w" x="2865.6" y="636.2" font-size="5.77" letter-spacing="0.17">util.js</text>
<rect x="2877.1" y="621.1" width="49.6" height="30.2" rx="3.8" fill="#955963"/>
<text class="w" x="2901.9" y="636.2" font-size="15.34" letter-spacing="0.77">theme</text>
<rect x="2846.6" y="655.6" width="17.3" height="87.3" rx="3.8" fill="#955963"/>
<text class="w" style="stroke-width:0.07px" x="2855.2" y="699.2" font-size="2.23" letter-spacing="0.09">StyleContext.js</text>
<rect x="2868" y="655.6" width="58.7" height="87.3" rx="3.8" fill="#955963"/>
<text class="w" x="2897.3" y="676.5" font-size="18.91" letter-spacing="0.91">hooks</text>
<rect x="2871.4" y="693.3" width="13.6" height="9.9" rx="3.8" fill="#834e56"/>
<text class="w" style="stroke-width:0.07px" x="2878.2" y="698.2" font-size="2.39" letter-spacing="0.12">useHMR.js</text>
<rect x="2871.4" y="706.9" width="13.6" height="32.3" rx="3.8" fill="#834e56"/>
<text class="w" style="stroke-width:0.07px" x="2878.2" y="723" font-size="1.39" letter-spacing="0.06">useGlobalCache.js</text>
<rect x="2888.7" y="693.3" width="34.3" height="45.9" rx="3.8" fill="#834e56"/>
<text class="w" x="2905.8" y="714.2" font-size="3.9" letter-spacing="0.17">useStyleRegister</text>
<rect x="2896" y="731.5" width="22" height="4.5" rx="2.2" fill="#70434a"/>
<text class="w" x="2907" y="733.8" font-size="3.52" letter-spacing="0.13">index.js</text>
<rect x="1052.4" y="770.2" width="1897.2" height="891.3" rx="3.8" fill="#decbcc"/>
<text x="2001" y="791.1" font-size="21.28" letter-spacing="0.91">js/use-echarts-C6_7sqhy.mjs</text>
<rect x="1056.2" y="807.8" width="1889.6" height="849.9" rx="3.8" fill="#d2b7b9"/>
<text x="2001" y="828.7" font-size="21.28" letter-spacing="0.92">Users/vben/Developer/github/vben/vben-admin-pro</text>
<rect x="1064" y="846.2" width="1878" height="807.7" rx="3.8" fill="#c6a4a6"/>
<text x="2003" y="867.1" font-size="21.28" letter-spacing="1.02">node_modules/.pnpm</text>
<rect x="1067.8" y="886" width="520" height="764.2" rx="3.8" fill="#ba9093"/>
<text x="1327.8" y="906.9" font-size="21.28" letter-spacing="0.93">zrender@5.6.0/node_modules/zrender/lib</text>
<rect x="1075.6" y="924" width="3.2" height="55.4" rx="1.6" fill="#af7d80"/>
<rect x="1083" y="924" width="30.2" height="55.4" rx="3.8" fill="#af7d80"/>
<text style="stroke-width:0.07px" x="1098.1" y="951.7" font-size="3.16" letter-spacing="0.13">mixin/Draggable.js</text>
<rect x="1117.2" y="924" width="66.8" height="55.4" rx="3.8" fill="#af7d80"/>
<text x="1150.6" y="951.7" font-size="12.75" letter-spacing="0.52">Storage.js</text>
<rect x="1188" y="924" width="108.3" height="55.4" rx="3.8" fill="#af7d80"/>
<text x="1242.2" y="951.7" font-size="21.28" letter-spacing="0.83">zrender.js</text>
<rect x="1300.5" y="924" width="138.8" height="55.4" rx="3.8" fill="#af7d80"/>
<text x="1369.9" y="951.7" font-size="12.96" letter-spacing="0.57">dom/HandlerProxy.js</text>
<rect x="1443.1" y="924" width="140.9" height="55.4" rx="3.8" fill="#af7d80"/>
<text x="1513.5" y="951.7" font-size="21.28" letter-spacing="0.85">Handler.js</text>
<rect x="1071.6" y="983.6" width="64.6" height="209.3" rx="3.8" fill="#af7d80"/>
<text x="1103.9" y="1004.5" font-size="17.22" letter-spacing="0.71">contain</text>
<rect x="1075.6" y="1021.2" width="1.4" height="9.9" rx="0.7" fill="#a36a6e"/>
<rect x="1080.9" y="1021.2" width="11.4" height="9.9" rx="3.8" fill="#a36a6e"/>
<text style="stroke-width:0.07px" x="1086.6" y="1026.2" font-size="1.56" letter-spacing="0.06">windingLine.js</text>
<rect x="1096.3" y="1021.2" width="15" height="9.9" rx="3.8" fill="#a36a6e"/>
<text style="stroke-width:0.07px" x="1103.8" y="1026.2" font-size="2.52" letter-spacing="0.10">quadratic.js</text>
<rect x="1115.3" y="1021.2" width="17.1" height="9.9" rx="3.8" fill="#a36a6e"/>
<text x="1123.8" y="1026.2" font-size="3.26" letter-spacing="0.13">polygon.js</text>
<rect x="1075.6" y="1034.7" width="11" height="16.9" rx="3.8" fill="#a36a6e"/>
<text style="stroke-width:0.07px" x="1081.1" y="1043.2" font-size="2.84" letter-spacing="0.11">cubic.js</text>
<rect x="1090.8" y="1034.7" width="15" height="16.9" rx="3.8" fill="#a36a6e"/>
<text x="1098.3" y="1043.2" font-size="5.04" letter-spacing="0.17">line.js</text>
<rect x="1109.8" y="1034.7" width="22.6" height="16.9" rx="3.8" fill="#a36a6e"/>
<text x="1121.1" y="1043.2" font-size="8.13" letter-spacing="0.29">arc.js</text>
<rect x="1075.6" y="1055.8" width="56.8" height="43.5" rx="3.8" fill="#a36a6e"/>
<text x="1104" y="1077.5" font-size="18.69" letter-spacing="0.63">text.js</text>
<rect x="1075.6" y="1103.6" width="56.8" height="85.5" rx="3.8" fill="#a36a6e"/>
<text x="1104" y="1146.3" font-size="16.57" letter-spacing="0.63">path.js</text>
<rect x="1140.2" y="983.6" width="112.4" height="209.3" rx="3.8" fill="#af7d80"/>
<text x="1196.4" y="1088.2" font-size="20.7" letter-spacing="0.87">Element.js</text>
<rect x="1256.6" y="983.6" width="134.9" height="209.3" rx="3.8" fill="#af7d80"/>
<text x="1324" y="1004.5" font-size="21.28" letter-spacing="0.92">animation</text>
<rect x="1260.4" y="1021.2" width="2.1" height="28.5" rx="1" fill="#a36a6e"/>
<rect x="1266.1" y="1021.2" width="9.1" height="28.5" rx="3.8" fill="#a36a6e"/>
<text style="stroke-width:0.07px" x="1270.7" y="1035.5" font-size="1.22" letter-spacing="0.05">cubicEasing.js</text>
<rect x="1279.4" y="1021.2" width="32.1" height="28.5" rx="3.8" fill="#a36a6e"/>
<text x="1295.5" y="1035.5" font-size="10.13" letter-spacing="0.35">Clip.js</text>
<rect x="1315.7" y="1021.2" width="72" height="28.5" rx="3.8" fill="#a36a6e"/>
<text x="1351.7" y="1035.5" font-size="11.36" letter-spacing="0.46">Animation.js</text>
<rect x="1260.4" y="1053.9" width="16.9" height="135.2" rx="3.8" fill="#a36a6e"/>
<text x="1268.8" y="1121.5" font-size="3.68" letter-spacing="0.15">easing.js</text>
<rect x="1281.1" y="1053.9" width="106.6" height="135.2" rx="3.8" fill="#a36a6e"/>
<text x="1334.4" y="1121.5" font-size="18.53" letter-spacing="0.75">Animator.js</text>
<rect x="1395.6" y="983.6" width="188.4" height="209.3" rx="3.8" fill="#af7d80"/>
<text x="1489.8" y="1004.5" font-size="21.28" letter-spacing="1.01">canvas</text>
<rect x="1399.4" y="1021.2" width="47.3" height="5.7" rx="2.9" fill="#a36a6e"/>
<text x="1423.1" y="1024.1" font-size="4.46" letter-spacing="0.18">dashStyle.js</text>
<rect x="1399.4" y="1031.1" width="47.3" height="28.1" rx="3.8" fill="#a36a6e"/>
<text x="1423.1" y="1045.2" font-size="10.92" letter-spacing="0.41">helper.js</text>
<rect x="1399.4" y="1063.4" width="47.3" height="125.7" rx="3.8" fill="#a36a6e"/>
<text x="1423.1" y="1126.2" font-size="11.8" letter-spacing="0.46">Layer.js</text>
<rect x="1450.9" y="1021.2" width="62.9" height="167.9" rx="3.8" fill="#a36a6e"/>
<text x="1482.3" y="1105.2" font-size="12.63" letter-spacing="0.49">graphic.js</text>
<rect x="1517.6" y="1021.2" width="62.7" height="167.9" rx="3.8" fill="#a36a6e"/>
<text x="1548.9" y="1105.2" font-size="13.1" letter-spacing="0.49">Painter.js</text>
<rect x="1071.6" y="1197.1" width="301.1" height="171.1" rx="3.8" fill="#af7d80"/>
<text x="1222.2" y="1218" font-size="21.28" letter-spacing="0.77">tool</text>
<rect x="1075.6" y="1235.2" width="79.6" height="9.5" rx="3.8" fill="#a36a6e"/>
<text x="1115.4" y="1240" font-size="7.43" letter-spacing="0.30">transformPath.js</text>
<rect x="1075.6" y="1248.9" width="79.6" height="42.9" rx="3.8" fill="#a36a6e"/>
<text x="1115.4" y="1270.3" font-size="10.8" letter-spacing="0.44">convertPath.js</text>
<rect x="1075.6" y="1296" width="79.6" height="68.4" rx="3.8" fill="#a36a6e"/>
<text x="1115.4" y="1330.2" font-size="12.07" letter-spacing="0.47">dividePath.js</text>
<rect x="1159.2" y="1235.2" width="121.9" height="52.8" rx="3.8" fill="#a36a6e"/>
<text x="1220.2" y="1261.6" font-size="21.28" letter-spacing="0.81">path.js</text>
<rect x="1159.2" y="1292.2" width="121.9" height="72.2" rx="3.8" fill="#a36a6e"/>
<text x="1220.2" y="1328.3" font-size="21.28" letter-spacing="0.75">color.js</text>
<rect x="1285.1" y="1235.2" width="83.9" height="129.2" rx="3.8" fill="#a36a6e"/>
<text x="1327" y="1299.8" font-size="12.24" letter-spacing="0.54">morphPath.js</text>
<rect x="1376.8" y="1197.1" width="207.2" height="449.5" rx="3.8" fill="#af7d80"/>
<text x="1480.4" y="1218" font-size="21.28" letter-spacing="0.93">core</text>
<rect x="1380.6" y="1235.2" width="15" height="39.7" rx="3.8" fill="#a36a6e"/>
<text style="stroke-width:0.07px" x="1388.1" y="1255.1" font-size="2.35" letter-spacing="0.12">WeakMap.js</text>
<rect x="1399.6" y="1235.2" width="32.3" height="39.7" rx="3.8" fill="#a36a6e"/>
<text x="1415.8" y="1255.1" font-size="7.46" letter-spacing="0.28">matrix.js</text>
<rect x="1435.7" y="1235.2" width="32.3" height="39.7" rx="3.8" fill="#a36a6e"/>
<text style="stroke-width:0.07px" x="1451.8" y="1255.1" font-size="2.5" letter-spacing="0.11">OrientedBoundingRect.js</text>
<rect x="1472" y="1235.2" width="32.3" height="39.7" rx="3.8" fill="#a36a6e"/>
<text x="1488.2" y="1255.1" font-size="7.57" letter-spacing="0.28">vector.js</text>
<rect x="1508.1" y="1235.2" width="34.2" height="39.7" rx="3.8" fill="#a36a6e"/>
<text x="1525.2" y="1255.1" font-size="6.37" letter-spacing="0.24">platform.js</text>
<rect x="1546.1" y="1235.2" width="34.2" height="39.7" rx="3.8" fill="#a36a6e"/>
<text x="1563.2" y="1255.1" font-size="4.72" letter-spacing="0.20">GestureMgr.js</text>
<rect x="1380.6" y="1279.1" width="24.5" height="60.6" rx="3.8" fill="#a36a6e"/>
<text x="1392.8" y="1309.4" font-size="8.3" letter-spacing="0.32">env.js</text>
<rect x="1409.1" y="1279.1" width="26.6" height="60.6" rx="3.8" fill="#a36a6e"/>
<text x="1422.4" y="1309.4" font-size="7.62" letter-spacing="0.34">LRU.js</text>
<rect x="1439.5" y="1279.1" width="28.5" height="60.6" rx="3.8" fill="#a36a6e"/>
<text x="1453.8" y="1309.4" font-size="7.11" letter-spacing="0.28">event.js</text>
<rect x="1472" y="1279.1" width="28.5" height="60.6" rx="3.8" fill="#a36a6e"/>
<text x="1486.2" y="1309.4" font-size="8.32" letter-spacing="0.37">dom.js</text>
<rect x="1504.3" y="1279.1" width="36.1" height="60.6" rx="3.8" fill="#a36a6e"/>
<text x="1522.3" y="1309.4" font-size="9.46" letter-spacing="0.35">Point.js</text>
<rect x="1544.2" y="1279.1" width="36.1" height="60.6" rx="3.8" fill="#a36a6e"/>
<text x="1562.2" y="1309.4" font-size="9.79" letter-spacing="0.40">bbox.js</text>
<rect x="1380.6" y="1343.9" width="32.3" height="79.5" rx="3.8" fill="#a36a6e"/>
<text style="stroke-width:0.07px" x="1396.8" y="1383.7" font-size="2.5" letter-spacing="0.11">OrientedBoundingRect.js</text>
<rect x="1416.7" y="1343.9" width="39.9" height="79.5" rx="3.8" fill="#a36a6e"/>
<text x="1436.7" y="1383.7" font-size="7.43" letter-spacing="0.28">Eventful.js</text>
<rect x="1460.6" y="1343.9" width="53.2" height="79.5" rx="3.8" fill="#a36a6e"/>
<text x="1487.2" y="1383.7" font-size="6.28" letter-spacing="0.27">BoundingRect.js</text>
<rect x="1517.6" y="1343.9" width="62.7" height="79.5" rx="3.8" fill="#a36a6e"/>
<text x="1548.9" y="1383.7" font-size="7.27" letter-spacing="0.30">Transformable.js</text>
<rect x="1380.6" y="1427.6" width="45.2" height="130.9" rx="3.8" fill="#a36a6e"/>
<text x="1403.2" y="1493" font-size="11.28" letter-spacing="0.44">curve.js</text>
<rect x="1429.8" y="1427.6" width="68.6" height="130.9" rx="3.8" fill="#a36a6e"/>
<text x="1464.1" y="1493" font-size="21.28" letter-spacing="0.62">util.js</text>
<rect x="1502.2" y="1427.6" width="78.1" height="130.9" rx="3.8" fill="#a36a6e"/>
<text x="1541.2" y="1493" font-size="16.78" letter-spacing="0.60">timsort.js</text>
<rect x="1380.6" y="1562.7" width="199.7" height="79.9" rx="3.8" fill="#a36a6e"/>
<text x="1480.4" y="1602.7" font-size="21.28" letter-spacing="0.88">PathProxy.js</text>
<rect x="1071.6" y="1372.2" width="301.1" height="274.4" rx="3.8" fill="#af7d80"/>
<text x="1222.2" y="1393.1" font-size="21.28" letter-spacing="0.90">graphic</text>
<rect x="1075.6" y="1414.5" width="15" height="4.5" rx="2.2" fill="#a36a6e"/>
<text style="stroke-width:0.07px" x="1083.1" y="1416.8" font-size="2.67" letter-spacing="0.11">Gradient.js</text>
<rect x="1075.6" y="1424" width="15" height="12" rx="3.8" fill="#a36a6e"/>
<text style="stroke-width:0.07px" x="1083.1" y="1430" font-size="1.69" letter-spacing="0.07">LinearGradient.js</text>
<rect x="1075.6" y="1440.9" width="15" height="15.1" rx="3.8" fill="#a36a6e"/>
<text style="stroke-width:0.07px" x="1083.1" y="1448.5" font-size="1.62" letter-spacing="0.08">CompoundPath.js</text>
<rect x="1075.6" y="1460.3" width="15" height="52.7" rx="3.8" fill="#a36a6e"/>
<text style="stroke-width:0.07px" x="1083.1" y="1486.7" font-size="2.44" letter-spacing="0.10">constants.js</text>
<rect x="1075.6" y="1517.3" width="15" height="54.9" rx="3.8" fill="#a36a6e"/>
<text x="1083.1" y="1544.8" font-size="3.27" letter-spacing="0.15">TSpan.js</text>
<rect x="1075.6" y="1576.5" width="15" height="66.1" rx="3.8" fill="#a36a6e"/>
<text x="1083.1" y="1609.5" font-size="3.41" letter-spacing="0.15">Image.js</text>
<rect x="1094.6" y="1410.7" width="87.2" height="25.7" rx="3.8" fill="#a36a6e"/>
<text x="1138.2" y="1423.6" font-size="6.58" letter-spacing="0.27">IncrementalDisplayable.js</text>
<rect x="1094.6" y="1440.9" width="87.2" height="30" rx="3.8" fill="#a36a6e"/>
<text x="1138.2" y="1455.9" font-size="19.83" letter-spacing="0.84">Group.js</text>
<rect x="1094.6" y="1475.1" width="87.2" height="79.9" rx="3.8" fill="#a36a6e"/>
<text x="1138.2" y="1515" font-size="12.15" letter-spacing="0.48">Displayable.js</text>
<rect x="1094.6" y="1559.1" width="87.2" height="83.5" rx="3.8" fill="#a36a6e"/>
<text x="1138.2" y="1580" font-size="21.28" letter-spacing="1.04">shape</text>
<rect x="1098.2" y="1596.5" width="17.5" height="6.3" rx="3.1" fill="#95595d"/>
<text class="w" x="1107" y="1599.7" font-size="3.26" letter-spacing="0.14">Polygon.js</text>
<rect x="1098.2" y="1607" width="17.5" height="6.4" rx="3.2" fill="#95595d"/>
<text class="w" x="1107" y="1610.2" font-size="4.23" letter-spacing="0.15">Circle.js</text>
<rect x="1098.2" y="1617.6" width="17.5" height="8.9" rx="3.8" fill="#95595d"/>
<text class="w" x="1107" y="1622" font-size="4.92" letter-spacing="0.19">Ring.js</text>
<rect x="1098.2" y="1630.3" width="17.5" height="7.4" rx="3.7" fill="#95595d"/>
<text class="w" x="1107" y="1634" font-size="3.34" letter-spacing="0.12">Polyline.js</text>
<rect x="1119.3" y="1597.6" width="17.1" height="7.8" rx="3.8" fill="#95595d"/>
<text class="w" x="1127.8" y="1601.5" font-size="3.83" letter-spacing="0.15">Sector.js</text>
<rect x="1119.3" y="1611.3" width="17.1" height="9.5" rx="3.8" fill="#95595d"/>
<text class="w" x="1127.8" y="1616" font-size="3.73" letter-spacing="0.13">Ellipse.js</text>
<rect x="1119.3" y="1626" width="17.1" height="11.7" rx="3.8" fill="#95595d"/>
<text class="w" x="1127.8" y="1631.8" font-size="5.88" letter-spacing="0.22">Arc.js</text>
<rect x="1140.2" y="1597.6" width="15" height="17.9" rx="3.8" fill="#95595d"/>
<text class="w" x="1147.7" y="1606.5" font-size="4.22" letter-spacing="0.17">Rect.js</text>
<rect x="1159.2" y="1597.6" width="18.8" height="17.9" rx="3.8" fill="#95595d"/>
<text class="w" x="1168.6" y="1606.5" font-size="5.59" letter-spacing="0.21">Line.js</text>
<rect x="1140.2" y="1620.2" width="37.8" height="17.5" rx="3.8" fill="#95595d"/>
<text class="w" x="1159.1" y="1629" font-size="5" letter-spacing="0.21">BezierCurve.js</text>
<rect x="1185.9" y="1410.7" width="74.1" height="111.9" rx="3.8" fill="#a36a6e"/>
<text x="1223" y="1466.7" font-size="20.84" letter-spacing="0.82">Path.js</text>
<rect x="1264" y="1410.7" width="105" height="111.9" rx="3.8" fill="#a36a6e"/>
<text x="1316.5" y="1466.7" font-size="21.28" letter-spacing="0.78">Text.js</text>
<rect x="1185.9" y="1526.8" width="183.1" height="115.8" rx="3.8" fill="#a36a6e"/>
<text x="1277.5" y="1547.7" font-size="21.28" letter-spacing="0.89">helper</text>
<rect x="1189.7" y="1564.8" width="28.5" height="7.4" rx="3.7" fill="#95595d"/>
<text class="w" x="1204" y="1568.5" font-size="5.78" letter-spacing="0.21">poly.js</text>
<rect x="1189.7" y="1576.5" width="28.5" height="16.4" rx="3.8" fill="#95595d"/>
<text class="w" x="1204" y="1584.7" font-size="3.47" letter-spacing="0.15">smoothBezier.js</text>
<rect x="1189.7" y="1597.2" width="28.5" height="18.3" rx="3.8" fill="#95595d"/>
<text class="w" x="1204" y="1606.3" font-size="6.58" letter-spacing="0.28">image.js</text>
<rect x="1189.7" y="1620.2" width="28.5" height="18.6" rx="3.8" fill="#95595d"/>
<text class="w" x="1204" y="1629.5" font-size="4.36" letter-spacing="0.18">roundRect.js</text>
<rect x="1222" y="1564.8" width="53.2" height="11" rx="3.8" fill="#95595d"/>
<text class="w" x="1248.6" y="1570.3" font-size="5.24" letter-spacing="0.22">subPixelOptimize.js</text>
<rect x="1222" y="1580" width="53.2" height="58.8" rx="3.8" fill="#95595d"/>
<text class="w" x="1248.6" y="1609.4" font-size="7.15" letter-spacing="0.29">roundSector.js</text>
<rect x="1279" y="1564.8" width="85.9" height="74" rx="3.8" fill="#95595d"/>
<text class="w" x="1322" y="1601.8" font-size="13.84" letter-spacing="0.55">parseText.js</text>
<rect x="1592.2" y="884.3" width="1345.8" height="765.9" rx="3.8" fill="#ba9093"/>
<text x="2265.1" y="905.2" font-size="21.28" letter-spacing="0.95">echarts@5.5.1/node_modules/echarts</text>
<rect x="1598" y="922.3" width="1336.2" height="724.3" rx="3.8" fill="#af7d80"/>
<text x="2266.1" y="943.2" font-size="21.28" letter-spacing="0.64">lib</text>
<rect x="1601.8" y="962.4" width="29.9" height="34.2" rx="3.8" fill="#a36a6e"/>
<text x="1616.8" y="979.5" font-size="4.87" letter-spacing="0.19">extension.js</text>
<rect x="1601.8" y="1000.9" width="29.9" height="54.4" rx="3.8" fill="#a36a6e"/>
<text x="1616.8" y="1021.8" font-size="9.25" letter-spacing="0.39">export</text>
<rect x="1605.4" y="1038.4" width="5.9" height="12.7" rx="2.9" fill="#95595d"/>
<text class="w" style="stroke-width:0.07px" x="1608.3" y="1044.8" font-size="1.9" letter-spacing="0.08">dex.ts</text>
<rect x="1614.8" y="1038.4" width="13.3" height="12.7" rx="3.8" fill="#95595d"/>
<text class="w" x="1621.4" y="1044.8" font-size="8.57" letter-spacing="0.34">api</text>
<rect x="1601.8" y="1060" width="29.9" height="54.7" rx="3.8" fill="#a36a6e"/>
<text x="1616.8" y="1087.3" font-size="3.42" letter-spacing="0.13">loading/default.js</text>
<rect x="1601.8" y="1119" width="29.9" height="60.6" rx="3.8" fill="#a36a6e"/>
<text x="1616.8" y="1139.9" font-size="8.89" letter-spacing="0.39">legacy</text>
<rect x="1605.6" y="1160.8" width="22.5" height="15" rx="3.8" fill="#95595d"/>
<text class="w" style="stroke-width:0.07px" x="1616.8" y="1168.3" font-size="2.27" letter-spacing="0.09">dataSelectAction.js</text>
<rect x="1601.8" y="1183.8" width="29.9" height="113.7" rx="3.8" fill="#a36a6e"/>
<text x="1616.8" y="1204.7" font-size="12.85" letter-spacing="0.58">view</text>
<rect x="1605.6" y="1221.9" width="22.5" height="14.7" rx="3.8" fill="#95595d"/>
<text class="w" style="stroke-width:0.07px" x="1616.8" y="1229.2" font-size="3.13" letter-spacing="0.15">Component.js</text>
<rect x="1605.6" y="1240.9" width="22.5" height="52.8" rx="3.8" fill="#95595d"/>
<text class="w" x="1616.8" y="1267.3" font-size="5.61" letter-spacing="0.22">Chart.js</text>
<rect x="1601.8" y="1301.7" width="29.9" height="144.9" rx="3.8" fill="#a36a6e"/>
<text x="1616.8" y="1322.6" font-size="9.25" letter-spacing="0.46">theme</text>
<rect x="1605.6" y="1339.7" width="22.5" height="26.8" rx="3.8" fill="#95595d"/>
<text class="w" x="1616.8" y="1353.1" font-size="6.82" letter-spacing="0.22">light.js</text>
<rect x="1605.6" y="1370.5" width="22.5" height="72.3" rx="3.8" fill="#95595d"/>
<text class="w" x="1616.8" y="1406.7" font-size="6.57" letter-spacing="0.25">dark.js</text>
<rect x="1601.8" y="1450.8" width="29.9" height="191.8" rx="3.8" fill="#a36a6e"/>
<text x="1616.8" y="1471.7" font-size="13.59" letter-spacing="0.58">i18n</text>
<rect x="1605.6" y="1488.8" width="22.5" height="71.8" rx="3.8" fill="#95595d"/>
<text class="w" x="1616.8" y="1524.7" font-size="4.52" letter-spacing="0.19">langEN.js</text>
<rect x="1605.6" y="1564.8" width="22.5" height="74" rx="3.8" fill="#95595d"/>
<text class="w" x="1616.8" y="1601.8" font-size="4.58" letter-spacing="0.19">langZH.js</text>
<rect x="1636" y="960.9" width="125.6" height="54.7" rx="3.8" fill="#a36a6e"/>
<text x="1698.8" y="981.8" font-size="21.28" letter-spacing="0.93">processor</text>
<rect x="1639.8" y="998.7" width="2" height="12.9" rx="1" fill="#95595d"/>
<rect x="1645.5" y="998.7" width="24.7" height="12.9" rx="3.8" fill="#95595d"/>
<text class="w" x="1657.8" y="1005.2" font-size="4.15" letter-spacing="0.15">dataFilter.js</text>
<rect x="1674" y="998.7" width="34.2" height="12.9" rx="3.8" fill="#95595d"/>
<text class="w" x="1691.1" y="1005.2" font-size="4.64" letter-spacing="0.20">dataSample.js</text>
<rect x="1712" y="998.7" width="45.8" height="12.9" rx="3.8" fill="#95595d"/>
<text class="w" x="1734.9" y="1005.2" font-size="7.23" letter-spacing="0.30">dataStack.js</text>
<rect x="1636" y="1019.9" width="125.6" height="71.8" rx="3.8" fill="#a36a6e"/>
<text x="1698.8" y="1040.8" font-size="18.5" letter-spacing="0.81">preprocessor</text>
<rect x="1639.8" y="1057.9" width="45.4" height="29.8" rx="3.8" fill="#95595d"/>
<text class="w" x="1662.5" y="1072.8" font-size="4.44" letter-spacing="0.21">backwardCompat.js</text>
<rect x="1689.2" y="1057.9" width="68.6" height="29.8" rx="3.8" fill="#95595d"/>
<text class="w" x="1723.5" y="1072.8" font-size="6.17" letter-spacing="0.25">helper/compatStyle.js</text>
<rect x="1636" y="1095.9" width="125.6" height="78" rx="3.8" fill="#a36a6e"/>
<text x="1698.8" y="1116.8" font-size="21.28" letter-spacing="0.82">visual</text>
<rect x="1639.8" y="1134.2" width="7.4" height="14.8" rx="3.7" fill="#95595d"/>
<text class="w" style="stroke-width:0.07px" x="1643.5" y="1141.6" font-size="2.16" letter-spacing="0.08">lang.ts</text>
<rect x="1639.8" y="1152.8" width="7.4" height="17.3" rx="3.7" fill="#95595d"/>
<text class="w" style="stroke-width:0.07px" x="1643.5" y="1161.4" font-size="1.97" letter-spacing="0.08">ndex.ts</text>
<rect x="1651.2" y="1134.2" width="49.2" height="12.7" rx="3.8" fill="#95595d"/>
<text class="w" x="1675.8" y="1140.6" font-size="9.93" letter-spacing="0.41">symbol.js</text>
<rect x="1651.2" y="1151.3" width="49.2" height="18.8" rx="3.8" fill="#95595d"/>
<text class="w" x="1675.8" y="1160.7" font-size="3.95" letter-spacing="0.17">LegendVisualProvider.js</text>
<rect x="1704.6" y="1134.2" width="53.2" height="35.9" rx="3.8" fill="#95595d"/>
<text class="w" x="1731.2" y="1152.2" font-size="14.96" letter-spacing="0.51">style.js</text>
<rect x="1636" y="1178.1" width="125.6" height="100.8" rx="3.8" fill="#a36a6e"/>
<text x="1698.8" y="1199" font-size="21.28" letter-spacing="0.85">layout</text>
<rect x="1639.8" y="1216.2" width="9.2" height="58.7" rx="3.8" fill="#95595d"/>
<text class="w" style="stroke-width:0.07px" x="1644.4" y="1245.6" font-size="2.16" letter-spacing="0.08">points.js</text>
<rect x="1652.9" y="1216.2" width="104.9" height="58.7" rx="3.8" fill="#95595d"/>
<text class="w" x="1705.3" y="1245.6" font-size="20.8" letter-spacing="0.81">barGrid.js</text>
<rect x="1636" y="1283.1" width="125.6" height="161.4" rx="3.8" fill="#a36a6e"/>
<text x="1698.8" y="1304" font-size="21.28" letter-spacing="0.92">animation</text>
<rect x="1639.8" y="1321.1" width="49.4" height="47.1" rx="3.8" fill="#95595d"/>
<text class="w" x="1664.5" y="1344.7" font-size="3.83" letter-spacing="0.16">morphTransitionHelper.js</text>
<rect x="1693" y="1321.1" width="64.8" height="47.1" rx="3.8" fill="#95595d"/>
<text class="w" x="1725.4" y="1344.7" font-size="7.25" letter-spacing="0.28">basicTransition.js</text>
<rect x="1639.8" y="1372.2" width="118" height="68.5" rx="3.8" fill="#95595d"/>
<text class="w" x="1698.8" y="1406.5" font-size="10.84" letter-spacing="0.41">universalTransition.js</text>
<rect x="1636" y="1448.7" width="125.6" height="193.9" rx="3.8" fill="#a36a6e"/>
<text x="1698.8" y="1469.6" font-size="21.28" letter-spacing="0.89">scale</text>
<rect x="1639.8" y="1486.7" width="20.9" height="35.9" rx="3.8" fill="#95595d"/>
<text class="w" x="1650.2" y="1504.7" font-size="5.13" letter-spacing="0.20">Scale.js</text>
<rect x="1664.5" y="1486.7" width="30.6" height="35.9" rx="3.8" fill="#95595d"/>
<text class="w" x="1679.8" y="1504.7" font-size="7.06" letter-spacing="0.26">helper.js</text>
<rect x="1698.9" y="1486.7" width="58.9" height="35.9" rx="3.8" fill="#95595d"/>
<text class="w" x="1728.3" y="1504.7" font-size="18.97" letter-spacing="0.76">Log.js</text>
<rect x="1639.8" y="1526.8" width="59.1" height="45" rx="3.8" fill="#95595d"/>
<text class="w" x="1669.3" y="1549.3" font-size="12.03" letter-spacing="0.46">Ordinal.js</text>
<rect x="1639.8" y="1576" width="59.1" height="62.8" rx="3.8" fill="#95595d"/>
<text class="w" x="1669.3" y="1607.4" font-size="11.87" letter-spacing="0.42">Interval.js</text>
<rect x="1702.9" y="1526.8" width="54.9" height="112" rx="3.8" fill="#95595d"/>
<text class="w" x="1730.3" y="1582.8" font-size="14.82" letter-spacing="0.61">Time.js</text>
<rect x="1765.8" y="960.9" width="325.2" height="128.6" rx="3.8" fill="#a36a6e"/>
<text x="1928.4" y="981.8" font-size="21.28" letter-spacing="0.81">label</text>
<rect x="1769.4" y="998.7" width="32.3" height="7" rx="3.5" fill="#95595d"/>
<text class="w" style="stroke-width:0.07px" x="1785.6" y="1002.2" font-size="3.08" letter-spacing="0.12">installLabelLayout.js</text>
<rect x="1769.4" y="1009.9" width="32.3" height="75.6" rx="3.8" fill="#95595d"/>
<text class="w" x="1785.6" y="1047.7" font-size="4.5" letter-spacing="0.18">sectorLabel.js</text>
<rect x="1805.5" y="998.7" width="114.1" height="29.8" rx="3.8" fill="#95595d"/>
<text class="w" x="1862.5" y="1013.6" font-size="10.89" letter-spacing="0.44">labelLayoutHelper.js</text>
<rect x="1805.5" y="1032.7" width="114.1" height="52.8" rx="3.8" fill="#95595d"/>
<text class="w" x="1862.5" y="1059.1" font-size="18.38" letter-spacing="0.68">labelStyle.js</text>
<rect x="1923.8" y="998.7" width="75.8" height="86.8" rx="3.8" fill="#95595d"/>
<text class="w" x="1961.7" y="1042.1" font-size="8.88" letter-spacing="0.39">LabelManager.js</text>
<rect x="2003.8" y="998.7" width="83.5" height="86.8" rx="3.8" fill="#95595d"/>
<text class="w" x="2045.6" y="1042.1" font-size="8.28" letter-spacing="0.34">labelGuideHelper.js</text>
<rect x="1765.8" y="1093.8" width="325.2" height="142.8" rx="3.8" fill="#a36a6e"/>
<text x="1928.4" y="1114.7" font-size="21.28" letter-spacing="1.04">model</text>
<rect x="1769.4" y="1132.1" width="36.1" height="3.4" rx="1.7" fill="#95595d"/>
<text class="w" style="stroke-width:0.07px" x="1787.5" y="1133.8" font-size="2.44" letter-spacing="0.10">internalComponentCreator.js</text>
<rect x="1769.4" y="1139.7" width="36.1" height="42" rx="3.8" fill="#95595d"/>
<text class="w" x="1787.5" y="1160.7" font-size="5.22" letter-spacing="0.20">referHelper.js</text>
<rect x="1769.4" y="1185.5" width="36.1" height="47.1" rx="3.8" fill="#95595d"/>
<text class="w" x="1787.5" y="1209" font-size="8.33" letter-spacing="0.35">Model.js</text>
<rect x="1809.6" y="1132.1" width="76" height="24.5" rx="3.8" fill="#95595d"/>
<text class="w" x="1847.6" y="1144.3" font-size="9.55" letter-spacing="0.37">globalDefault.js</text>
<rect x="1809.6" y="1160.8" width="76" height="32.1" rx="3.8" fill="#95595d"/>
<text class="w" x="1847.6" y="1176.8" font-size="8.34" letter-spacing="0.37">OptionManager.js</text>
<rect x="1809.6" y="1197.1" width="76" height="35.5" rx="3.8" fill="#95595d"/>
<text class="w" x="1847.6" y="1214.8" font-size="10.59" letter-spacing="0.49">Component.js</text>
<rect x="1889.8" y="1132.1" width="109.8" height="41.8" rx="3.8" fill="#95595d"/>
<text class="w" x="1944.7" y="1153" font-size="21.28" letter-spacing="0.89">mixin</text>
<rect x="1889.8" y="1178.1" width="109.8" height="54.5" rx="3.8" fill="#95595d"/>
<text class="w" x="1944.7" y="1205.3" font-size="21.28" letter-spacing="0.82">Series.js</text>
<rect x="2003.8" y="1132.1" width="83.5" height="100.5" rx="3.8" fill="#95595d"/>
<text class="w" x="2045.6" y="1182.3" font-size="18.45" letter-spacing="0.72">Global.js</text>
<rect x="1765.8" y="1240.9" width="325.2" height="188.4" rx="3.8" fill="#a36a6e"/>
<text x="1928.4" y="1261.8" font-size="21.28" letter-spacing="0.93">core</text>
<rect x="1769.4" y="1281.2" width="9.5" height="3.6" rx="1.8" fill="#95595d"/>
<text class="w" style="stroke-width:0.07px" x="1774.2" y="1283" font-size="2.81" letter-spacing="0.10">impl.js</text>
<rect x="1769.4" y="1289" width="9.5" height="20" rx="3.8" fill="#95595d"/>
<text class="w" style="stroke-width:0.07px" x="1774.2" y="1299" font-size="1.96" letter-spacing="0.08">e&amp;lang.ts</text>
<rect x="1769.4" y="1313.3" width="9.5" height="47.5" rx="3.8" fill="#95595d"/>
<text class="w" style="stroke-width:0.07px" x="1774.2" y="1337" font-size="1.93" letter-spacing="0.08">index.mjs</text>
<rect x="1769.4" y="1365" width="9.5" height="60.5" rx="3.8" fill="#95595d"/>
<text class="w" style="stroke-width:0.07px" x="1774.2" y="1395.2" font-size="2.26" letter-spacing="0.08">locale.js</text>
<rect x="1782.7" y="1279.1" width="66.6" height="39.5" rx="3.8" fill="#95595d"/>
<text class="w" x="1816" y="1298.8" font-size="20.2" letter-spacing="0.74">task.js</text>
<rect x="1782.7" y="1322.8" width="66.6" height="102.7" rx="3.8" fill="#95595d"/>
<text class="w" x="1816" y="1374.2" font-size="10.51" letter-spacing="0.43">Scheduler.js</text>
<rect x="1853.1" y="1279.1" width="234.2" height="146.4" rx="3.8" fill="#95595d"/>
<text class="w" x="1970.2" y="1352.3" font-size="21.28" letter-spacing="0.82">echarts.js</text>
<rect x="1765.8" y="1433.5" width="325.2" height="209.1" rx="3.8" fill="#a36a6e"/>
<text x="1928.4" y="1454.4" font-size="21.28" letter-spacing="0.96">coord</text>
<rect x="1769.4" y="1471.5" width="45.4" height="16.7" rx="3.8" fill="#95595d"/>
<text class="w" x="1792.1" y="1479.8" font-size="4.11" letter-spacing="0.20">axisCommonTypes.js</text>
<rect x="1769.4" y="1492.4" width="45.4" height="16.9" rx="3.8" fill="#95595d"/>
<text class="w" x="1792.1" y="1500.8" font-size="4.23" letter-spacing="0.18">CoordinateSystem.js</text>
<rect x="1769.4" y="1513.5" width="45.4" height="20.7" rx="3.8" fill="#95595d"/>
<text class="w" x="1792.1" y="1523.8" font-size="3.28" letter-spacing="0.15">axisModelCommonMixin.js</text>
<rect x="1769.4" y="1538.4" width="45.4" height="26" rx="3.8" fill="#95595d"/>
<text class="w" x="1792.1" y="1551.4" font-size="4.44" letter-spacing="0.18">axisModelCreator.js</text>
<rect x="1769.4" y="1568.6" width="45.4" height="28.3" rx="3.8" fill="#95595d"/>
<text class="w" x="1792.1" y="1582.8" font-size="5.35" letter-spacing="0.21">axisAlignTicks.js</text>
<rect x="1769.4" y="1601.2" width="45.4" height="37.6" rx="3.8" fill="#95595d"/>
<text class="w" x="1792.1" y="1620" font-size="6.56" letter-spacing="0.25">axisDefault.js</text>
<rect x="1819" y="1471.5" width="70.4" height="32.1" rx="3.8" fill="#95595d"/>
<text class="w" x="1854.2" y="1487.5" font-size="6.15" letter-spacing="0.26">scaleRawExtentInfo.js</text>
<rect x="1819" y="1507.8" width="70.4" height="56.6" rx="3.8" fill="#95595d"/>
<text class="w" x="1854.2" y="1536.1" font-size="20.95" letter-spacing="0.78">Axis.js</text>
<rect x="1819" y="1568.6" width="70.4" height="70.2" rx="3.8" fill="#95595d"/>
<text class="w" x="1854.2" y="1589.5" font-size="21.28" letter-spacing="0.89">radar</text>
<rect x="1822.9" y="1606.7" width="24.7" height="28.3" rx="3.8" fill="#834e51"/>
<text class="w" x="1835.2" y="1620.8" font-size="3.29" letter-spacing="0.15">RadarModel.js</text>
<rect x="1851.4" y="1606.7" width="34.2" height="28.3" rx="3.8" fill="#834e51"/>
<text class="w" x="1868.5" y="1620.8" font-size="8.01" letter-spacing="0.33">Radar.js</text>
<rect x="1893.2" y="1471.5" width="110.6" height="49.4" rx="3.8" fill="#95595d"/>
<text class="w" x="1948.5" y="1492.4" font-size="21.28" letter-spacing="1.07">geo</text>
<rect x="1897" y="1509.5" width="28.7" height="7.8" rx="3.8" fill="#834e51"/>
<text class="w" x="1911.3" y="1513.4" font-size="3.29" letter-spacing="0.15">parseGeoJson.js</text>
<rect x="1929.5" y="1509.5" width="70.3" height="7.8" rx="3.8" fill="#834e51"/>
<text class="w" x="1964.7" y="1513.4" font-size="6.1" letter-spacing="0.25">Region.js</text>
<rect x="1893.2" y="1525.1" width="110.6" height="54.9" rx="3.8" fill="#95595d"/>
<text class="w" x="1948.5" y="1552.5" font-size="16.77" letter-spacing="0.66">axisHelper.js</text>
<rect x="1893.2" y="1584.3" width="110.6" height="54.5" rx="3.8" fill="#95595d"/>
<text class="w" x="1948.5" y="1611.5" font-size="9.43" letter-spacing="0.37">axisTickLabelBuilder.js</text>
<rect x="2007.6" y="1471.5" width="79.7" height="167.3" rx="3.8" fill="#95595d"/>
<text class="w" x="2047.5" y="1492.4" font-size="16.88" letter-spacing="0.69">cartesian</text>
<rect x="2011.4" y="1509.5" width="7.8" height="13.1" rx="3.8" fill="#834e51"/>
<text class="w" style="stroke-width:0.07px" x="2015.3" y="1516" font-size="2.28" letter-spacing="0.09">lang.ts</text>
<rect x="2022.8" y="1509.5" width="11.2" height="13.1" rx="3.8" fill="#834e51"/>
<text class="w" style="stroke-width:0.07px" x="2028.4" y="1516" font-size="1.22" letter-spacing="0.05">prepareCustom.js</text>
<rect x="2037.8" y="1509.5" width="13.6" height="13.1" rx="3.8" fill="#834e51"/>
<text class="w" style="stroke-width:0.07px" x="2044.6" y="1516" font-size="2.08" letter-spacing="0.09">GridModel.js</text>
<rect x="2055.2" y="1509.5" width="28.5" height="13.1" rx="3.8" fill="#834e51"/>
<text class="w" x="2069.4" y="1516" font-size="5.88" letter-spacing="0.24">Axis2D.js</text>
<rect x="2011.4" y="1526.8" width="20.9" height="35.9" rx="3.8" fill="#834e51"/>
<text class="w" style="stroke-width:0.07px" x="2021.8" y="1544.8" font-size="1.83" letter-spacing="0.07">cartesianAxisHelper.js</text>
<rect x="2036.1" y="1526.8" width="47.6" height="35.9" rx="3.8" fill="#834e51"/>
<text class="w" x="2059.9" y="1544.8" font-size="6.24" letter-spacing="0.26">Cartesian2D.js</text>
<rect x="2011.4" y="1567" width="72.3" height="68" rx="3.8" fill="#834e51"/>
<text class="w" x="2047.5" y="1601" font-size="21.28" letter-spacing="0.79">Grid.js</text>
<rect x="2095.6" y="960.9" width="464.6" height="203.5" rx="3.8" fill="#a36a6e"/>
<text x="2327.9" y="981.8" font-size="21.28" letter-spacing="0.61">util</text>
<rect x="2099.1" y="1000.4" width="15.5" height="6.8" rx="3.4" fill="#95595d"/>
<text class="w" x="2106.8" y="1003.8" font-size="3.33" letter-spacing="0.13">vendor.js</text>
<rect x="2099.1" y="1012.4" width="15.5" height="8.1" rx="3.8" fill="#95595d"/>
<text class="w" x="2106.8" y="1016.5" font-size="3.93" letter-spacing="0.15">types.js</text>
<rect x="2099.1" y="1025.8" width="15.5" height="17.9" rx="3.8" fill="#95595d"/>
<text class="w" style="stroke-width:0.07px" x="2106.8" y="1034.8" font-size="2.37" letter-spacing="0.09">innerStore.js</text>
<rect x="2099.1" y="1048" width="15.5" height="51" rx="3.8" fill="#95595d"/>
<text class="w" x="2106.8" y="1073.5" font-size="3.87" letter-spacing="0.15">event.js</text>
<rect x="2099.1" y="1103.3" width="15.5" height="57.3" rx="3.8" fill="#95595d"/>
<text class="w" style="stroke-width:0.07px" x="2106.8" y="1131.9" font-size="2.5" letter-spacing="0.10">animation.js</text>
<rect x="2118.4" y="998.7" width="57" height="29.8" rx="3.8" fill="#95595d"/>
<text class="w" x="2146.9" y="1013.6" font-size="8.24" letter-spacing="0.37">component.js</text>
<rect x="2118.4" y="1032.7" width="57" height="33.8" rx="3.8" fill="#95595d"/>
<text class="w" x="2146.9" y="1049.6" font-size="5.22" letter-spacing="0.23">ECEventProcessor.js</text>
<rect x="2118.4" y="1070.8" width="57" height="39.9" rx="3.8" fill="#95595d"/>
<text class="w" x="2146.9" y="1090.8" font-size="14.95" letter-spacing="0.55">clazz.js</text>
<rect x="2118.4" y="1114.9" width="57" height="45.7" rx="3.8" fill="#95595d"/>
<text class="w" x="2146.9" y="1137.8" font-size="12.78" letter-spacing="0.49">format.js</text>
<rect x="2179.4" y="998.7" width="62.5" height="41.2" rx="3.8" fill="#95595d"/>
<text class="w" x="2210.7" y="1019.3" font-size="13.24" letter-spacing="0.44">throttle.js</text>
<rect x="2179.4" y="1044.1" width="62.5" height="51.4" rx="3.8" fill="#95595d"/>
<text class="w" x="2210.7" y="1069.8" font-size="5.01" letter-spacing="0.20">conditionalExpression.js</text>
<rect x="2179.4" y="1099.7" width="62.5" height="60.9" rx="3.8" fill="#95595d"/>
<text class="w" x="2210.7" y="1130.2" font-size="12.89" letter-spacing="0.54">symbol.js</text>
<rect x="2245.9" y="998.7" width="97.2" height="42.9" rx="3.8" fill="#95595d"/>
<text class="w" x="2294.5" y="1020.1" font-size="21.28" letter-spacing="0.81">decal.js</text>
<rect x="2245.9" y="1045.8" width="97.2" height="43.8" rx="3.8" fill="#95595d"/>
<text class="w" x="2294.5" y="1067.7" font-size="21.28" letter-spacing="0.79">time.js</text>
<rect x="2245.9" y="1093.8" width="97.2" height="66.8" rx="3.8" fill="#95595d"/>
<text class="w" x="2294.5" y="1127.2" font-size="21.28" letter-spacing="0.78">layout.js</text>
<rect x="2347.1" y="998.7" width="91.2" height="77.8" rx="3.8" fill="#95595d"/>
<text class="w" x="2392.7" y="1037.6" font-size="21.05" letter-spacing="0.88">model.js</text>
<rect x="2347.1" y="1080.7" width="91.2" height="79.9" rx="3.8" fill="#95595d"/>
<text class="w" x="2392.7" y="1120.7" font-size="18.32" letter-spacing="0.71">graphic.js</text>
<rect x="2442.3" y="998.7" width="53.4" height="161.9" rx="3.8" fill="#95595d"/>
<text class="w" x="2469" y="1079.7" font-size="10.59" letter-spacing="0.46">number.js</text>
<rect x="2499.5" y="998.7" width="57.1" height="161.9" rx="3.8" fill="#95595d"/>
<text class="w" x="2528.1" y="1079.7" font-size="13.38" letter-spacing="0.49">states.js</text>
<rect x="2095.6" y="1168.6" width="464.6" height="211.2" rx="3.8" fill="#a36a6e"/>
<text x="2327.9" y="1189.5" font-size="21.28" letter-spacing="0.93">data</text>
<rect x="2099.1" y="1207" width="63" height="5" rx="2.5" fill="#95595d"/>
<text class="w" x="2130.6" y="1209.5" font-size="3.91" letter-spacing="0.17">SeriesDimensionDefine.js</text>
<rect x="2099.1" y="1216.2" width="63" height="20" rx="3.8" fill="#95595d"/>
<text class="w" x="2130.6" y="1226.2" font-size="8.4" letter-spacing="0.35">OrdinalMeta.js</text>
<rect x="2099.1" y="1240.9" width="63" height="52.8" rx="3.8" fill="#95595d"/>
<text class="w" x="2130.6" y="1267.3" font-size="12.99" letter-spacing="0.54">Source.js</text>
<rect x="2099.1" y="1297.9" width="63" height="77.9" rx="3.8" fill="#95595d"/>
<text class="w" x="2130.6" y="1336.8" font-size="9.98" letter-spacing="0.37">DataDiffer.js</text>
<rect x="2166.1" y="1206.6" width="165.6" height="77.8" rx="3.8" fill="#95595d"/>
<text class="w" x="2248.9" y="1245.5" font-size="21.28" letter-spacing="0.88">SeriesData.js</text>
<rect x="2166.1" y="1288.6" width="165.6" height="87.2" rx="3.8" fill="#95595d"/>
<text class="w" x="2248.9" y="1332.2" font-size="21.28" letter-spacing="0.88">DataStore.js</text>
<rect x="2335.7" y="1206.6" width="220.9" height="169.2" rx="3.8" fill="#95595d"/>
<text class="w" x="2446.1" y="1227.5" font-size="21.28" letter-spacing="0.89">helper</text>
<rect x="2339.5" y="1244.7" width="60.8" height="19" rx="3.8" fill="#834e51"/>
<text class="w" x="2369.9" y="1254.2" font-size="6.19" letter-spacing="0.26">dimensionHelper.js</text>
<rect x="2339.5" y="1267.9" width="60.8" height="20.1" rx="3.8" fill="#834e51"/>
<text class="w" x="2369.9" y="1278" font-size="6.28" letter-spacing="0.26">dataValueHelper.js</text>
<rect x="2339.5" y="1292.2" width="60.8" height="32.1" rx="3.8" fill="#834e51"/>
<text class="w" x="2369.9" y="1308.2" font-size="6.27" letter-spacing="0.26">dataStackHelper.js</text>
<rect x="2339.5" y="1328.5" width="60.8" height="43.5" rx="3.8" fill="#834e51"/>
<text class="w" x="2369.9" y="1350.2" font-size="5.44" letter-spacing="0.25">SeriesDataSchema.js</text>
<rect x="2404.1" y="1244.7" width="76.2" height="35.9" rx="3.8" fill="#834e51"/>
<text class="w" x="2442.2" y="1262.7" font-size="12.54" letter-spacing="0.49">transform.js</text>
<rect x="2404.1" y="1284.8" width="76.2" height="41.6" rx="3.8" fill="#834e51"/>
<text class="w" x="2442.2" y="1305.6" font-size="8.3" letter-spacing="0.37">sourceManager.js</text>
<rect x="2404.1" y="1330.6" width="76.2" height="41.4" rx="3.8" fill="#834e51"/>
<text class="w" x="2442.2" y="1351.3" font-size="9.9" letter-spacing="0.39">dataProvider.js</text>
<rect x="2484.1" y="1244.7" width="68.7" height="59.1" rx="3.8" fill="#834e51"/>
<text class="w" x="2518.4" y="1274.2" font-size="6.56" letter-spacing="0.28">createDimensions.js</text>
<rect x="2484.1" y="1308" width="68.7" height="64" rx="3.8" fill="#834e51"/>
<text class="w" x="2518.4" y="1340" font-size="8.57" letter-spacing="0.35">sourceHelper.js</text>
<rect x="2095.6" y="1384.3" width="464.6" height="258.3" rx="3.8" fill="#a36a6e"/>
<text x="2327.9" y="1405.2" font-size="21.28" letter-spacing="0.85">chart</text>
<rect x="2099.1" y="1422.3" width="102.7" height="65.9" rx="3.8" fill="#95595d"/>
<text class="w" x="2150.4" y="1443.2" font-size="21.28" letter-spacing="0.89">radar</text>
<rect x="2103" y="1461" width="5.9" height="2" rx="1" fill="#834e51"/>
<rect x="2103" y="1468" width="5.9" height="16.6" rx="3" fill="#834e51"/>
<text class="w" style="stroke-width:0.07px" x="2105.9" y="1476.3" font-size="1.9" letter-spacing="0.08">dex.ts</text>
<rect x="2112.5" y="1459.9" width="30.6" height="5.7" rx="2.8" fill="#834e51"/>
<text class="w" x="2127.8" y="1462.8" font-size="4.15" letter-spacing="0.17">radarLayout.js</text>
<rect x="2112.5" y="1469.8" width="30.6" height="14.8" rx="3.8" fill="#834e51"/>
<text class="w" x="2127.8" y="1477.2" font-size="4.01" letter-spacing="0.17">RadarSeries.js</text>
<rect x="2146.9" y="1459.9" width="51.1" height="24.7" rx="3.8" fill="#834e51"/>
<text class="w" x="2172.4" y="1472.2" font-size="7.55" letter-spacing="0.33">RadarView.js</text>
<rect x="2099.1" y="1492.4" width="102.7" height="146.4" rx="3.8" fill="#95595d"/>
<text class="w" x="2150.4" y="1513.3" font-size="21.28" letter-spacing="0.89">helper</text>
<rect x="2103" y="1530.6" width="3.8" height="20.5" rx="1.9" fill="#834e51"/>
<rect x="2110.8" y="1530.6" width="7.6" height="20.5" rx="3.8" fill="#834e51"/>
<text class="w" style="stroke-width:0.07px" x="2114.6" y="1540.8" font-size="1.9" letter-spacing="0.08">dex.mjs</text>
<rect x="2122.2" y="1530.6" width="11.4" height="20.5" rx="3.8" fill="#834e51"/>
<text class="w" style="stroke-width:0.07px" x="2127.9" y="1540.8" font-size="1.63" letter-spacing="0.06">labelHelper.js</text>
<rect x="2137.4" y="1530.6" width="13.1" height="20.5" rx="3.8" fill="#834e51"/>
<text class="w" style="stroke-width:0.24px" x="2143.9" y="1540.8" font-size="1.11" letter-spacing="0.05">whiskerBoxCommon.js</text>
<rect x="2154.7" y="1530.6" width="43.3" height="20.5" rx="3.8" fill="#834e51"/>
<text class="w" style="stroke-width:0.07px" x="2176.3" y="1540.8" font-size="2.61" letter-spacing="0.12">createClipPathFromCoordSys.js</text>
<rect x="2103" y="1555.3" width="45.8" height="30.2" rx="3.8" fill="#834e51"/>
<text class="w" x="2125.9" y="1570.4" font-size="4.51" letter-spacing="0.19">createSeriesData.js</text>
<rect x="2103" y="1589.8" width="45.8" height="45.2" rx="3.8" fill="#834e51"/>
<text class="w" x="2125.9" y="1612.4" font-size="5.95" letter-spacing="0.27">SymbolDraw.js</text>
<rect x="2152.6" y="1555.3" width="45.4" height="79.7" rx="3.8" fill="#834e51"/>
<text class="w" x="2175.3" y="1595.2" font-size="9" letter-spacing="0.39">Symbol.js</text>
<rect x="2206" y="1422.3" width="197.9" height="106.2" rx="3.8" fill="#95595d"/>
<text class="w" x="2304.9" y="1443.2" font-size="21.28" letter-spacing="0.92">bar</text>
<rect x="2209.6" y="1459.9" width="36.3" height="7.8" rx="3.8" fill="#834e51"/>
<text class="w" x="2227.8" y="1463.8" font-size="6.1" letter-spacing="0.20">install.js</text>
<rect x="2209.6" y="1471.9" width="36.3" height="12.7" rx="3.8" fill="#834e51"/>
<text class="w" x="2227.8" y="1478.2" font-size="5.79" letter-spacing="0.23">BarSeries.js</text>
<rect x="2209.6" y="1488.8" width="36.3" height="35.9" rx="3.8" fill="#834e51"/>
<text class="w" x="2227.8" y="1506.8" font-size="4.07" letter-spacing="0.18">BaseBarSeries.js</text>
<rect x="2249.7" y="1459.9" width="150.6" height="64.8" rx="3.8" fill="#834e51"/>
<text class="w" x="2325" y="1492.3" font-size="21.28" letter-spacing="0.89">BarView.js</text>
<rect x="2206" y="1532.7" width="197.9" height="106.1" rx="3.8" fill="#95595d"/>
<text class="w" x="2304.9" y="1553.6" font-size="21.28" letter-spacing="0.85">pie</text>
<rect x="2209.6" y="1574.3" width="26.8" height="60.7" rx="3.8" fill="#834e51"/>
<text class="w" x="2223" y="1604.7" font-size="4.36" letter-spacing="0.17">PieSeries.js</text>
<rect x="2240.2" y="1570.8" width="76.5" height="26.1" rx="3.8" fill="#834e51"/>
<text class="w" x="2278.4" y="1583.8" font-size="12.32" letter-spacing="0.49">pieLayout.js</text>
<rect x="2240.2" y="1601.2" width="76.5" height="33.8" rx="3.8" fill="#834e51"/>
<text class="w" x="2278.4" y="1618.1" font-size="14.49" letter-spacing="0.59">PieView.js</text>
<rect x="2320.5" y="1570.8" width="79.8" height="64.2" rx="3.8" fill="#834e51"/>
<text class="w" x="2360.4" y="1602.9" font-size="11.22" letter-spacing="0.44">labelLayout.js</text>
<rect x="2407.9" y="1422.3" width="148.7" height="216.5" rx="3.8" fill="#95595d"/>
<text class="w" x="2482.2" y="1443.2" font-size="21.28" letter-spacing="0.75">line</text>
<rect x="2411.7" y="1459.9" width="5.9" height="32.1" rx="3" fill="#834e51"/>
<text class="w" style="stroke-width:0.07px" x="2414.6" y="1476" font-size="1.9" letter-spacing="0.08">dex.ts</text>
<rect x="2421.2" y="1459.9" width="28.5" height="32.1" rx="3.8" fill="#834e51"/>
<text class="w" x="2435.4" y="1476" font-size="6.58" letter-spacing="0.24">helper.js</text>
<rect x="2453.7" y="1459.9" width="39.9" height="32.1" rx="3.8" fill="#834e51"/>
<text class="w" x="2473.6" y="1476" font-size="5.99" letter-spacing="0.24">LineSeries.js</text>
<rect x="2497.6" y="1459.9" width="55.2" height="32.1" rx="3.8" fill="#834e51"/>
<text class="w" x="2525.2" y="1476" font-size="5.59" letter-spacing="0.21">lineAnimationDiff.js</text>
<rect x="2411.7" y="1496.2" width="141.1" height="28.5" rx="3.8" fill="#834e51"/>
<text class="w" x="2482.2" y="1510.5" font-size="21.28" letter-spacing="0.76">poly.js</text>
<rect x="2411.7" y="1528.9" width="141.1" height="106.1" rx="3.8" fill="#834e51"/>
<text class="w" x="2482.2" y="1582" font-size="21.28" letter-spacing="0.87">LineView.js</text>
<rect x="2564.4" y="960.9" width="366.1" height="681.7" rx="3.8" fill="#a36a6e"/>
<text x="2747.4" y="981.8" font-size="21.28" letter-spacing="1.05">component</text>
<rect x="2568.3" y="998.9" width="7.5" height="88.9" rx="3.8" fill="#95595d"/>
<text class="w" x="2572.1" y="1043.3" font-size="3.87" letter-spacing="0.15">grid</text>
<rect x="2579.8" y="998.9" width="7.4" height="88.9" rx="3.7" fill="#95595d"/>
<text class="w" style="stroke-width:0.07px" x="2583.5" y="1043.3" font-size="1.97" letter-spacing="0.08">ndex.ts</text>
<rect x="2591.1" y="998.9" width="22.8" height="88.9" rx="3.8" fill="#95595d"/>
<text class="w" x="2602.5" y="1019.8" font-size="4.64" letter-spacing="0.20">transform</text>
<rect x="2596.8" y="1037.3" width="13.2" height="12.2" rx="3.8" fill="#834e51"/>
<text class="w" style="stroke-width:0.07px" x="2603.4" y="1043.4" font-size="1.53" letter-spacing="0.06">filterTransform.js</text>
<rect x="2594.9" y="1053.9" width="15.1" height="30.3" rx="3.8" fill="#834e51"/>
<text class="w" style="stroke-width:0.07px" x="2602.4" y="1069.1" font-size="1.81" letter-spacing="0.07">sortTransform.js</text>
<rect x="2617.9" y="998.9" width="36" height="88.9" rx="3.8" fill="#95595d"/>
<text class="w" x="2635.9" y="1043.3" font-size="5.74" letter-spacing="0.17">title/install.js</text>
<rect x="2657.8" y="998.9" width="41.9" height="88.9" rx="3.8" fill="#95595d"/>
<text class="w" x="2678.8" y="1019.8" font-size="15.43" letter-spacing="0.65">radar</text>
<rect x="2665.5" y="1037.3" width="30.5" height="46.9" rx="3.8" fill="#834e51"/>
<text class="w" x="2680.8" y="1060.8" font-size="4.51" letter-spacing="0.20">RadarView.js</text>
<rect x="2703.8" y="998.9" width="223" height="88.9" rx="3.8" fill="#95595d"/>
<text class="w" x="2815.3" y="1019.8" font-size="21.28" letter-spacing="0.85">axis</text>
<rect x="2707.4" y="1037.3" width="26.6" height="18.2" rx="3.8" fill="#834e51"/>
<text class="w" x="2720.7" y="1046.4" font-size="4.59" letter-spacing="0.19">AxisView.js</text>
<rect x="2707.4" y="1059.6" width="26.6" height="24.6" rx="3.8" fill="#834e51"/>
<text class="w" style="stroke-width:0.07px" x="2720.7" y="1071.9" font-size="3" letter-spacing="0.11">axisSplitHelper.js</text>
<rect x="2737.9" y="1037.3" width="43.7" height="46.9" rx="3.8" fill="#834e51"/>
<text class="w" x="2759.8" y="1060.8" font-size="4.06" letter-spacing="0.17">CartesianAxisView.js</text>
<rect x="2785.7" y="1037.3" width="137.3" height="46.9" rx="3.8" fill="#834e51"/>
<text class="w" x="2854.3" y="1060.8" font-size="19.85" letter-spacing="0.76">AxisBuilder.js</text>
<rect x="2568.3" y="1092.2" width="98.8" height="218.9" rx="3.8" fill="#95595d"/>
<text class="w" x="2617.7" y="1113.1" font-size="18.86" letter-spacing="0.96">dataZoom</text>
<rect x="2572" y="1130.2" width="4" height="7.4" rx="2" fill="#834e51"/>
<rect x="2579.8" y="1130.2" width="13.9" height="7.4" rx="3.7" fill="#834e51"/>
<text class="w" style="stroke-width:0.07px" x="2586.8" y="1133.9" font-size="2.01" letter-spacing="0.08">ore/index.mjs</text>
<rect x="2596.8" y="1130.2" width="11.4" height="7.4" rx="3.7" fill="#834e51"/>
<text class="w" style="stroke-width:0.07px" x="2602.5" y="1133.9" font-size="2.07" letter-spacing="0.09">ue&amp;lang.ts</text>
<rect x="2612" y="1130.2" width="13.4" height="7.4" rx="3.7" fill="#834e51"/>
<text class="w" style="stroke-width:0.07px" x="2618.7" y="1133.9" font-size="2.47" letter-spacing="0.09">ils/index.ts</text>
<rect x="2629.1" y="1130.2" width="13.9" height="7.4" rx="3.7" fill="#834e51"/>
<text class="w" style="stroke-width:0.07px" x="2636.1" y="1133.9" font-size="2.02" letter-spacing="0.08">=true&amp;lang.ts</text>
<rect x="2646.6" y="1130.2" width="16.8" height="7.4" rx="3.7" fill="#834e51"/>
<text class="w" style="stroke-width:0.07px" x="2655" y="1133.9" font-size="1.98" letter-spacing="0.08">e/core/index.mjs</text>
<rect x="2572" y="1142" width="19.1" height="37.6" rx="3.8" fill="#834e51"/>
<text class="w" x="2581.6" y="1160.8" font-size="4.41" letter-spacing="0.16">helper.js</text>
<rect x="2594.9" y="1142" width="21.2" height="37.6" rx="3.8" fill="#834e51"/>
<text class="w" x="2605.5" y="1160.8" font-size="4.71" letter-spacing="0.16">history.js</text>
<rect x="2619.8" y="1142" width="43.9" height="37.6" rx="3.8" fill="#834e51"/>
<text class="w" x="2641.8" y="1160.8" font-size="3.79" letter-spacing="0.17">dataZoomProcessor.js</text>
<rect x="2572" y="1183.8" width="40" height="123.5" rx="3.8" fill="#834e51"/>
<text class="w" x="2592" y="1245.5" font-size="4.1" letter-spacing="0.19">DataZoomModel.js</text>
<rect x="2616.1" y="1183.8" width="47.6" height="123.5" rx="3.8" fill="#834e51"/>
<text class="w" x="2639.9" y="1245.5" font-size="7.62" letter-spacing="0.31">AxisProxy.js</text>
<rect x="2671" y="1092.2" width="124" height="218.9" rx="3.8" fill="#95595d"/>
<text class="w" x="2733" y="1113.1" font-size="21.28" letter-spacing="0.89">helper</text>
<rect x="2674.8" y="1130.2" width="11.7" height="18.8" rx="3.8" fill="#834e51"/>
<text class="w" style="stroke-width:0.07px" x="2680.7" y="1139.6" font-size="1.21" letter-spacing="0.05">interactionMutex.js</text>
<rect x="2690.3" y="1130.2" width="17.1" height="18.8" rx="3.8" fill="#834e51"/>
<text class="w" style="stroke-width:0.07px" x="2698.9" y="1139.6" font-size="2.3" letter-spacing="0.09">brushHelper.js</text>
<rect x="2711" y="1130.2" width="29" height="18.8" rx="3.8" fill="#834e51"/>
<text class="w" x="2725.5" y="1139.6" font-size="3.37" letter-spacing="0.14">listComponent.js</text>
<rect x="2743.8" y="1130.2" width="47.3" height="18.8" rx="3.8" fill="#834e51"/>
<text class="w" x="2767.4" y="1139.6" font-size="6.1" letter-spacing="0.24">cursorHelper.js</text>
<rect x="2674.8" y="1153" width="36.3" height="62.7" rx="3.8" fill="#834e51"/>
<text class="w" x="2692.9" y="1184.3" font-size="5.35" letter-spacing="0.22">sliderMove.js</text>
<rect x="2715.1" y="1153" width="76" height="62.7" rx="3.8" fill="#834e51"/>
<text class="w" x="2753.1" y="1184.3" font-size="6.35" letter-spacing="0.28">BrushTargetManager.js</text>
<rect x="2674.8" y="1220.1" width="116.3" height="87.2" rx="3.8" fill="#834e51"/>
<text class="w" x="2732.9" y="1263.7" font-size="12.67" letter-spacing="0.50">BrushController.js</text>
<rect x="2799.1" y="1092.2" width="127.7" height="218.9" rx="3.8" fill="#95595d"/>
<text class="w" x="2862.9" y="1113.1" font-size="21.28" letter-spacing="0.88">toolbox</text>
<rect x="2802.5" y="1130.2" width="12.1" height="7.4" rx="3.7" fill="#834e51"/>
<text class="w" style="stroke-width:0.07px" x="2808.6" y="1133.9" font-size="2.92" letter-spacing="0.09">install.js</text>
<rect x="2818.3" y="1130.2" width="41.6" height="7.4" rx="3.7" fill="#834e51"/>
<text class="w" x="2839.1" y="1133.9" font-size="4.47" letter-spacing="0.19">featureManager.js</text>
<rect x="2864" y="1130.2" width="59" height="7.4" rx="3.7" fill="#834e51"/>
<text class="w" x="2893.5" y="1133.9" font-size="5.78" letter-spacing="0.25">ToolboxModel.js</text>
<rect x="2802.8" y="1142" width="26.6" height="165.3" rx="3.8" fill="#834e51"/>
<text class="w" x="2816.1" y="1224.7" font-size="3.5" letter-spacing="0.15">ToolboxView.js</text>
<rect x="2833.5" y="1142" width="89.5" height="165.3" rx="3.8" fill="#834e51"/>
<text class="w" x="2878.2" y="1162.9" font-size="21.28" letter-spacing="0.85">feature</text>
<rect x="2837" y="1179.8" width="3.8" height="41.6" rx="1.9" fill="#704346"/>
<rect x="2844.7" y="1179.8" width="28.3" height="41.6" rx="3.8" fill="#704346"/>
<text class="w" x="2858.8" y="1200.6" font-size="3.37" letter-spacing="0.16">SaveAsImage.js</text>
<rect x="2877" y="1179.8" width="42.1" height="41.6" rx="3.8" fill="#704346"/>
<text class="w" x="2898.1" y="1200.6" font-size="6.2" letter-spacing="0.27">MagicType.js</text>
<rect x="2837" y="1225.8" width="82.1" height="28.2" rx="3.8" fill="#704346"/>
<text class="w" x="2878.1" y="1239.9" font-size="12.45" letter-spacing="0.58">DataZoom.js</text>
<rect x="2837" y="1258.1" width="82.1" height="45.6" rx="3.8" fill="#704346"/>
<text class="w" x="2878.1" y="1280.9" font-size="13.55" letter-spacing="0.58">DataView.js</text>
<rect x="2568.3" y="1315.2" width="213.3" height="154.1" rx="3.8" fill="#95595d"/>
<text class="w" x="2674.9" y="1336.1" font-size="21.28" letter-spacing="0.96">legend</text>
<rect x="2572" y="1355.3" width="17" height="1.7" rx="0.9" fill="#834e51"/>
<text class="w" style="stroke-width:0.24px" x="2580.5" y="1356.2" font-size="0.34" letter-spacing="0.01">Users/vben/Developer/github/vben/vben-admin-pro/packages/@core/base/shared/src/utils/index.ts</text>
<rect x="2572" y="1361.5" width="17" height="2" rx="1" fill="#834e51"/>
<text class="w" style="stroke-width:0.24px" x="2580.5" y="1362.5" font-size="0.45" letter-spacing="0.02">components/preferences-button.vue?vue&amp;type=script&amp;setup=true&amp;lang.ts</text>
<rect x="2572" y="1368.7" width="17" height="43.5" rx="3.8" fill="#834e51"/>
<text class="w" style="stroke-width:0.07px" x="2580.5" y="1390.5" font-size="2.37" letter-spacing="0.09">legendFilter.js</text>
<rect x="2572" y="1416.5" width="17" height="49" rx="3.8" fill="#834e51"/>
<text class="w" style="stroke-width:0.07px" x="2580.5" y="1441" font-size="2.15" letter-spacing="0.09">legendAction.js</text>
<rect x="2592.9" y="1353.5" width="51.7" height="16.3" rx="3.8" fill="#834e51"/>
<text class="w" x="2618.8" y="1361.7" font-size="3.92" letter-spacing="0.16">scrollableLegendAction.js</text>
<rect x="2592.9" y="1373.9" width="51.7" height="21" rx="3.8" fill="#834e51"/>
<text class="w" x="2618.8" y="1384.4" font-size="6.55" letter-spacing="0.27">legendAction.js</text>
<rect x="2592.9" y="1399.2" width="51.7" height="66.3" rx="3.8" fill="#834e51"/>
<text class="w" x="2618.8" y="1432.3" font-size="6.29" letter-spacing="0.29">LegendModel.js</text>
<rect x="2648.4" y="1353.5" width="129.5" height="51" rx="3.8" fill="#834e51"/>
<text class="w" x="2713.2" y="1379" font-size="10.29" letter-spacing="0.44">ScrollableLegendView.js</text>
<rect x="2648.4" y="1409" width="129.5" height="56.5" rx="3.8" fill="#834e51"/>
<text class="w" x="2713.2" y="1437.2" font-size="17.31" letter-spacing="0.77">LegendView.js</text>
<rect x="2568.3" y="1473.4" width="213.3" height="165.8" rx="3.8" fill="#95595d"/>
<text class="w" x="2674.9" y="1494.3" font-size="21.28" letter-spacing="0.86">axisPointer</text>
<rect x="2572.1" y="1511.7" width="34.2" height="14.9" rx="3.8" fill="#834e51"/>
<text class="w" x="2589.2" y="1519.2" font-size="3.61" letter-spacing="0.15">AxisPointerView.js</text>
<rect x="2572.1" y="1530.7" width="34.2" height="16.8" rx="3.8" fill="#834e51"/>
<text class="w" x="2589.2" y="1539.1" font-size="8.27" letter-spacing="0.26">install.js</text>
<rect x="2572.1" y="1551.5" width="34.2" height="22.7" rx="3.8" fill="#834e51"/>
<text class="w" style="stroke-width:0.07px" x="2589.2" y="1562.8" font-size="2.92" letter-spacing="0.12">findPointFromSeries.js</text>
<rect x="2572.1" y="1578.1" width="34.2" height="20.8" rx="3.8" fill="#834e51"/>
<text class="w" x="2589.2" y="1588.5" font-size="3.35" letter-spacing="0.14">AxisPointerModel.js</text>
<rect x="2572.1" y="1603.2" width="34.2" height="32" rx="3.8" fill="#834e51"/>
<text class="w" x="2589.2" y="1619.2" font-size="4.1" letter-spacing="0.16">globalListener.js</text>
<rect x="2610.2" y="1511.7" width="72.5" height="20.4" rx="3.8" fill="#834e51"/>
<text class="w" x="2646.4" y="1521.9" font-size="6.06" letter-spacing="0.24">CartesianAxisPointer.js</text>
<rect x="2610.2" y="1536" width="72.5" height="28.7" rx="3.8" fill="#834e51"/>
<text class="w" x="2646.4" y="1550.3" font-size="10.58" letter-spacing="0.43">viewHelper.js</text>
<rect x="2610.2" y="1568.6" width="72.5" height="66.6" rx="3.8" fill="#834e51"/>
<text class="w" x="2646.4" y="1601.9" font-size="9.42" letter-spacing="0.40">modelHelper.js</text>
<rect x="2686.3" y="1511.7" width="39.9" height="123.5" rx="3.8" fill="#834e51"/>
<text class="w" x="2706.2" y="1573.5" font-size="4.14" letter-spacing="0.17">BaseAxisPointer.js</text>
<rect x="2730.1" y="1511.7" width="48" height="123.5" rx="3.8" fill="#834e51"/>
<text class="w" x="2754.1" y="1573.5" font-size="7.05" letter-spacing="0.27">axisTrigger.js</text>
<rect x="2785.7" y="1315.2" width="141.1" height="324" rx="3.8" fill="#95595d"/>
<text class="w" x="2856.2" y="1336.1" font-size="21.28" letter-spacing="0.73">tooltip</text>
<rect x="2789.3" y="1353.5" width="5.8" height="30.2" rx="2.9" fill="#834e51"/>
<text class="w" style="stroke-width:0.07px" x="2792.2" y="1368.6" font-size="1.83" letter-spacing="0.07">ang.ts</text>
<rect x="2799.1" y="1353.5" width="16.8" height="30.2" rx="3.8" fill="#834e51"/>
<text class="w" x="2807.5" y="1368.6" font-size="3.88" letter-spacing="0.14">helper.js</text>
<rect x="2819.9" y="1353.5" width="40" height="30.2" rx="3.8" fill="#834e51"/>
<text class="w" x="2839.9" y="1368.6" font-size="5.2" letter-spacing="0.21">TooltipModel.js</text>
<rect x="2864" y="1353.5" width="59" height="30.2" rx="3.8" fill="#834e51"/>
<text class="w" x="2893.5" y="1368.6" font-size="5.22" letter-spacing="0.21">seriesFormatTooltip.js</text>
<rect x="2789.6" y="1387.9" width="45.4" height="56.3" rx="3.8" fill="#834e51"/>
<text class="w" x="2812.3" y="1416.1" font-size="4.15" letter-spacing="0.17">TooltipRichContent.js</text>
<rect x="2839" y="1387.9" width="84" height="56.3" rx="3.8" fill="#834e51"/>
<text class="w" x="2881" y="1416.1" font-size="10.31" letter-spacing="0.41">tooltipMarkup.js</text>
<rect x="2789.6" y="1448.7" width="39.9" height="186.5" rx="3.8" fill="#834e51"/>
<text class="w" x="2809.6" y="1542" font-size="3.39" letter-spacing="0.15">TooltipHTMLContent.js</text>
<rect x="2833.4" y="1448.7" width="89.6" height="186.5" rx="3.8" fill="#834e51"/>
<text class="w" x="2878.2" y="1542" font-size="12.87" letter-spacing="0.50">TooltipView.js</text>
</svg>
</body></html>
